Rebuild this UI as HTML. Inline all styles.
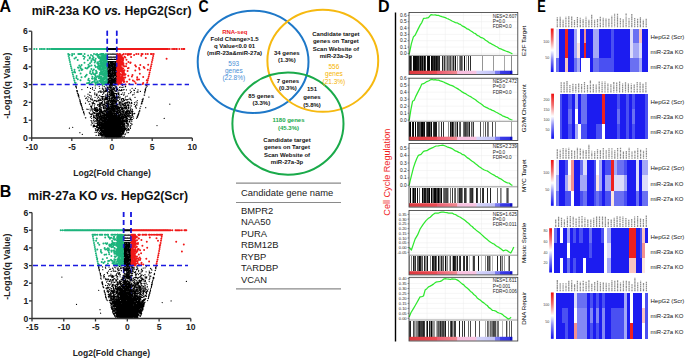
<!DOCTYPE html>
<html><head><meta charset="utf-8"><style>
html,body{margin:0;padding:0;background:#fff;width:685px;height:359px;overflow:hidden}
svg{display:block}
</style></head><body>
<svg width="685" height="359" viewBox="0 0 685 359">
<rect width="685" height="359" fill="#fff"/>
<g stroke="#1a1ae0" stroke-width="1.5" stroke-dasharray="5 3" fill="none"><path d="M107.3 30.7V138"/><path d="M116.7 30.7V138"/></g><path d="M132 117.4h0M108.1 122.7h0M109.8 130.8h0M120.8 130.9h0M119 134.9h0M118.4 126.3h0M108.2 127.6h0M114.9 124.1h0M108.8 133.7h0M102.4 125.9h0M120.2 125h0M112.4 119.8h0M117.5 136.6h0M112.4 132.5h0M104.7 106.6h0M104.4 121.4h0M108.4 128h0M105.8 136.2h0M119 108.7h0M103.1 132.8h0M122.8 98.5h0M107.3 127.2h0M110.2 119.1h0M113.8 129h0M112 134.2h0M115.5 133.6h0M112.6 134.1h0M111 114.3h0M113.9 123h0M107.6 129.1h0M101.7 118.9h0M125.1 128.7h0M114.4 135.4h0M113.2 133.4h0M106.6 126.2h0M98.5 110.3h0M120.8 112.3h0M118 127.8h0M100.5 105.9h0M114.9 128.5h0M111.7 135.5h0M101.1 112h0M113.8 108.3h0M106.8 135.2h0M108.8 123.3h0M107.7 104.5h0M111.3 135.1h0M126.9 110h0M111.2 108h0M116.4 130.7h0M113.1 134.1h0M118.2 106.4h0M109.3 112.1h0M112.5 131.5h0M104.2 107.8h0M111.5 116.8h0M119.3 127.4h0M106 122.2h0M124.7 115.7h0M111.6 128.7h0M106 130.2h0M116.5 132.5h0M116 136.1h0M108.1 131.2h0M122.3 132.2h0M100.9 103.3h0M113.1 131.4h0M117.3 136.1h0M108 133.2h0M99.3 110.7h0M85.7 98.5h0M92.9 111.6h0M113.9 112.4h0M110.7 133.2h0M120.4 90.5h0M130 98h0M110.7 129.3h0M102.3 128.8h0M85.5 103.2h0M113.3 124.5h0M111.8 135.6h0M110.5 109.6h0M127 114.8h0M123.2 130h0M122.4 123.7h0M117.1 134h0M114.7 94.8h0M116.3 99.7h0M110.2 105.3h0M120.8 105.2h0M112.7 107.8h0M95.5 118.4h0M107.5 132.8h0M111 132.6h0M114.9 132.3h0M117.5 129.8h0M112.2 132.4h0M112.5 107.4h0M125.4 127.8h0M122.5 117.5h0M105.2 127.8h0M128.4 128.5h0M106.3 132.4h0M120 133.7h0M103.8 129.8h0M107.6 133.8h0M101.6 131.9h0M123.2 116.6h0M105.9 115.5h0M119 131.1h0M105.4 135.4h0M126.7 107.7h0M96.6 109.5h0M124.3 103.2h0M109.3 130.2h0M119.2 123.8h0M104 135.9h0M113 126.3h0M108.9 98.5h0M107.2 131.1h0M110.9 99.9h0M110.2 131.6h0M118.7 118.1h0M113.1 124.6h0M107 126.2h0M119.9 130.2h0M132.4 119.6h0M110.5 136.7h0M104.4 128.7h0M119.5 134.5h0M119.7 125.8h0M107.3 127.3h0M108.9 119.2h0M117.6 134.7h0M110.2 132.3h0M133.9 94.6h0M116.6 122.9h0M108.2 132.4h0M109.9 110.3h0M100.9 90.8h0M111.8 131.7h0M110.5 136.1h0M131 112.3h0M107.7 134.4h0M118.2 93.5h0M113.5 96.6h0M103.2 124.9h0M119 123h0M104.5 129.7h0M118.7 123.2h0M115.2 135.3h0M121.6 106.9h0M112.2 127.4h0M106.2 133.3h0M118.9 133.6h0M102.6 128.5h0M127.7 99.5h0M105.2 97.4h0M94.8 107.8h0M119.8 128.8h0M121 107.8h0M116.4 129.2h0M118.4 100.7h0M117.8 123.8h0M104 132.6h0M119.5 112.3h0M108.2 122.2h0M111 123h0M108.3 129h0M115.7 110.5h0M104.3 130.3h0M104.2 117h0M118.1 108.2h0M110.9 137.2h0M117.4 112.1h0M94.4 100.3h0M102.2 128.7h0M109.1 131.7h0M105.7 129.4h0M100.3 134.9h0M123.7 122.8h0M124.8 129.1h0M119.5 124.9h0M105.5 127.1h0M110 131.9h0M106.5 121h0M100 134.1h0M114.3 126.2h0M112.9 117.5h0M109.3 133.3h0M135 97.4h0M104.4 119.1h0M107 102.7h0M117.4 135.1h0M112 115.3h0M95.9 129.7h0M104.9 122.8h0M110.3 126.3h0M107.9 120.8h0M124.7 103.8h0M117 106h0M110.2 122.2h0M111.8 114.4h0M123.9 117.9h0M127.4 121.6h0M110.2 122.3h0M110.3 135.6h0M119.5 121.3h0M100.9 124.5h0M105.5 135h0M108 126.2h0M129.9 113.6h0M107 129h0M112.6 116.3h0M123.3 119.9h0M115.5 123.5h0M107.5 126.3h0M109.2 136.4h0M116 115.8h0M128.9 114.6h0M97.4 98h0M111.9 98.3h0M118.6 112.6h0M118.2 126.5h0M124.4 107.1h0M115.6 137.1h0M115.1 136.8h0M94 126.7h0M108.7 115.6h0M111.9 109.3h0M109.5 131.9h0M127.3 105.3h0M113.8 133.8h0M114.7 95.9h0M106.8 101.3h0M116.5 93.6h0M111.2 134.6h0M104.5 133.5h0M116.4 133.8h0M115.5 107.5h0M121.9 87.4h0M109.3 121h0M95.8 113.3h0M116.2 133.8h0M104.6 110.4h0M115 134.3h0M106.2 136.9h0M108.6 129.6h0M89.2 112.7h0M115.2 123.3h0M109.3 125.3h0M120.3 130.1h0M105.2 129.5h0M122.8 125.9h0M106.7 127.9h0M105.9 99.4h0M113 118.8h0M106.7 133.4h0M117.2 128.5h0M116.7 134.3h0M112.6 129.8h0M117.8 131.6h0M104 125.5h0M113.3 110.2h0M140.4 91.4h0M117.5 128.2h0M102.9 135.4h0M121.5 108.6h0M131.2 119.4h0M107.6 120.9h0M116.7 109.5h0M112.2 123.8h0M99.2 121.4h0M109.4 120.5h0M115.5 126.7h0M90.6 98.6h0M101.9 98.3h0M102.4 125.2h0M124 127.6h0M109.6 136.4h0M97.4 117.7h0M109.6 129.2h0M112.7 114h0M114.9 107.4h0M112.9 123.6h0M124.4 108.2h0M116.3 116.4h0M119.6 131h0M112.3 129h0M120.5 127.2h0M106.8 120.7h0M117.5 127.7h0M102.1 132.3h0M110.4 119.1h0M111.7 127.3h0M112.7 107h0M110.2 136h0M105.5 107.3h0M112.7 128.7h0M100.7 103.1h0M91.3 114h0M126.1 102.4h0M116.7 119.7h0M115.4 131.5h0M111.7 134.2h0M110.6 134.1h0M115.7 128.7h0M111.1 122.7h0M117.6 131.5h0M108.3 100.7h0M117.4 128.9h0M102 123.3h0M112.6 123.2h0M116.9 129.1h0M116.7 137.8h0M106.7 110.6h0M104 129.2h0M113.9 124.4h0M123.6 128.3h0M115 126.4h0M111.6 117.9h0M111.1 104.1h0M101.6 117.2h0M101.9 118.4h0M115.2 134.1h0M113.1 137h0M108.6 121.1h0M117.2 135.6h0M92.4 99h0M119.7 103.9h0M114 122.6h0M110.1 123.9h0M117.3 131.9h0M108.6 132.7h0M113.3 129.4h0M118.6 127.7h0M109.9 110h0M115.9 131.9h0M110 128.2h0M106.1 132.5h0M102 123.8h0M124.8 124.1h0M129.1 114.9h0M111 104.8h0M105.3 133h0M107.9 125h0M97.9 130h0M115.4 125h0M120.6 130.4h0M110.1 119.9h0M110.9 113.6h0M112.9 106.7h0M119.7 122.1h0M108.8 136h0M117.9 128.7h0M114 112.8h0M117.2 113.6h0M109.9 96.2h0M120.8 132.8h0M117.4 130.5h0M110.5 123.6h0M109.2 120.5h0M100.1 126h0M114.3 118.6h0M126.6 111.6h0M121.9 130.2h0M135.7 105.6h0M109.1 123.8h0M110.4 132.4h0M118.4 107.4h0M106 119.3h0M109.9 137.1h0M122.9 118.8h0M97.1 114.8h0M109.8 135.3h0M115.6 133.2h0M102.7 127h0M115.6 132.3h0M101 96.5h0M106.3 113.4h0M104.1 126.5h0M113.6 134.3h0M108.7 118.8h0M94.4 113.6h0M92.8 100.2h0M131.2 100.2h0M105 132.8h0M110 130.5h0M109.8 134.4h0M110.5 130.8h0M104.6 126.8h0M113.7 130.7h0M115.8 119h0M116.3 129.9h0M112.4 119.5h0M107.5 135.4h0M117.2 130.2h0M109.1 132.1h0M103.7 104.8h0M111.6 128h0M99.1 125h0M98.5 123.9h0M103.3 125h0M105.9 136.7h0M112.7 137.3h0M114 98.7h0M105.1 96.6h0M110.7 128h0M112.7 118.8h0M118 120.4h0M108.7 117.7h0M109 107.3h0M123 127.8h0M102.8 116.2h0M131.5 105.9h0M120.2 123.8h0M112.2 130h0M115.3 115.8h0M107.5 135.9h0M86.4 97.9h0M105.8 115.8h0M102.3 118h0M115.2 135.2h0M100.9 114.2h0M115.6 117.9h0M115.4 130.4h0M105.5 119.8h0M104.4 117.7h0M113.1 121.8h0M117.6 116.8h0M106.2 127.8h0M104.7 134.7h0M113.4 131h0M120.4 124.6h0M100.5 130.4h0M91.1 107.1h0M120.7 120h0M94.5 125h0M105.3 114.2h0M102.6 102h0M114.1 129.6h0M117.9 96.3h0M113 108.9h0M123.6 124.2h0M117 89.9h0M124.6 100.2h0M98.8 115.2h0M113.9 121.3h0M103.4 131.9h0M103.5 134.2h0M124.2 110.5h0M105.1 98.4h0M109.4 119.8h0M114 134.7h0M122.6 109.9h0M107.3 129.5h0M131.6 117.2h0M119.4 108.9h0M108.9 137.1h0M109.8 125.8h0M114.6 133.3h0M114.3 126.8h0M102.3 130.4h0M120.6 131.6h0M114.1 132.4h0M116.9 119.1h0M125.8 104.2h0M109.5 133h0M109 128.6h0M111.2 129.8h0M107.7 123.9h0M97.5 108.9h0M122.4 124.6h0M105.9 90.5h0M111.6 136.7h0M115.4 105.2h0M111.7 114.7h0M109.7 128.1h0M113.6 133h0M110.7 125.1h0M112.4 126.7h0M113 130.8h0M108.2 133.7h0M110.8 124.6h0M113.5 116.6h0M127.3 112.4h0M115.7 131.9h0M115 129.3h0M113.1 126h0M123.8 100.5h0M112.1 94.1h0M110.2 128.7h0M110.5 128.9h0M109 126.3h0M114.7 114.5h0M103.2 106.3h0M103.2 118.8h0M103.8 118.2h0M122.5 123.1h0M124.3 120.5h0M93.8 109.5h0M105.9 129.1h0M104.6 128.2h0M103.7 118.8h0M117.5 123.7h0M114.8 115.4h0M108 108.9h0M110.2 112.6h0M119.3 136.9h0M95.1 120.9h0M101 121.7h0M107.8 128.4h0M102.1 125.4h0M124.7 128.4h0M125.9 128.5h0M106.9 113.1h0M124.5 123.4h0M100.3 107.9h0M107.2 133.6h0M116.9 117.5h0M127.2 127.3h0M110.8 129.5h0M106.1 98h0M103.9 111.6h0M132 114.6h0M117 127.2h0M112.4 129.7h0M115.2 125.3h0M109.9 104.9h0M112.9 121.4h0M114.9 100.3h0M112.9 122.5h0M120.7 113.8h0M120.8 137h0M110.4 130.2h0M116.2 131.3h0M116.9 126h0M129.4 119.6h0M110.5 128.7h0M118.4 110.7h0M109.4 116h0M99.2 126.9h0M89 97.5h0M111.1 123.6h0M120.2 113.8h0M119 117h0M116.3 111.8h0M102.5 132.8h0M109.7 125.8h0M115.9 123h0M117.6 124.9h0M101.3 127.8h0M128.2 108.5h0M122.1 120.2h0M102.8 98.1h0M117.5 126.3h0M105.6 128.6h0M118.6 113h0M114.6 132.4h0M114.7 116h0M114.8 117.5h0M111.2 88.3h0M107 122.1h0M114.4 111.1h0M118.8 121h0M126.4 120.1h0M112 132.9h0M113.5 137.3h0M117 115.7h0M108.9 106.1h0M116.1 132.5h0M121.3 124.6h0M103.4 112.9h0M128.3 111.3h0M117 133.3h0M113.6 116.2h0M115 120.7h0M109 128.1h0M100.7 127.8h0M110.1 130.1h0M103.4 133.4h0M108.8 125.2h0M106.6 133.1h0M120.9 124.1h0M109.8 133h0M106.5 125.5h0M98.7 117.2h0M114 133.4h0M112.2 136.8h0M109 134.7h0M105.3 120.5h0M114.9 136h0M112.1 134.3h0M101.4 120.8h0M117.6 104.5h0M112.2 133.5h0M104.7 115.4h0M98.2 100.2h0M111.8 136.7h0M127.3 102.4h0M122.1 129.4h0M98.4 135.3h0M114.5 113.9h0M106.9 126.4h0M110.3 104.1h0M107 135.7h0M94.4 105.9h0M109.6 134.1h0M121 107.2h0M97.9 125.2h0M125.3 105.4h0M130.4 107h0M104.7 104.8h0M118.2 120.1h0M119.6 111.4h0M92.6 87.5h0M110 107.2h0M111.8 124.3h0M113.1 131.8h0M103.7 126.7h0M120.7 112.4h0M107.7 126h0M118.2 110.8h0M117.5 124h0M113.5 125.6h0M111.7 98.7h0M100.4 132.3h0M115.5 124h0M115 86.1h0M114.7 129.5h0M126.3 114.1h0M112 98.9h0M115.1 120.8h0M110.3 133.3h0M121.5 133.3h0M111.7 123.9h0M116.6 113.9h0M94.7 125.5h0M114.3 108.9h0M110.7 120.9h0M106.8 115.5h0M107.8 117.5h0M116.8 127.5h0M116.2 103.2h0M122 108.2h0M106.9 108.6h0M115.8 129.5h0M96.2 109.5h0M121.6 126.2h0M106.5 118.6h0M107.9 120.7h0M114.7 123.8h0M113.9 120.9h0M106.9 134.4h0M105.8 133.1h0M121.8 108.7h0M110.8 127.5h0M112 125.1h0M112.7 92.3h0M103 124h0M116.2 130.9h0M116.9 130.4h0M121 118.4h0M107.8 104.8h0M99.6 104.5h0M121.1 136.7h0M111.4 133.7h0M109 133.1h0M110.7 116.5h0M100 128h0M120.2 87h0M120.2 126.8h0M111.5 126.8h0M110.7 134.5h0M104.8 131.6h0M116.2 136.6h0M111.4 123.5h0M114 99.8h0M118.3 125.6h0M106.1 125.4h0M109.4 122.4h0M112.5 130.7h0M105.1 126.4h0M107.4 109.3h0M99.9 124.5h0M103.8 114.1h0M114.6 128.2h0M105.9 122.9h0M112.5 123.9h0M123.2 117.3h0M111.7 115.4h0M81.9 89.5h0M103.2 127.8h0M113.3 127.4h0M120.4 102h0M122.1 110.9h0M127.1 116.8h0M101.9 130.5h0M106.6 123.9h0M113.8 123.4h0M104.8 131.2h0M123.7 106h0M119.2 117.8h0M111.9 129.5h0M106 127.6h0M113.7 127.2h0M107.8 97.1h0M109.4 115.3h0M118.8 132.5h0M114 130h0M119.6 99.2h0M105.4 111.5h0M114.3 136.3h0M115.1 107.1h0M117.1 121.3h0M114.2 136h0M121.2 118h0M107.2 114.4h0M107.8 95.1h0M114.4 130.6h0M111.7 113.7h0M110.5 120.6h0M123.9 127.8h0M113 128.5h0M126.4 111.1h0M107.9 123.2h0M105.1 104h0M101.2 126.2h0M108.9 116h0M123 120.3h0M125.3 113.2h0M102.6 115.1h0M113.3 131.6h0M118.5 94.5h0M99.6 123.9h0M94.8 92.8h0M106.4 135.4h0M102.1 126.8h0M110.3 135.1h0M98.9 118.8h0M103.2 117.5h0M103.8 117.4h0M98.2 116.9h0M121.8 89.5h0M105.3 130.8h0M126.4 126.1h0M115.1 118.7h0M116.4 128.2h0M95.8 110.5h0M114.1 120.5h0M117.5 128.7h0M107.1 103.5h0M108.7 137h0M119 110h0M96.9 126.9h0M104.5 119.8h0M111.1 128.7h0M112.8 116.9h0M99 126.1h0M94 119.1h0M123.6 110h0M115.1 122.5h0M104.9 125.5h0M101.4 116.4h0M116.4 136.8h0M113 113.9h0M108.4 133.6h0M110 125h0M103.5 108.6h0M110.9 135.9h0M102.4 121.7h0M116.1 126.6h0M119.4 125.4h0M123.6 130.3h0M120 112.9h0M110 129.4h0M127.1 117.7h0M110.5 117.9h0M125.3 113.3h0M122.4 127.7h0M106.6 126.9h0M128.5 129.2h0M120.2 118.4h0M109.2 122.4h0M118.2 127h0M118.9 114.4h0M114.4 129.9h0M107.9 87h0M102.5 122.1h0M109 119.7h0M114.2 128.2h0M120.4 133.9h0M104.6 116.2h0M108.6 122.6h0M119.5 108.4h0M109 135.1h0M112.4 104.4h0M114.2 126.4h0M105.4 121.7h0M108.7 126.2h0M101 104.3h0M110.8 128.2h0M91.8 121.2h0M116.8 101.1h0M114.2 124.8h0M112 128.6h0M118.9 119.7h0M116 110.9h0M112.6 135.3h0M103.6 124.4h0M109.6 125h0M127.3 112.8h0M114.5 124.8h0M105.4 91.6h0M98.5 121h0M118.7 136h0M135.9 107.2h0M96.6 94.1h0M105.1 90.1h0M108 125.6h0M107.8 119.9h0M118 130.5h0M113.4 117.8h0M115.1 117.8h0M102.9 136.8h0M132.1 110.7h0M96.8 126.5h0M122.8 104.9h0M103.2 118.5h0M111.5 103.3h0M117.2 125.5h0M104.8 130h0M96 107.6h0M106.3 123.2h0M105.9 134.1h0M104.8 123.5h0M110.4 131.5h0M109.4 118h0M114.3 118.2h0M113.1 134.5h0M121.3 117.6h0M107.7 134.9h0M117.8 122.9h0M120.9 127.6h0M121.6 118.5h0M102.2 128.1h0M117.4 117.4h0M118.3 114.1h0M130.5 99.4h0M116.4 127.3h0M105.7 126.7h0M102.4 85.8h0M102.5 101.5h0M105.6 123.7h0M103.4 123.1h0M96.7 108.8h0M109.9 124.6h0M114.7 101.5h0M106.6 137.8h0M127.7 101.8h0M118.2 117.5h0M130 105h0M109.6 98.6h0M112.8 136h0M116.8 109.6h0M107.6 117.3h0M117.5 104.9h0M109.2 125.3h0M122.1 107.1h0M110.7 85.2h0M108.6 132.9h0M126.8 110.3h0M107 122.8h0M94.9 104.1h0M130.1 115.8h0M104.9 114.5h0M115.4 125.4h0M103.4 117.9h0M107.1 121.5h0M103.6 92.2h0M114.2 131.2h0M108.5 137.3h0M96.5 95.5h0M118.7 127h0M118.3 117.6h0M103.4 132.4h0M90.6 106.2h0M115.6 120.5h0M117.7 122.4h0M95.7 109.5h0M108 121.7h0M114.1 116.5h0M123.4 104.8h0M130.2 126.2h0M113.2 135.3h0M106.2 129.5h0M96.6 115.8h0M111 126.6h0M119.8 117.3h0M123.6 124.9h0M111.3 132.9h0M127.1 116.2h0M116.1 137.1h0M110.6 114.8h0M114.9 133.5h0M119.9 122.6h0M100.2 106.3h0M120.2 115.5h0M117.1 126.7h0M128 115.6h0M115.9 121.4h0M104.8 127.1h0M115.1 130.1h0M112.5 105.8h0M115.4 119.4h0M115.2 109.1h0M125.2 112.1h0M111.1 125h0M114.6 119.4h0M122.8 124h0M109.5 132.7h0M95.8 126.4h0M115.3 129.9h0M104.4 110.8h0M113.2 127.9h0M115.7 127.6h0M133.1 116.3h0M107.3 132.5h0M104.2 115.6h0M109.3 135.2h0M111.7 137.2h0M119.1 125.3h0M104.8 133.5h0M118.7 134.4h0M112.7 121.6h0M122.4 101.2h0M106.6 127.6h0M123.1 127.1h0M95.1 100.9h0M113.5 103.6h0M110.5 117.6h0M125.1 109h0M118.3 120.5h0M100.8 125.6h0M109.5 135.9h0M120.9 121.7h0M96.6 132.3h0M113.1 102.8h0M111.3 125.8h0M118.4 118.5h0M102.9 91.7h0M105.2 125h0M111.9 101.5h0M107.1 127.5h0M104.7 120.8h0M113 119.4h0M130.5 118.9h0M113.1 129.1h0M111.8 99.5h0M119.7 130h0M108.3 118.7h0M105.4 105.6h0M106.9 95h0M107.4 119h0M107.1 129.7h0M120.7 119.5h0M120.9 124.3h0M112.3 134.9h0M109.2 126.8h0M107.1 119.1h0M112.9 132.7h0M107.1 132.2h0M121.5 109.3h0M116.2 134.3h0M122 109h0M102.8 115.4h0M121 133.6h0M99.5 120.5h0M120.3 127.9h0M103.2 118h0M112.7 136.1h0M122.8 113.3h0M134.8 113.6h0M106 126.8h0M113.7 126.2h0M113.5 134.2h0M104.1 134.6h0M112.2 112.5h0M100.5 110.3h0M114.6 131.2h0M113.7 122.9h0M101.5 133.9h0M101.1 120.2h0M105.3 102.2h0M112.3 90.4h0M108.3 116.4h0M118.7 129.2h0M127.4 111.3h0M114.6 123.2h0M108.1 127.2h0M118.9 94.4h0M114.9 126h0M106.4 130h0M99.1 113.7h0M106.5 108h0M129 99.2h0M117.3 121.3h0M129.8 122.1h0M116.8 121.2h0M112.3 124.9h0M109.1 118.3h0M110.6 132.1h0M121.8 121.4h0M112.5 117.9h0M116.9 132h0M122.7 125.7h0M111.8 135h0M109.8 113.3h0M117.3 125.7h0M124.3 125.3h0M115.7 136.3h0M114.9 128.2h0M112.7 112.1h0M115.5 135.9h0M119.3 130.7h0M108.9 124.6h0M110.9 119.1h0M119.8 137.4h0M117 113h0M125.1 117.6h0M104 122.4h0M108.1 131.3h0M111.9 109.8h0M121.6 134.9h0M113.6 110.3h0M111.6 119.4h0M122.1 119.6h0M113.6 135.7h0M123.6 118.4h0M110.9 129.2h0M119 102h0M111.7 126.6h0M97.3 122h0M112.4 130.9h0M130.3 117.2h0M133.8 90.1h0M115.9 118.4h0M93.8 125.9h0M111.7 125.4h0M119.1 126h0M115.4 131.2h0M100.1 112.5h0M105.5 130.4h0M124.5 117.6h0M118.2 118.1h0M125.2 116.6h0M104.6 132.7h0M102 96.4h0M109.7 124.7h0M124.8 126.7h0M127.1 118.2h0M120.6 113.2h0M119 129.6h0M100.3 115.3h0M118.9 121.5h0M106.6 119.3h0M118.1 112.3h0M112.5 102.4h0M98.9 114.3h0M103.3 123.6h0M130.3 110.5h0M104.4 134.8h0M104.8 134.2h0M110.3 127.2h0M118.7 115.5h0M110.9 135.6h0M111.6 118.5h0M116.6 128.3h0M125.4 113.9h0M119.1 128.8h0M109.5 97.8h0M113.4 126.3h0M118.4 113.6h0M115.9 115.4h0M105.4 116h0M101.4 116h0M120.9 134.5h0M105.7 118.3h0M120.1 121.5h0M111.1 135.2h0M108.8 123.2h0M107.8 109.4h0M112.4 99.1h0M99.9 119.4h0M122.9 133h0M108.4 115.8h0M117.9 121.8h0M114.6 100.4h0M107 132.8h0M104.7 136.3h0M113.1 130.7h0M111.9 100.3h0M115.9 133.4h0M110.3 109.9h0M97.6 109.6h0M124.2 126.5h0M107.3 131.8h0M111.1 119.5h0M105.9 131.4h0M105.6 134.6h0M119.8 112.7h0M117.2 131.1h0M111.8 130.7h0M107.7 116.3h0M103.2 104.6h0M106.9 109.6h0M114 134.8h0M114.1 132.9h0M137.2 102.9h0M94.6 107.5h0M125.9 96.3h0M107.7 130.8h0M114.8 125.2h0M101.6 109.9h0M118 137.5h0M116.2 130.5h0M106.7 131.9h0M113.2 124.1h0M101.2 134.5h0M115.2 130.5h0M93.1 112.8h0M118.4 130.8h0M104.8 118.2h0M118 137.1h0M113.6 129h0M128.5 104.8h0M100.6 132h0M113.7 135h0M99.8 113.6h0M109 111.1h0M112 137.3h0M102.8 111.8h0M114.6 89.5h0M120.8 132.7h0M109.1 130.2h0M109 131h0M100.8 119.7h0M106.3 133.9h0M116.7 134.8h0M112.7 121.9h0M112.1 125.6h0M114.2 137.6h0M105.4 130.1h0M124.9 129.5h0M97.5 121h0M115.5 129.2h0M115.7 116.3h0M115.2 122h0M123.2 112.1h0M114.5 110.3h0M96.4 120h0M114.5 128.8h0M116.4 129.5h0M106.8 125.3h0M108.3 126.8h0M109 120.2h0M124.3 129.3h0M98.8 115.4h0M122.1 134.8h0M127.7 120.1h0M113.3 87.9h0M111.6 137.3h0M136.1 101.8h0M123.2 118.1h0M123.2 111.4h0M117.4 119.3h0M118.9 116.3h0M120.9 109.4h0M108.2 135.2h0M112.3 134.5h0M120.3 133h0M116.7 131.9h0M116.7 124.2h0M119.1 131.4h0M124.4 100.6h0M104.2 123.2h0M109.4 121.8h0M120 136.4h0M106 103.4h0M111.5 130.5h0M111.8 128.1h0M106.5 121.8h0M131.8 121.5h0M111.9 116h0M109.3 93.1h0M114.6 106.2h0M123.8 128.9h0M109.6 124.1h0M111.5 118.8h0M105.5 120.8h0M108.8 132.4h0M108.2 136.4h0M113.1 110.4h0M110.8 116.2h0M104.4 114.2h0M111.7 115h0M124 112.6h0M110.6 130.5h0M101.1 126.3h0M112.3 116.2h0M110.3 124.7h0M97.7 114.5h0M100.7 125.3h0M109.2 94.4h0M117 137.1h0M99.2 110.6h0M116.8 124.3h0M115.7 122.5h0M117.6 121.1h0M110.1 133.9h0M116.7 106h0M105.2 87.9h0M123.6 104h0M101.3 125.3h0M128.6 105.7h0M96.9 130.5h0M110.8 131.8h0M110.3 121.3h0M104.7 130h0M109.5 130.5h0M104.6 131.7h0M125.4 133.9h0M116.5 133.7h0M109.3 134.3h0M110.2 136.4h0M103.2 125.9h0M116.8 120.2h0M116.6 105.1h0M118.1 118.3h0M97.5 105.2h0M125.1 103.6h0M108.3 123.1h0M110.3 114.1h0M108.4 88.9h0M121.7 133.8h0M132.4 109.3h0M115.8 85.9h0M109.9 111.5h0M98.3 129.4h0M119.5 128.6h0M116.1 135.1h0M101.6 92.2h0M110.2 118.1h0M96.6 119.7h0M127.8 109.6h0M115.1 104.7h0M110.7 112.6h0M109.1 130.7h0M115.4 126.2h0M115.8 121.1h0M121.8 120.9h0M89.5 113.2h0M112.7 123.7h0M106.6 102h0M117.9 115.4h0M104.8 118.7h0M108.2 123.8h0M120.3 115.4h0M108.8 100.1h0M104.5 124.2h0M108 106.9h0M110 115.5h0M113.6 120.9h0M111.8 122.2h0M108.6 111.3h0M128 130.4h0M102.8 117h0M102.2 130.8h0M106.4 116.9h0M101.9 122.4h0M120.9 102.8h0M122.8 92.8h0M96.9 111.5h0M90.3 114.2h0M116.9 107.4h0M100 111.5h0M108.9 106.7h0M103.8 123.8h0M106.7 137.5h0M102.2 124.9h0M112.6 127.8h0M95.1 132.3h0M121.2 127h0M117 133.1h0M122.1 118.7h0M112.2 108.1h0M99.3 116.9h0M116.5 125.5h0M115.2 123.1h0M120.2 130.7h0M113.7 117.6h0M103 132h0M113.6 119.6h0M113.4 133.6h0M128.7 106.1h0M108.5 101.5h0M112.4 117h0M129 108.1h0M122.8 131.1h0M105.8 134.8h0M97.5 111.4h0M130.4 128.4h0M119.6 102.6h0M100.5 116.9h0M107.2 117.1h0M106.4 117.6h0M101.3 112.8h0M108.4 130.3h0M106 121.1h0M109.7 117.3h0M99.2 122.7h0M92.1 102.5h0M136.9 105.1h0M105.1 129.1h0M116.2 100.8h0M104.4 124.4h0M110.9 118.3h0M126.1 108.7h0M122 116.6h0M93 114.2h0M120 101.7h0M130.4 113.4h0M112.6 132.1h0M117.5 98.9h0M122.7 114.5h0M113.4 132.5h0M111.7 117.5h0M103.6 122h0M124.4 121.5h0M103.6 129.1h0M114.2 118.8h0M121.7 128.1h0M108.5 125.1h0M134.3 92.8h0M104.1 123.6h0M118.1 96.8h0M112.7 111.6h0M113.9 125.5h0M99.4 131.3h0M101.3 129.8h0M116.5 114.7h0M107 90.7h0M117.8 129.6h0M108.1 111.6h0M99.8 127.1h0M112.9 127.2h0M106.8 132.6h0M113.1 132.9h0M117.1 116.3h0M112 118.8h0M118 126.1h0M105.5 132.3h0M103.3 127.5h0M112.9 129.9h0M121 131.9h0M114.1 128.7h0M124.1 125.5h0M127.5 120.4h0M109.5 122.8h0M102.6 99.2h0M110.2 133.4h0M108.2 126.7h0M117.2 123h0M128.1 102.9h0M96.7 110.5h0M116.5 132.9h0M125.9 113.8h0M114.3 120.2h0M122.2 104.6h0M108.8 126.1h0M98.6 128.3h0M100.9 123.8h0M106.2 130.4h0M117.5 100.5h0M118.4 116.6h0M109.1 128.8h0M111.2 133.7h0M121.2 112h0M99.7 125.2h0M103.2 130.6h0M106.7 128.9h0M109.5 131.4h0M109.5 137.4h0M108.1 129.9h0M105.5 124.5h0M109.8 114.9h0M119.2 107.6h0M106.2 123.8h0M120.1 111.4h0M112.8 125.4h0M98.2 118.8h0M119.8 119.7h0M108.2 134h0M118.1 113.2h0M114 120.2h0M127 122.7h0M100.9 116.1h0M121.5 134.4h0M110.5 127.4h0M116.1 122.5h0M123.6 120.7h0M130.1 110.5h0M84.8 96.1h0M98.9 125.4h0M107.6 133.3h0M110 119.5h0M115.2 111.2h0M100.3 124.3h0M108.1 105.8h0M116 96.9h0M104.8 91.3h0M125.1 119.1h0M110.8 106.5h0M111 131h0M115.8 128.4h0M102.1 135.2h0M98.1 127.7h0M102.1 111.4h0M111.8 123.2h0M111.5 97.6h0M106.9 119.6h0M102 115h0M107.9 101.8h0M100.6 124.9h0M119.4 132.2h0M102.4 119.6h0M103.8 113.5h0M113.6 113.3h0M117.8 129.1h0M114.1 135.6h0M109.7 123.6h0M112.9 137.5h0M109.8 90.7h0M122.6 129.6h0M107.2 131.5h0M108.2 129h0M109.9 95h0M112.1 126.4h0M109.7 119.1h0M124.3 114.8h0M114.7 137.1h0M124.6 127.5h0M116.1 119.5h0M103.8 120.7h0M121.1 130.7h0M109 135.7h0M100.5 109.8h0M129.7 115.9h0M103.2 134.9h0M116 135.3h0M104.5 114.7h0M114.8 136.7h0M125.2 120.9h0M99.2 121.8h0M105.2 117.7h0M102.5 131.6h0M113 108.1h0M109.6 114.2h0M124.3 126h0M102.9 133.4h0M102.8 96.6h0M119.9 119.1h0M120.6 132h0M127.6 124.8h0M114.6 121.4h0M126.6 108.5h0M112.2 117.6h0M102.3 123h0M108.5 112h0M87.6 87.4h0M103.5 131.5h0M113.5 99h0M104.4 101.6h0M108.8 116.4h0M111.9 119.5h0M105 122.6h0M91.6 122.8h0M104.8 135.7h0M106 125.1h0M113.6 135.9h0M112.5 103.9h0M104.2 86.4h0M116.4 105.4h0M101.3 131h0M111.7 112.7h0M121.6 128.4h0M115.4 101.9h0M111 130.5h0M118.3 130.7h0M119.4 135.1h0M117.9 132.1h0M127.4 126h0M108.1 124.4h0M123 118.6h0M126.8 118.4h0M108 117h0M118.5 135.1h0M110.2 108.8h0M110.7 123.8h0M119 103.6h0M113.8 130.5h0M113.8 131.8h0M102.3 128.1h0M134.7 102.7h0M128.7 116.1h0M124.8 127.3h0M117 106.8h0M110.9 125.8h0M93.4 120.3h0M105.2 124.1h0M108.3 102.4h0M103 113.7h0M108 105.4h0M106.7 113.8h0M112.3 120.4h0M116.4 94.4h0M121.4 127.7h0M114.9 111.5h0M120.7 120.8h0M113.9 101.4h0M99.4 113.4h0M91.2 96.9h0M124.5 131h0M118 119.1h0M107.9 107.9h0M121 118.9h0M114.2 137.1h0M97.6 130.1h0M115.4 134.9h0M111.1 121.4h0M112.6 133h0M120.5 125.8h0M121.1 117.5h0M108 119.3h0M119.6 123.2h0M115.7 122.9h0M116.2 129.1h0M115.1 129.1h0M105 116.9h0M94.8 93.7h0M111.3 124.3h0M124.4 120h0M113.9 137.8h0M103 126.9h0M98.8 104.9h0M118.3 128.4h0M112.4 114.5h0M106.9 126.8h0M123.6 111.1h0M123.9 116.8h0M121 115.1h0M118.9 127.2h0M97.4 124h0M108.5 135.4h0M106.1 124.5h0M96.6 127.7h0M111.1 101.4h0M106.3 112.1h0M101.4 135.3h0M119.7 124.5h0M120.8 126h0M102.3 117.2h0M113 111.5h0M104.6 123.4h0M106.4 97.1h0M128.6 125.9h0M90.5 88.4h0M108.7 108.1h0M106.2 106.7h0M115.1 101.8h0M92.2 110.6h0M118.8 126.6h0M132.2 115h0M129.1 117.2h0M107.8 115.8h0M113.6 120.7h0M106.9 117.6h0M107.9 119h0M120.5 106.8h0M112 94.4h0M92.5 89.2h0M111.3 106.7h0M118.8 90.7h0M124.1 124.5h0M123.9 115.1h0M114.8 118.9h0M117.8 132.9h0M114.3 124.3h0M118.4 111h0M121.6 114h0M113.1 136.6h0M119.2 130h0M112.7 91.3h0M114.1 119.7h0M91.2 124.9h0M122.6 137.2h0M105.8 128.7h0M111.1 132.9h0M110.9 117.3h0M107.2 136.4h0M126.1 121.9h0M107.1 119.8h0M87.3 100.3h0M105.9 117.4h0M109.2 127.6h0M117.6 121.9h0M103.2 116.7h0M99.3 117.6h0M108.9 109.7h0M118.8 130.5h0M108.5 112.8h0M105.4 99.5h0M117.6 133.2h0M126 115.6h0M107.9 135.5h0M118 134.5h0M106.7 85.7h0M106 125.8h0M95.2 115.8h0M100.9 91.6h0M106 109h0M95.3 128.6h0M105 99.9h0M115.4 100.8h0M107.5 107.7h0M125.1 121.5h0M112.2 91.1h0M112.9 120h0M115.2 120h0M119.5 108.1h0M121.4 129.7h0M122.6 120.8h0M121.3 125.7h0M124.9 116.2h0M101.4 130.6h0M112.1 122.4h0M113.8 113.8h0M114 117.3h0M116.3 111.7h0M109.2 115.7h0M121.9 101.2h0M112.5 127h0M120.1 124.3h0M126.9 99.6h0M94.6 103.5h0M111.1 119.9h0M122.8 122.5h0M98.4 125.3h0M119.9 127.6h0M119.7 126.3h0M100.6 100.4h0M92.7 123.3h0M115.1 121.5h0M100.3 112.9h0M110.1 102h0M110.7 119.3h0M125.6 86.4h0M100.3 104.7h0M112.8 135.2h0M99.8 127.4h0M137 92.2h0M105.3 124.2h0M115.2 131.9h0M124.8 126h0M100.4 133.4h0M112.2 120.2h0M117 136.2h0M112.4 125.9h0M126.6 121.8h0M112.3 127.7h0M109.9 116.1h0M120.3 128.4h0M98.8 127.9h0M115.3 114.9h0M120.6 124h0M119.4 117.7h0M95.8 117.6h0M128.5 110.7h0M111.8 129.2h0M108.5 105.4h0M107.1 97.3h0M90.9 98.9h0M122.9 112.6h0M100.9 121.8h0M100.8 134h0M133.6 118.1h0M115 101.6h0M118.8 98h0M113.4 119.9h0M108.3 136.6h0M111.8 108.8h0M102.1 123h0M100.2 122.3h0M96.6 125.8h0M127.8 114.8h0M110.1 123.4h0M114.7 127.6h0M113.3 112.2h0M103.2 126.3h0M106.5 124.7h0M112.1 121.2h0M118.6 123.3h0M104.5 131.8h0M107 125.1h0M114.6 123.3h0M87.9 99h0M127.2 121.3h0M131.9 124.5h0M94.2 90.4h0M126.4 117.1h0M104.8 127.6h0M105.5 133.5h0M116.6 124.5h0M108.7 134.2h0M105.5 125.9h0M106.8 106.1h0M109.9 117.6h0M115.3 109.1h0M113.9 110.3h0M117.6 137.3h0M104.4 108.8h0M128.2 107.6h0M103.9 127.8h0M120.2 114.3h0M117.1 129.4h0M100.5 92.2h0M123.9 115.3h0M108.3 104.2h0M101.6 100.1h0M122.9 123.2h0M117.6 120.4h0M118.5 123.9h0M125.2 102.9h0M103.7 111.3h0M124.9 134.7h0M105.1 119.9h0M89.5 95.2h0M106.5 91.3h0M106.8 118.5h0M105.9 120.4h0M113.4 105.2h0M109.5 131.2h0M113 113.7h0M104.3 126.2h0M111.6 100.4h0M93.5 101.8h0M130.8 125.7h0M118.6 115.8h0M117.5 118h0M114.9 133h0M105.9 88.9h0M103.4 89h0M121.2 94.4h0M103.8 120.2h0M116 133.2h0M109.9 135.2h0M105.3 131.4h0M102.5 134.7h0M113.2 122.9h0M96.1 135.4h0M106.9 129.9h0M109 111.8h0M114.4 122h0M101.5 124h0M115.9 108.9h0M108.2 129.5h0M113.9 95.6h0M124.1 132.1h0M104.5 124.8h0M101 118.2h0M123.5 112.5h0M105.1 132.3h0M111.6 131h0M112.7 136.3h0M117.8 133.9h0M103.4 130.6h0M110.9 115.3h0M111.5 109.1h0M97.3 110.9h0M138 89.9h0M115.3 129.4h0M119.3 128.8h0M106.4 121.3h0M99.9 126.6h0M111.2 134.1h0M107.4 123.1h0M134.6 113.4h0M106.1 134.6h0M91.2 99.7h0M104 124.5h0M119.9 114.9h0M101.1 127.5h0M121.3 120.6h0M124.2 124.9h0M98.6 100.9h0M111.5 129.1h0M121.6 90.6h0M119.4 119.1h0M117.3 113.1h0M103.3 98.9h0M112.3 122.5h0M112.5 133.5h0M111.5 132.3h0M122.4 126.6h0M124.4 121.8h0M110.4 108.1h0M104.6 119.3h0M123 134.2h0M112.9 114.8h0M122.1 122.5h0M114.7 134.3h0M117.5 89.4h0M106.3 115.2h0M121.9 123.2h0M120.8 110.5h0M99.9 121.8h0M98.3 92.1h0M112.1 127.1h0M120.1 128h0M119.4 132.9h0M115.8 116.5h0M99.7 88.3h0M120.6 117.5h0M122.5 108h0M93.8 117.7h0M116.6 127.2h0M112.8 120.6h0M129.1 121.4h0M118.4 133.6h0M107.4 99.7h0M114.8 114.7h0M113.6 131.8h0M98.6 114.2h0M123.1 114.3h0M121.7 84.7h0M129.7 110.9h0M102 125.9h0M91 95.6h0M99.2 116.1h0M117.8 88.9h0M102.8 120.5h0M118 136.3h0M118.8 132.9h0M115.3 128.1h0M99.1 130h0M108.7 134.7h0M109.5 118.5h0M120.5 116.8h0M97.7 120.6h0M100.1 125.7h0M121.4 117.1h0M106.6 98h0M114 118.5h0M94.1 115.9h0M116.4 125.1h0M122.5 131.2h0M117.8 113.6h0M108.6 130.1h0M108.8 133.9h0M117.3 116.1h0M116.4 117h0M108 134.3h0M103.7 125.3h0M121.4 90.2h0M90 101.4h0M120.1 134.4h0M109.4 126.4h0M117.5 135.3h0M102.4 88h0M114 111.4h0M101 135.2h0M118.5 132.8h0M123.7 95.2h0M132.5 115.7h0M114.4 137.5h0M105.3 122.4h0M132.1 88.3h0M121 122.7h0M99.7 95.4h0M116.1 118h0M118.4 127.9h0M109.9 126.9h0M106.2 112.7h0M116.6 135.4h0M97 113.6h0M126.3 128.4h0M105.2 136.2h0M110.9 112.4h0M107.8 130.3h0M108.5 128.7h0M124 105.7h0M110.2 127.6h0M117.7 111h0M106.6 98.4h0M122.1 115.5h0M118 124.3h0M123 124.9h0M107 136.8h0M135.2 106.3h0M113.3 91.7h0M128.3 123.2h0M125 120.5h0M95.7 111.7h0M109 121.2h0M121.4 131.9h0M125.5 112.6h0M115.2 102.6h0M106.6 119h0M119.4 116h0M132 103.1h0M96.2 123.4h0M99 127.6h0M107.1 136.1h0M123.7 133.5h0M101.9 119.2h0M101.8 119.4h0M107.1 122.5h0M123.4 89.8h0M99.9 114h0M118.3 121.6h0M118.9 128.2h0M125.6 107.9h0M127.3 96.1h0M107.2 128h0M114.4 132.8h0M108.5 135h0M126.1 116.4h0M99.9 98.6h0M120.6 134.6h0M119.9 126.6h0M106.2 122.3h0M129.7 103.2h0M126 120.8h0M114.7 136.1h0M104.7 135.8h0M101.1 112.6h0M125.1 115.7h0M102.2 132.2h0M116.5 118.8h0M97.9 115.1h0M114 136.5h0M115.7 119h0M122.8 125.4h0M103.6 115.9h0M106.9 134h0M125.6 129.4h0M90.6 98.9h0M100.6 114.5h0M109.7 129.7h0M104.8 119.3h0M130.9 108.5h0M107.3 130.1h0M120.3 112h0M91.6 118.3h0M95.2 85.8h0M96.9 127.6h0M110.4 116.8h0M106.5 115.7h0M114.9 97.1h0M130.5 92.7h0M105.7 115.7h0M119.9 107.6h0M125.2 86.8h0M125.4 119h0M118.1 125.2h0M108.4 131h0M119.4 116.9h0M110.9 116.5h0M98 120.4h0M114.2 121.8h0M115.1 116.9h0M112.7 117.4h0M108.3 123.7h0M102.8 127.3h0M103.4 133h0M100.4 118.7h0M118.5 119.8h0M101 132.8h0M108.8 113.9h0M123.5 124.3h0M102.2 115.5h0M130 120.8h0M96.9 118.7h0M108.2 114.7h0M97 110.9h0M106.6 128.4h0M114 103.4h0M119.5 121h0M117.4 125.9h0M103.5 107.4h0M117.6 122.9h0M101.9 103.3h0M138.1 92h0M114.8 126.9h0M119.5 127.8h0M114 111h0M132.8 114.1h0M97.5 122.7h0M99.7 106.8h0M102.8 124.4h0M125.7 99.5h0M107.1 111.3h0M118.3 117h0M126.8 119.1h0M128.3 116.3h0M116 91.4h0M126 118.6h0M103.1 123.6h0M111.5 131.7h0M122.4 121.7h0M102.7 130.1h0M102.7 94.4h0M122.5 109.2h0M97.2 116.9h0M123.6 98.6h0M116.7 106.7h0M103.4 120.4h0M106.7 126.6h0M113.2 129.6h0M122 90.3h0M111.3 106.2h0M109.6 127.1h0M89.8 104.1h0M108.7 121.9h0M127.5 115.8h0M114.5 125.7h0M123.6 132h0M114.5 128.5h0M114.3 122.6h0M98.7 100.2h0M118.3 135.5h0M107.5 98.9h0M116.2 127.3h0M109.6 114.3h0M126.8 100h0M120.8 123.6h0M104.4 117.2h0M118.3 96.5h0M114.7 117.7h0M110.5 90.6h0M112 113.6h0M137.3 100.5h0M110 126.5h0M121.4 130.7h0M117 131.4h0M122.4 130.5h0M115.9 115.1h0M97.4 121.3h0M108.7 131.7h0M126.2 120.1h0M91.3 116.4h0M117.9 117h0M107.6 114.6h0M122.2 115h0M122 124.1h0M98.7 134.1h0M119.1 135.6h0M121.2 128.3h0M120.1 102.2h0M116.9 135.2h0M112.9 115.7h0M101.4 129.7h0M114.6 118.8h0M92.3 103.4h0M101.2 121h0M119.2 115.7h0M105 121.9h0M119.8 97.3h0M100.3 99.4h0M110.9 115.2h0M100.9 129.9h0M113.2 121h0M102.5 103.9h0M93.4 115.5h0M108.2 103.5h0M105.6 125.5h0M118.4 124.7h0M120 130.8h0M99.5 128.3h0M122.4 126.8h0M109 113h0M113.7 136.5h0M121.2 98.6h0M132.4 112.7h0M100.6 114.8h0M115.3 127.1h0M106.8 90.1h0M114.8 114.2h0M105.3 127.7h0M111.1 131.7h0M109.9 120.4h0M106 121.5h0M122.3 128.6h0M107.1 112.4h0M112.6 118.5h0M111.3 104.2h0M113.6 122.4h0M110.3 125.9h0M97.5 130.5h0M122.6 85.4h0M124.9 114h0M93.4 125h0M104.6 112.9h0M102.3 105.4h0M107.2 116.6h0M109.9 128.8h0M107.1 123.4h0M121.1 134h0M111.8 105.2h0M130.9 109.3h0M118.7 122.5h0M106.6 125.2h0M113.1 96.8h0M110 121.1h0M106.5 99.5h0M112.8 127.3h0M108.6 121.3h0M99.8 103.7h0M115.4 121.2h0M106.2 131.2h0M91.5 106.9h0M100.9 130.6h0M125.4 115.7h0M94.7 109h0M121.8 111.8h0M107.7 114h0M116.6 131.3h0M130.9 123.4h0M95.4 88.1h0M92.4 104.9h0M116.4 102.2h0M114.8 119.5h0M89.4 104.2h0M93 122.8h0M120.5 105.3h0M113.6 137.1h0M106.7 137h0M116.2 125.8h0M100.3 116.1h0M130.7 109.8h0M107.6 131.5h0M124 113.5h0M96.1 118.5h0M113.5 115.4h0M97.4 124.4h0M102.9 121.5h0M101.5 137h0M130.2 119.3h0M105.3 137h0M113 124.9h0M114.4 93.2h0M112.4 113.3h0M108.7 110.6h0M103.9 119.2h0M119.8 135.3h0M88.1 109.3h0M110.3 118.4h0M97.5 123.5h0M102.5 131.8h0M104.6 130.8h0M93.8 103.5h0M101.9 110.9h0M121.7 124.1h0M116.3 96.1h0M110.6 111.1h0M98 120.8h0M119.2 136.6h0M118.4 136.6h0M122.7 134.7h0M126.7 123.7h0M123.8 100.2h0M98 115.8h0M120.7 125.3h0M116.3 121.4h0M126.8 113.7h0M123.7 108.2h0M121.2 128.1h0M101.2 111.1h0M100.9 102.6h0M116.1 124.1h0M97.4 126.9h0M100 112.8h0M111.5 119.9h0M120.1 132.7h0M130.2 90h0M104.2 108.3h0M111.5 134.3h0M86.9 109.2h0M128 113.5h0M131 115.7h0M104.2 125h0M108.3 117.1h0M106.7 131.6h0M110 91.5h0M108.4 127.3h0M97.2 125.9h0M105.4 117.3h0M116.7 122.5h0M123.1 87.2h0M112.7 124.3h0M113 103.7h0M114.3 135.1h0M103.9 118.4h0M106.6 136.2h0M118.6 109.9h0M115.8 128.2h0M114.2 127.6h0M118.7 108.6h0M124.9 119.8h0M92.3 113.8h0M122.6 114h0M101.6 123.7h0M116.6 108.9h0M128.5 132.5h0M123.9 121.4h0M119.1 109.1h0M113 118.4h0M121.6 126.7h0M116.6 125.9h0M111.3 108.4h0M100.7 120.6h0M106 123.6h0M121.4 115.2h0M93.4 117.2h0M124.1 89.5h0M124 110.1h0M104.6 117.9h0M100.8 115.1h0M126.9 105.9h0M116.1 98.2h0M108.4 104.9h0M110.8 125.3h0M117.2 136.5h0M104.3 126.4h0M91.5 106h0M106.8 89h0M123 131.7h0M102.3 129.3h0M94.6 112.7h0M113.9 106.8h0M95 97.3h0M121.6 116.3h0M107.5 112.1h0M104.2 103.6h0M130.2 116.9h0M113.6 128.5h0M121.9 105.1h0M108.5 110.8h0M100.8 120.7h0M122.4 124h0M113.3 124.8h0M96.4 116.9h0M110.9 112.2h0M115.9 130.1h0M91.6 107.8h0M101.7 102.4h0M104.7 137.7h0M98.9 106.6h0M100.3 109h0M119.4 136.5h0M119.7 119.9h0M118.5 119.2h0M130 119.1h0M115.3 124.3h0M106.2 109.5h0M111.9 107h0M100.7 111.2h0M123.4 127.7h0M115.3 109.5h0M110.5 125.3h0M96.1 115.7h0M116.6 111.1h0M116.1 106.6h0M98.2 112.7h0M123.4 132.8h0M126.6 130.9h0M116.4 120.8h0M109 114.9h0M122.3 115.8h0M108.6 112.6h0M113 100.4h0M108.9 109.1h0M110.7 115.8h0M107.5 101h0M104.3 104.7h0M122.4 130.1h0M114.6 126.7h0M111.2 137.5h0M93.1 103.2h0M124 130.7h0M121.1 113.5h0M131.3 120.1h0M115 131.3h0M97.9 104.3h0M110.9 102.4h0M122.5 127.9h0M128.3 113.2h0M124.6 92.8h0M95.1 120.5h0M98.7 97.4h0M109.5 135.5h0M114.6 98.1h0M109.9 125.6h0M103.4 106.4h0M111.3 116.5h0M106.3 123.5h0M116.3 97.7h0M111.8 130.9h0M103.2 128.5h0M129.1 112.3h0M118.4 130.1h0M108.8 117.8h0M117 124.1h0M104 127.4h0M106 110.7h0M107 121h0M119.4 112h0M117.5 97.3h0M116.7 131.2h0M96.6 101.5h0M119.6 87.3h0M107.5 115.5h0M103.5 124.2h0M116 108.1h0M103.7 129.9h0M108.2 131.8h0M131.2 103.6h0M101.9 105.6h0M115.7 135.5h0M107.6 128.2h0M111.2 120.4h0M111.4 89.8h0M116.5 137.4h0M114 115.8h0M131.5 102.4h0M104.3 114.8h0M126.9 103.3h0M117.6 130.8h0M113.2 116.3h0M129.1 113.9h0M113.3 130h0M105.6 98.3h0M103.2 107.6h0M132 124h0M111.2 109.8h0M97.6 118.5h0M120.3 118.4h0M101.2 128.4h0M110.1 111h0M134.4 90.4h0M102.1 97.5h0M93.3 125.8h0M108.7 131.8h0M123 116.2h0M117.6 111.5h0M129.5 112.5h0M121.7 89.6h0M116.2 100.1h0M126 111.8h0M123.6 116.4h0M108.8 129.6h0M103.1 107.8h0M105.8 135.6h0M101.5 123.1h0M119 120.3h0M121.5 99.4h0M129.3 129.9h0M90.1 109h0M107.4 121.6h0M106.9 103h0M126.1 107.7h0M114.5 120.9h0M111.7 122.5h0M117.5 134.2h0M92 109.7h0M111.5 107.2h0M125.9 114.3h0M132.5 115.2h0M105.2 96.2h0M112.6 137.2h0M104 127h0M112.8 107.5h0M112.2 117.2h0M118 131.1h0M113.3 103.9h0M99.4 100.7h0M99.9 128.6h0M95 110.4h0M101.8 129.4h0M118.1 135h0M114.2 127h0M122.5 103h0M117.6 109.6h0M106.3 129.5h0M115.5 122h0M105.7 108.4h0M99.4 120.1h0M105.3 135.9h0M121.7 135.3h0M122.7 126h0M114.4 134h0M113.6 123.7h0M132.8 111.4h0M114.4 120.4h0M93.7 112.5h0M100.7 127.7h0M112.5 108.5h0M124.1 94.3h0M119.4 132.6h0M121.5 136h0M91.8 108.9h0M109.6 128.7h0M96 110.2h0M111.7 122.2h0M128.9 101.8h0M107.2 124.5h0M132.5 94.9h0M131.3 111.6h0M103.9 107.4h0M101.2 107.6h0M104.7 102.4h0M109.6 121.3h0M104.1 122.1h0M107.7 108.9h0M96.9 115.8h0M115 106.6h0M121 128.9h0M118.6 97.5h0M96.9 120.2h0M106.9 110.2h0M101.1 109.3h0M122.4 116.3h0M123.4 126h0M104.7 121.9h0M97.5 113.4h0M127.9 104.6h0M102.1 120.5h0M128.6 129.3h0M111.6 122.9h0M129.7 121.9h0M109.5 84.9h0M117 122.6h0M114.2 131.6h0M126.3 130h0M128 110.7h0M120.2 97h0M111.3 112.9h0M104.5 129h0M127.9 105h0M118 111.9h0M118.1 119.7h0M99.2 86.3h0M106.5 117.8h0M132.4 111.5h0M112.3 110.4h0M106.7 122.4h0M124.5 124h0M103.1 115h0M94.3 110.3h0M101.5 107.9h0M112.2 121.4h0M104.1 115.1h0M111.7 89h0M108.5 118.2h0M103.9 105.1h0M121.5 102.9h0M94.5 117.4h0M119.8 121h0M111.6 96h0M113.7 101.3h0M87.9 96.6h0M108.4 107.3h0M130.2 127.6h0M103.4 121.3h0M115.5 134.7h0M107.6 120.2h0M118 133.4h0M88 94.2h0M121.2 100.1h0M95.4 108.7h0M126.3 114.7h0M100.4 128.5h0M91 120.5h0M116.5 136.6h0M105.4 131.9h0M116.2 88.2h0M103.6 117.4h0M130.8 113.1h0M108.8 122.1h0M109.8 104.1h0M119 121.9h0M114.5 109.8h0M123.3 117.4h0M101.5 103.6h0M97.5 119.4h0M125.7 120.5h0M110.5 106.5h0M117.5 109.8h0M107.3 115.2h0M101.7 128.7h0M127.4 129.2h0M116.9 118.4h0M122 126.4h0M124.1 110.9h0M108.6 126.6h0M117.6 133.6h0M125.2 104.8h0M96.6 114.7h0M110.6 112h0M113 105.4h0M115.8 101.5h0M119.1 107h0M122.4 111.7h0M107.6 94.5h0M105.1 134.5h0M122.2 117.5h0M110.9 120.8h0M107.8 137.1h0M119.1 105.1h0M99.7 118.9h0M121.5 130.9h0M113.1 101.3h0M135.4 88.3h0M112.1 123.3h0M116.7 115.8h0M99.2 109.6h0M99.6 112.6h0M119.8 110.1h0M120.7 122.8h0M105.6 127.8h0M97.3 120.1h0M106.4 105h0M119.7 107.3h0M100.3 129.5h0M90.4 117h0M124.1 117.7h0M118.1 136h0M92.5 108.8h0M110.6 122.6h0M99.5 105.7h0M119.5 89.8h0M94.1 108.3h0M126.4 89.9h0M101.7 117.3h0M122.9 136.6h0M110.9 100.7h0M109.8 117.1h0M90.3 110.8h0M124.9 127.8h0M122.9 121.9h0M106.6 134.4h0M99.6 123.6h0M119.8 120.2h0M116 124.3h0M102.4 120.2h0M118 129.8h0M119.7 126.9h0M123.4 130.9h0M109.8 108.3h0M121.4 113.6h0M114 109.4h0M103.8 133.2h0M123.7 116.9h0M119 110.7h0M118.9 104.6h0M104 131.7h0M105.7 119.1h0M104.3 113.3h0M120.6 126.3h0M107.1 128.5h0M113.6 124.2h0M116 116.9h0M107.5 136.4h0M108.1 103.9h0M126.5 121.2h0M119 124.4h0M106.4 114.5h0M111.5 101.9h0M123.5 99.6h0M99 117.7h0M94.1 121.5h0M111.2 123.8h0M99.8 91h0M103.7 93.3h0M113 109.4h0M114.6 131.4h0M122.3 133.3h0M104.3 99.2h0M125.6 121.4h0M101.2 135.5h0M107.2 124.2h0M122.7 111.8h0M119.7 115.4h0M113.3 115.2h0M101.8 129.8h0M127 120.3h0M114.9 97.6h0M107.3 119.4h0M120.7 134.8h0M113.3 111h0M102.3 113.6h0M104 131.9h0M99.9 117.4h0M97.4 131.2h0M98.3 132.7h0M129.7 111.5h0M113.3 121.7h0M120.2 131.8h0M97.3 129.2h0M131.3 91.7h0M117.8 125.6h0M111.6 130.1h0M128.7 106.9h0M88.3 101.7h0M133.9 113.5h0M112.4 106.5h0M115.4 106.8h0M108.6 120.3h0M119.8 123h0M126 125.5h0M110.1 109.7h0M117.5 107.2h0M128.8 93.5h0M91.7 106.7h0M117.6 110.5h0M99.4 111.5h0M114.4 105.3h0M120.8 103.9h0M94.9 123h0M104 129.7h0M93.7 116.4h0M119.1 135.9h0M121.7 120.9h0M130.2 109.8h0M107.8 108.6h0M102.2 132.9h0M97.1 107.6h0M116.5 123.6h0M97.9 122.7h0M110.2 106h0M116.6 117.9h0M103.4 127.9h0M124.5 107.5h0M104 100.4h0M102.6 112.9h0M98.9 123.8h0M113.4 118.7h0M118.8 120h0M121.5 122.3h0M124.8 130h0M91.4 114.8h0M122.5 98.5h0M117.1 93.9h0M103.9 110.3h0M109.8 122.9h0M115.7 93.3h0M97.5 110h0M120.8 129.6h0M107.4 110.6h0M105.3 97.5h0M118.4 137.4h0M112.1 113.9h0M105.5 122.2h0M110.9 111.2h0M111.6 110h0M125.5 107h0M118.5 131.9h0M124.3 136.7h0M111.3 136.1h0M118.9 131.9h0M123.2 126.4h0M126.3 106.7h0M104 130.8h0M109.3 112.4h0M108.6 125.3h0M123.1 123.7h0M107.9 113.3h0M124.7 124.6h0M99.1 108.9h0M116.4 126.5h0M103.9 119.3h0M89.8 92.2h0M105.6 110.2h0M98 96h0M123.4 111.8h0M95.6 130.6h0M107.3 123.4h0M124.4 128.2h0M105.2 111.7h0M107.5 120.7h0M125 111.3h0M104.6 91.9h0M101.1 125.1h0M111.6 121.1h0M118.9 92.9h0M122.7 107.6h0M123.2 128.7h0M129.6 102.7h0M116.1 127h0M104.8 134.9h0M99.8 109.4h0M109.1 107h0M116.8 132.3h0M128.8 111h0M136.3 108.2h0M101.7 117.9h0M117 108.3h0M112.5 125.7h0M109.6 100.1h0M99.1 99.9h0M99.3 133h0M118.3 129.3h0M116.1 111.6h0M98.1 113.6h0M120.3 122h0M102 115.8h0M115.6 118.5h0M123.4 121.2h0M99.5 122h0M105.8 114.4h0M102 135.7h0M119.8 116.7h0M101.4 127.7h0M99 135.6h0M123.1 101.6h0M123.4 119.6h0M94.9 94.7h0M112.4 101.1h0M114.8 98.9h0M97.1 94h0M113.4 105.7h0M105.4 111.8h0M100.1 118.4h0M128.5 124.5h0M115.8 117.5h0M118.1 123.7h0M100.9 103.1h0M96.4 107.6h0M118.9 119.2h0M93.1 126.8h0M114.8 130.8h0M102 112.6h0M112.5 110h0M96.2 114.3h0M128.2 119.3h0M96.1 100.3h0M107.9 97.3h0M134.3 104.4h0M105.2 136.3h0M111.9 103.5h0M90.2 92.4h0M99.7 108.4h0M119.3 133.7h0M102.4 89.1h0M99 120.7h0M123.2 108.6h0M115.9 121.8h0M103 136.3h0M108.3 119.9h0M102.9 121.2h0M115.1 98.7h0M98.3 129h0M112.4 109.3h0M110.1 137.5h0M103.2 131.4h0M127.1 132.7h0M102.7 125.6h0M97.5 125.3h0M109 137.8h0M102.6 115.4h0M108.1 137.7h0M115.6 117.6h0M117 134.5h0M124.6 105.5h0M113.5 106.9h0M104.9 116.4h0M112.2 105.6h0M93.4 102.8h0M102.5 132.7h0M122.4 119.8h0M117.7 129.3h0M97.2 122.1h0M116 108.3h0M117.9 127.5h0M137.6 91.8h0M98.8 91.9h0M104.7 135.5h0M131.1 118h0M94.7 126.4h0M120.5 129h0M121.8 111.7h0M126.4 112.7h0M126 106h0M111.3 131.8h0M112.2 118.6h0M97.2 101.2h0M127.6 123.6h0M136.7 104.6h0M103.3 134.5h0M110.6 115.3h0M115.5 105.3h0M120.4 122.7h0M115.1 137.8h0M99.7 133.8h0M111.2 127h0M132.1 113.4h0M123.5 122.7h0M117.2 125h0M114.9 127.3h0M98.6 121.9h0M103.5 120h0M130.8 112h0M112.5 98.1h0M109.9 118.5h0M123.4 108.3h0M126 123.1h0M120 131.4h0M120 111.9h0M117.2 120.3h0M99.3 102.8h0M106.7 106h0M122.1 126h0M116.3 112.4h0M118.6 132.4h0M102 129.2h0M115.5 102.7h0M125.5 117.4h0M96.4 113h0M115.2 124.3h0M98.3 124.7h0M97.5 118.2h0M123.8 112.9h0M104 114.6h0M104 130.5h0M126.3 117.6h0M127.1 111.1h0M117.5 109.1h0M116.6 120.5h0M101.9 134.7h0M121.9 128.3h0M101.3 122.4h0M126.1 117.5h0M114.2 117.1h0M123.3 129.9h0M100.3 122.9h0M110.5 122.9h0M103.6 96.6h0M120.6 136.6h0M119.2 95.8h0M120.6 136h0M121.7 94.4h0M108.7 124.6h0M105.5 134.2h0M109.3 108.7h0M109.8 113.9h0M105.6 94.8h0M96.1 121.3h0M96.8 94.9h0M115.4 113.5h0M103.2 133.9h0M126.2 108h0M111.6 125.2h0M127.6 118.3h0M107.3 124.9h0M117.7 132.4h0M103.6 90.3h0M107.3 128.3h0M117.9 92.1h0M106.1 114.1h0M105.2 130.3h0M125.3 97.8h0M99.1 130.7h0M102.3 99.9h0M125 119.6h0M109.4 119.3h0M105.3 114.7h0M122.4 104.4h0M110.3 108.4h0M114.3 79.2h0M112.4 61.5h0M113.9 61.5h0M110.6 59.3h0M116 73.4h0M116.5 70.3h0M113.3 64.1h0M112.6 80.3h0M116 74.3h0M110.2 61.5h0M112.7 62.9h0M111.5 69.8h0M114.2 69.7h0M113.1 62.7h0M107.5 68.1h0M115 78.9h0M114.9 80h0M112.8 69.3h0M107.7 71.6h0M108.3 54h0M112.6 66.2h0M110.9 54h0M116.1 64h0M108.6 75.4h0M112.3 72.5h0M111.2 63.9h0M111.2 70.3h0M108.9 73.6h0M112.4 57h0M111.1 74.9h0M109.6 68.7h0M112 83.1h0M109.9 64.5h0M112.8 63.9h0M110.9 57h0M113.3 81.3h0M115 68.8h0M114.9 69.4h0M110 78.1h0M115 54h0M116.5 54h0M113.2 59.3h0M115.9 79.5h0M109.2 84.6h0M114.7 68.1h0M110.4 71.7h0M109.9 69.6h0M107.6 64.1h0M112.7 84.3h0M113.3 64.8h0M116.4 76.1h0M109.5 72.5h0M114.3 61.5h0M110 73.2h0M107.5 63h0M115.7 79h0M110 76.9h0M109.1 54h0M114 80.1h0M108 57h0M115.3 67.5h0M110.2 66.2h0M110.2 82.3h0M114.7 74.2h0M114.5 72.4h0M114.2 81.5h0M114.4 67.3h0M112.7 81.2h0M112.8 77.1h0M114.4 68.7h0M110.8 77.2h0M116.2 54h0M110.7 64.2h0M111.3 59.3h0M114.1 57h0M114.2 59.3h0M110.7 84.5h0M116 78.9h0M116.3 78.4h0M113.2 57h0M107.8 71.1h0M112.3 82.4h0M114.1 75.7h0M107.9 66.8h0M109.6 59.3h0M108.3 74.1h0M109.4 61.5h0M114.4 66.6h0M108.6 66.9h0M110.7 71.2h0M114.2 70.3h0M110 70.8h0M112.1 65.9h0M107.7 83.3h0M109.2 80.3h0M114.5 65.1h0M114 81.1h0M113.4 70.2h0M107.5 63.6h0M111.6 78h0M108.2 72h0M113.4 84h0M112 61.5h0M115.3 64.2h0M111.5 74.2h0M113.5 76.3h0M116.6 59.3h0M113.1 75.5h0M108.9 63.3h0M107.5 61.5h0M111.5 79.3h0M115.4 73.8h0M108.6 59.3h0M108.4 65.6h0M109 83.9h0M107.9 54h0M110.3 57h0M111.3 82.2h0M110.7 72.5h0M111.4 83.6h0M115.9 61.5h0M114.7 57h0M115.8 67h0M110.2 70.2h0M115.5 80.7h0M110.9 73.7h0M110.4 73.7h0M109.4 68.8h0M108 83h0M114.9 70.5h0M116.5 65.5h0M116.6 81.4h0M111.6 76.6h0M113.6 61.5h0M115.3 71.1h0M111.5 61.5h0M112.4 69.1h0M110.6 61.5h0M115.9 80h0M112.4 73.3h0M115.8 73.9h0M115.2 73.9h0M115.4 63h0M109 75.5h0M113.5 67.1h0M107.4 59.3h0M115.2 64.9h0M116.5 67.9h0M115 57h0M112.1 78.1h0M113.4 54h0M116.1 70.2h0M107.6 54h0M114 76.4h0M113.1 76.7h0M111.4 75.5h0M108 65.9h0M110.9 72.9h0M115.2 75.2h0M116.1 78.1h0M114.3 59.3h0M112 82.7h0M109.2 64.1h0M116.1 59.3h0M112.3 76.1h0M116.4 57h0M116.3 66.5h0M110.3 77.6h0M107.9 63.3h0M113 80h0M110 73.7h0M110.3 78.2h0M110 67.4h0M114.8 64.5h0M111.6 68.5h0M110 81.2h0M109.3 81.2h0M113.9 71.9h0M108.5 82h0M115.6 57h0M110.1 57h0M108.4 62.4h0M113 54h0M116 81h0M114 63.3h0M109.7 70.4h0M112.5 79.9h0M113.9 78.2h0M113.3 63.2h0M112 62.6h0M108.2 81.1h0M112.1 67.6h0M109 81.1h0M113 67.2h0M109.8 78.6h0M107.7 70h0M109 59.3h0M113.8 72.8h0M110.1 59.3h0M113.4 57h0M110.1 84.3h0M110.7 71.8h0M111.2 82.4h0M115.9 69.1h0M113.5 82.6h0M107.6 69.7h0M115.8 64.6h0M112 67h0M109 67.4h0M109.9 68.8h0M114.9 65.6h0M115.5 66.8h0M108.5 74.9h0M113.4 80.8h0M108.5 83.1h0M116.1 83.3h0M108.7 78.3h0M110.6 67h0M107.7 76h0M115.6 78.3h0M111.8 57h0M112.2 83.5h0M110.4 69.3h0M113.1 71h0M110.8 76.2h0M110.2 62.9h0M108.5 57h0M113 84h0M114.9 63h0M107.6 72.1h0M109 79.4h0M113.6 75.1h0M111 79.8h0M116.6 64.7h0M110.7 79h0M112.4 79.1h0M113.8 72.4h0M109.7 65.3h0M111.6 81.5h0M114.1 74.8h0M108.3 71.3h0M110.4 54h0M108 67.9h0M115.4 68.8h0M112.6 65.3h0M111.8 69h0M113.9 54h0M111.2 70.2h0M113.4 67.6h0M115.7 69.6h0M111.2 76.3h0M114.2 66.9h0M107.4 65.6h0M116.4 80.2h0M107.8 68.3h0M111.1 78.6h0M109.6 77.9h0M111.9 69.7h0M114.5 63.6h0M113.6 69.2h0M108.7 72h0M111.6 65.4h0M108.1 61.5h0M109.4 76.7h0M108.3 64.7h0M112.4 74.8h0M111.4 78.5h0M113.7 78.3h0M110.2 77.5h0M115.9 77.5h0M111.8 75.5h0M108.7 79.7h0M115.1 81.9h0M113 77.7h0M112.8 68.9h0M111.8 59.3h0M109.5 71.4h0M115.8 62.9h0M113.2 81.4h0M109.7 73.2h0M113.4 77.2h0M109.4 66.7h0M114.3 70.2h0M111.4 66.3h0M109.2 82.1h0M109.1 68.3h0M112.2 78.7h0M109.3 54h0M115.9 82.5h0M114.1 65.8h0M115.2 83.5h0M113 82.6h0M111.6 54h0M112.3 68.5h0M109.7 78.4h0M110.2 80.4h0M115.1 72.1h0M115.5 84.4h0M114.3 71.3h0M110.4 75.9h0M114.6 78h0M107.5 57h0M114.6 72h0M110.7 84.2h0M111.2 59.3h0M112.3 59.3h0M109.5 57h0M110.2 83.2h0M110.6 68.7h0M109.1 65.4h0M108.9 66.1h0M115.5 59.3h0M112 73.9h0M114.9 62.6h0M111.8 70.7h0M109.9 82.1h0M115.1 81.1h0M116 65.7h0M114.3 73.4h0M108.4 67.8h0M115.9 57h0M111.8 81.4h0M115.6 77.9h0M115.3 65.4h0M111.2 72.7h0M114.2 67.8h0M107.6 79h0M113.8 70.2h0M109.7 65.8h0M109 57h0M112.6 70.9h0M115.2 78.6h0M109.5 80.5h0M113.3 80.6h0M115.9 80.3h0M115 63.3h0M110.3 64.7h0M113.5 64.5h0M116 73.1h0M111.6 75h0M113.3 84.4h0M112.2 65.5h0M108.5 67.5h0M112.7 81.9h0M114.2 78.3h0M116.3 74.1h0M109.1 74.5h0M115.3 61.5h0M116.3 76.3h0M116.4 81.2h0M110.9 81.1h0M108.6 70.4h0M115.6 68.7h0M111.7 84.3h0M114.6 69h0M113.3 72.7h0M114.8 67.5h0M108.9 72.6h0M111.8 75.2h0M114.5 80.8h0M110.9 63.3h0M113.6 67.8h0M110.5 82.5h0M109.9 65.1h0M111.7 69.7h0M109.2 61.5h0M108.3 81h0M115.5 72.7h0M115.5 54h0M115 72.6h0M110.6 63.1h0M109.4 82.7h0M116.3 74.3h0M113.2 73.3h0M115.8 70.6h0M111 61.5h0M116 75.3h0M108 71.5h0M114 84.1h0M115.6 75.8h0M116.1 74.8h0M111.6 57h0M110.7 79.9h0M112.5 64.4h0M112.5 67.6h0M111.3 64h0M112.1 80.8h0M109.4 75h0M115.2 61.5h0M113.1 68.6h0M113.9 73.8h0M115.3 67.8h0M113.5 75.8h0M115 66.7h0M111.1 83.5h0M113 61.5h0M113.1 67.9h0M115.4 75.2h0M108.3 70h0M114.9 59.3h0M116.2 64.8h0M114.3 54h0M111.2 77.6h0M107.8 73.4h0M114.8 75.7h0M108.5 61.5h0M112.7 70.7h0M110.8 71h0M115.4 72.1h0M112.9 65h0M115.7 77.4h0M110.6 63.5h0M110.9 82.8h0M112 76.2h0M112.2 66.7h0M114 73.3h0M115 67.1h0M108 84h0M109.3 79.2h0M114.3 76h0M115.8 83h0M112.4 72.1h0M114.1 68.4h0M110.9 71.3h0M109.6 84.6h0M112.7 74.6h0M115.6 64.6h0M112.3 71.7h0M111.8 80.6h0M114.4 84.5h0M109.8 75.7h0M114.6 74.4h0M109.5 76.2h0M110.7 80.3h0M108.3 76h0M113.2 63.6h0M112.5 73.1h0M108.9 73.8h0M112.9 82.2h0M116.4 75.5h0M116.2 68.5h0M111.8 79.7h0M110.1 75.8h0M109 63h0M114.3 69.3h0M112.5 78.1h0M111 63h0M109.3 71.9h0M108.5 63.3h0M114.3 82.4h0M110 76.3h0M107.8 59.3h0M112.4 66.8h0M108.2 70.3h0M107.9 79.3h0M113.8 76.9h0M111.5 70.4h0M111.3 81.1h0M116.5 72.7h0M108.2 76.7h0M107.9 80.6h0M111.4 79.8h0M109.2 76.7h0M111.4 64.6h0M114.4 64.4h0M114.7 83h0M115.7 62.5h0M115.4 65.1h0M114.3 70.8h0M107.5 82.6h0M114.1 79.2h0M112.3 62.7h0M109.1 67.8h0M116.4 82.1h0M111.2 62.7h0M114.8 80.4h0M116.5 61.5h0M107.6 70.6h0M109.9 70.6h0M109.2 69.6h0M115.4 69.9h0M113.5 79.7h0M111.3 84.1h0M115.6 75.4h0M116.6 76.9h0M109 69.9h0M111.7 67.9h0M110.1 62.7h0M108.1 72.4h0M114.2 82.7h0M109.4 64.1h0M108.5 73.2h0M116.4 73.3h0M116.3 83.4h0M114.1 66.6h0M107.6 81.4h0M116.1 75.9h0M110 81.7h0M115.3 80.1h0M112.2 54h0M109.3 71.1h0M112.4 83.6h0M114.3 65.9h0M110.5 74.5h0M110.6 65.4h0M112.5 54h0M113.1 70.5h0M109 73h0M107.6 82.9h0M111.8 79.2h0M110.9 68.2h0M115.8 66.6h0M113.4 73h0M107.8 66.6h0M116 83.9h0M110.6 78.4h0M111.7 63.7h0M108.7 66.1h0M114.9 84h0M109.4 81.7h0M111.7 68.8h0M107.8 65.4h0M113.3 65.8h0M112.7 66.5h0M110.8 65h0M108.1 73.2h0M108.5 73.4h0M115.2 64.2h0M116.2 86.7h0M112.7 89.4h0M109.6 115.2h0M112.2 95.2h0M109.4 85.7h0M111.5 91.8h0M114.7 93.5h0M107.8 98.9h0M113.7 89h0M111.9 120.5h0M109.9 100.9h0M115.4 103.3h0M113.1 93.2h0M113.2 97.5h0M107.3 93.8h0M112.5 88.9h0M108.2 100.9h0M109.8 94.5h0M110.3 114.4h0M113.8 89.9h0M110.9 90.9h0M113.3 95.5h0M114.7 90.3h0M112 85.2h0M115.8 112.8h0M108.9 137.4h0M111.8 87.2h0M113.1 92h0M113.5 121.8h0M111.3 104.5h0M109.6 116.4h0M110.3 87.3h0M112.1 91.6h0M109.8 98.6h0M110.2 100.7h0M114.1 103h0M114.6 107.3h0M115.6 97.6h0M114.9 108h0M108.4 102.1h0M112.1 112.1h0M110.1 92.7h0M115 100.8h0M112.7 95.4h0M112.5 94.2h0M107.9 96.3h0M113.4 94.7h0M107.6 87.5h0M113.9 100.7h0M109.7 99.6h0M113.9 97.6h0M113.4 107.5h0M111.5 111.3h0M110.6 93.8h0M114.8 105.4h0M116.3 119.8h0M109.4 92.3h0M113 118.1h0M111.4 84.9h0M115.7 99.3h0M109.5 113.7h0M113.6 99.5h0M110 102.6h0M112.2 132h0M112.5 100.5h0M107.8 136.1h0M109.3 87.5h0M112.7 94.3h0M114.1 87.9h0M111.8 90.3h0M113.4 94.8h0M112.9 91h0M111.1 104.7h0M115.6 117.2h0M114.4 85.3h0M108.7 91.6h0M109.5 97.7h0M107.9 116.4h0M114.8 113.1h0M111.2 92.7h0M115.4 105.9h0M110.6 88.2h0M110.8 85.6h0M109.3 87.9h0M113.5 93.9h0M110.7 85.4h0M112.9 116.1h0M112 111.6h0M110.8 95.8h0M113.2 110h0M114.1 96.2h0M111.4 94.8h0M114.9 91.1h0M113 95.8h0M110.7 86.8h0M116.2 113.8h0M111.8 117.9h0M112.6 114.9h0M114.4 103.3h0M111 102.2h0M112.2 108.5h0M116.1 90.2h0M111.9 93.7h0M110.1 89.3h0M109.5 86.3h0M111.3 94.1h0M110.1 98.2h0M108.5 106.1h0M111.2 94.7h0M109.1 101.1h0M112.9 94.4h0M112.7 91.9h0M112.8 85.8h0M111.1 90.4h0M111.9 95.8h0M113.8 104.7h0M114.2 88.6h0M108.7 103.3h0M116.2 120.4h0M111 93.2h0M111.3 87.8h0M112.3 96h0M116.2 123.5h0M113.5 85h0M109.8 86h0M114.6 88.3h0M109.7 117.2h0M107.9 92.3h0M111 108.3h0M113 103.8h0M111.4 93.3h0M109.5 104h0M112.3 102h0M111.6 93.2h0M115.3 110.8h0M114.5 97h0M112.5 102.9h0M109 89.6h0M112.2 105.9h0M114.6 108.6h0M111.5 100.8h0M110.1 89.9h0M108.4 115.1h0M110.2 116.4h0M110.5 119.8h0M112.2 97.5h0M114.5 114.9h0M113.8 93.7h0M111.1 98.1h0M113.4 111.7h0M112 86.1h0M113.3 97.1h0M108.3 87.1h0M113 88.1h0M111.3 113.9h0M114.2 111.9h0M107.7 93h0M109.3 96.6h0M114.2 93h0M114.6 95.3h0M110.6 95.6h0M114 102.2h0M112.5 97.6h0M108.4 96h0M113.9 87.5h0M111.9 92.5h0M108.1 117.9h0M114.7 105.2h0M115.7 87.5h0M113.8 92.6h0M77.1 91.7h0M82.3 107.9h0M80.4 103.2h0M77.4 93.1h0M83.5 112.4h0M79.7 99.6h0M82.1 107.4h0M75.9 86.4h0M78.1 95.1h0M76.5 88.1h0M78.2 95.8h0M77.9 93.7h0M84 112.9h0M85.4 117.8h0M80.1 100.2h0M79.1 97.6h0M80.3 102.3h0M80.2 101.4h0M76.7 90.7h0M83.7 111.5h0M81.5 105.8h0M78.8 96.6h0M81.4 103.8h0M83 109.6h0M76.3 86.1h0M75.7 86.2h0M80.8 104.3h0M81.6 105.4h0M79.8 101.1h0M81.9 106.6h0M82.3 109h0M78.3 94.2h0M82.9 110.1h0M78.4 94.6h0M77.5 91.6h0M82.2 108.8h0M76.3 87.3h0M77.3 90.6h0M85.8 117.8h0M82.3 107.5h0M79.1 97.9h0M80.9 103.7h0M84.3 114.8h0M80 100.5h0M83.5 111.8h0M75.9 86.2h0M78.7 95.4h0M80.4 101.9h0M76.1 87.2h0M81 104.9h0M84.1 113.5h0M144.7 92.9h0M141.9 101.3h0M139 111.7h0M140.1 108.6h0M144.6 95h0M145 91h0M146.2 87.6h0M142 103h0M145.2 89.4h0M138.5 113.7h0M137.1 117.4h0M145.8 88.1h0M140 108.2h0M144.1 95.1h0M145.6 89.6h0M137.4 116h0M142.7 100.9h0M136.6 118.3h0M142.4 101.7h0M138.6 113.9h0M137.6 116.7h0M137.8 115.8h0M142.2 99.6h0M145.6 90h0M137.2 116.8h0M138.3 114.4h0M141.5 103.6h0M139.6 110.3h0M137.6 116.9h0M138.1 115.4h0M141.3 103.9h0M144.7 91.8h0M146.6 85.4h0M138.9 112.9h0M139.8 110.9h0M145.4 90.5h0M146 85.7h0M141.6 102.9h0M143.1 98.4h0M141.9 103.7h0M140.8 106.3h0M137.9 114.9h0M144.8 92.2h0M145.3 89.1h0M147.1 86.2h0M145 91.7h0M143.1 99.5h0M146.8 85.1h0M69.4 128.2h0M72.7 127.3h0M82.3 134.4h0M79.9 132.7h0M164.2 118.4h0M157 125.5h0M169.8 104.2h0M145.7 107.7h0M148.9 97.1h0" stroke="#000" stroke-width="1.25" stroke-linecap="round" fill="none"/><path d="M98.9 57.9h0M103.1 55.5h0M99.5 61.5h0M106.2 82.8h0M100.6 58.6h0M102.9 84.4h0M105.2 64h0M104.3 56.2h0M103.1 71.2h0M87 68.6h0M84.7 57.1h0M98.8 55.1h0M104.8 74.3h0M106.3 56.9h0M101.9 83.8h0M103.7 69.7h0M94.7 74.5h0M102.7 56.1h0M104.8 75.2h0M101 78.4h0M106.8 62.3h0M78.7 67.7h0M75.6 82.8h0M106.1 68.1h0M102.5 69.1h0M98.8 76.4h0M100.2 80.5h0M99 68.5h0M104.2 61.2h0M106.1 77.8h0M105.4 83.1h0M94.6 80.2h0M101.3 81.2h0M105.1 76.5h0M101.6 77.6h0M105.6 84h0M95.4 75.9h0M106.2 82.2h0M103.2 64.2h0M105.8 67.6h0M72.1 55.4h0M92.4 76.8h0M104.4 64.5h0M105.5 75.6h0M103.1 58.9h0M105.7 76.4h0M100.9 57.2h0M97.8 67.3h0M106.1 58.8h0M101.3 77h0M104.4 72.4h0M87 83.3h0M105.4 72.9h0M100.5 80.8h0M103.3 83h0M102 54.1h0M99 64.1h0M104.6 55.2h0M98.8 78.2h0M103.8 58.9h0M103.2 80.5h0M105.2 56.4h0M106.3 62.9h0M102.9 56.9h0M105.2 60.2h0M106 60.9h0M101.5 63.9h0M80.5 80.3h0M95.4 79.8h0M104.1 63h0M89.3 82.7h0M101.9 59.9h0M99.9 73.1h0M100.7 74.2h0M100.1 68.8h0M104.7 58.4h0M101.6 81.5h0M93.6 74h0M87.8 60.2h0M105.4 78h0M94.7 62.5h0M101.6 72.4h0M101.9 82.3h0M102.6 58.8h0M106.9 74.6h0M100 78.3h0M97.1 84.4h0M106.1 64.3h0M101 80.7h0M105.3 55.4h0M102.3 83.9h0M100.8 66.9h0M103.9 58.5h0M101 81.9h0M103.4 58.6h0M96.6 54.7h0M97.9 62.3h0M105.1 59.7h0M104 59.8h0M77.7 60.1h0M92.6 78.7h0M96.4 72.8h0M95.4 84h0M104.7 57.2h0M104.6 57.7h0M106.4 69.2h0M102.1 58.2h0M97.6 55.2h0M102.9 80.1h0M99.2 80.9h0M95.8 66.9h0M95.7 77.9h0M103.3 60.5h0M97.8 82.8h0M106.6 70.1h0M92.7 70.7h0M100.5 65.9h0M103.9 54.5h0M102.9 83.1h0M81.5 77.2h0M103.4 55h0M105.1 75.5h0M106.7 78.6h0M105.2 55.6h0M106.2 71.4h0M106.1 54.7h0M100.6 73.1h0M106.6 77.6h0M89.9 72.9h0M98.1 54.9h0M91.4 69h0M102.8 64.4h0M104.2 77.8h0M93.5 59.7h0M95.9 54.6h0M88.2 80h0M103.9 74.9h0M101 82.4h0M99.4 69.4h0M99.3 65.9h0M69.5 54.8h0M100.1 76.5h0M104.3 74.6h0M76.4 78.1h0M106.4 60.3h0M104 75.4h0M103.2 69.9h0M102.1 56.4h0M103.9 54.2h0M95.4 61.3h0M91.4 61.7h0M97.8 76.3h0M104 84.2h0M106.2 69.7h0M104 68.8h0M103.6 70.4h0M96.2 79.6h0M101.9 71.6h0M104.1 81.9h0M106.8 66.7h0M93.5 57.4h0M106.9 60.9h0M74.2 72h0M106.5 67.8h0M106.7 77.9h0M103.9 64.7h0M94.9 65.6h0M100.1 54.3h0M106.7 61.5h0M90.3 83.7h0M106 72.6h0M103 65.4h0M78 67.6h0M105.8 59.4h0M97.9 63.6h0M99.4 77.4h0M85.9 75.7h0M102.8 78.3h0M100.9 68.8h0M105.2 68h0M103.4 66.1h0M85.5 68.1h0M106.5 78.8h0M104.5 81.8h0M84 58.8h0M76 57.6h0M97.2 62.9h0M80.6 73.4h0M91.4 74.3h0M85.1 76.8h0M80.9 68.5h0M106.2 78.9h0M104.1 83.3h0M102 65.5h0M98.8 56.7h0M102.4 79.9h0M92.7 55.9h0M100.7 63.6h0M106.8 70.7h0M74.5 69.8h0M88.3 83.1h0M101.2 59.2h0M106.7 82.1h0M99.9 66.9h0M80.5 66.7h0M92.4 58.7h0M106.5 80.6h0M106.3 73.3h0M105.6 84.4h0M103.7 77.4h0M94.6 78.3h0M101.2 65.5h0M102.7 73.3h0M106.2 77.1h0M95.3 82.3h0M94.2 81.7h0M103.6 78h0M74.5 71.8h0M101.2 70.9h0M90.3 71.3h0M89.9 58.5h0M95.5 75.5h0M104.3 82.9h0M97.7 66.7h0M102.5 79.6h0M106.5 59.5h0M100.3 69.8h0M102.4 63.1h0M105 83.4h0M104.2 73.4h0M106.9 81.3h0M101.2 61.9h0M102.8 81.7h0M103.7 68.3h0M97.7 56.8h0M106.5 64.3h0M102.3 79.2h0M103.7 56.2h0M100.6 60.1h0M106.8 62.2h0M103.6 56.5h0M96.6 77.3h0M103 79.5h0M90 57.2h0M99.6 68.4h0M101 79.3h0M98.1 64.5h0M88.4 64.7h0M106 60.6h0M94.6 78h0M91.8 82.7h0M105.7 65.3h0M104.7 78.9h0M102.8 60h0M100.9 63.8h0M96 70.7h0M105.4 63.8h0M92 78.5h0M89.6 80.9h0M106.6 66.6h0M100.9 64.4h0M103.9 62.6h0M88.1 55.5h0M105.4 59h0M102.5 67.2h0M106.8 76.7h0M91.5 60.4h0M105.2 64.3h0M103.5 80.3h0M106.1 81.3h0M100.4 59.7h0M89.6 58.2h0M105 61h0M89.6 66.2h0M90 63.2h0M106.8 62.9h0M105.1 78.8h0M84.5 62.7h0M105.8 56h0M96.8 72.9h0M94.9 80.1h0M105.7 80.9h0M79.3 70.6h0M92.4 82.1h0M100.9 71.9h0M100.4 58.8h0M106.8 73.1h0M93.9 69.4h0M91 55h0M106.3 84h0M106.3 66.8h0M103.2 60.7h0M95.6 73.6h0M77.8 79.3h0M88.5 67.1h0M97.3 63.3h0M106.1 74h0M88.7 78.8h0M104.1 66.7h0M90.2 84.1h0M106.2 71.9h0M106.2 74.6h0M92.8 72.7h0M105 62h0M74.5 58.4h0M105.3 70.2h0M106.6 67.4h0M99.6 74.8h0M88.1 67.5h0M91.5 65.6h0M97.3 81.3h0M83.2 55.9h0M99.3 57.5h0M104.6 65.7h0M103.9 78.4h0M81.7 70.1h0M101 74h0M100.8 54.8h0M101.4 69.6h0M104.1 63.9h0M105.4 59.8h0M94.9 60.5h0M106.7 80h0M103.7 80.9h0M102.8 82.2h0M102.2 55.6h0M81.6 65h0M75.1 72.6h0M95.7 58.8h0M105.7 63.1h0M106 54h0M104.8 70.2h0M98.4 65.6h0M106.7 72.4h0M86.7 74.7h0M103.1 54h0M102.5 74.8h0M105.9 68.5h0M99.3 83.5h0M101.2 61.2h0M100.1 61.7h0M102.9 61h0M102.2 83.4h0M104.2 76.6h0M99.5 56.7h0M101.6 76.4h0M104.5 59.4h0M76.6 75.9h0M103 62.4h0M105.5 71.6h0M82.4 69.5h0M79.3 65.6h0M98.1 68.4h0M96.6 71.7h0M96.6 82.4h0M75.5 84.6h0M74.9 82.6h0M74.4 80.5h0M73.9 78.5h0M73.4 76.4h0M72.9 74.4h0M72.4 72.4h0M71.9 70.3h0M71.4 68.3h0M70.9 66.2h0M70.4 64.2h0M70 62.1h0M69.5 60.1h0M69.1 58.1h0M68.6 56h0M68.2 54h0M103.4 54h0M102.3 54h0M101.3 54h0M97.1 54h0M94 54h0M84.6 54h0M81.4 54h0M80.4 54h0M79.4 54h0M78.3 54h0M74.1 54h0M72.1 54h0M107.3 49h0M106.5 49h0M105.7 49h0M104.9 49h0M104.1 49h0M103.3 49h0M102.5 49h0M101.7 49h0M100.9 49h0M100.1 49h0M99.3 49h0M98.5 49h0M97.7 49h0M96.9 49h0M96.1 49h0M95.3 49h0M94.5 49h0M93.7 49h0M92.8 49h0M92 49h0M91.2 49h0M90.4 49h0M89.6 49h0M88.8 49h0M88 49h0M87.2 49h0M86.4 49h0M85.6 49h0M84.8 49h0M84 49h0M83.2 49h0M82.4 49h0M81.6 49h0M80.8 49h0M80 49h0M79.2 49h0M78.4 49h0M77.6 49h0M76.8 49h0M76 49h0M75.2 49h0M74.4 49h0M73.6 49h0M72.8 49h0M72 49h0M71.2 49h0M70.4 49h0M69.6 49h0M68.8 49h0M68 49h0M67.2 49h0M66.3 49h0M65.5 49h0M64.7 49h0M63.9 49h0M63.1 49h0M62.3 49h0M61.5 49h0M60.7 49h0M59.9 49h0M59.1 49h0M58.3 49h0M57.5 49h0M56.7 49h0M55.9 49h0M55.1 49h0M54.3 49h0M53.5 49h0M52.7 49h0M51.9 49h0M51.1 49h0M49.5 49h0M47.9 49h0M47.1 49h0M44.7 49h0M43.1 49h0M41.5 49h0M39.9 49h0M36.6 49h0M34.2 49h0" stroke="#1cb47c" stroke-width="2.0" stroke-linecap="round" fill="none"/><path d="M117.4 67.3h0M118.8 63.2h0M118.4 54.5h0M117.1 60.7h0M123.4 74.4h0M117.5 63.4h0M120.6 62.6h0M122.8 75.3h0M119.1 74.9h0M118.5 83.4h0M120.1 74.9h0M122.2 60.7h0M120.9 65.4h0M119.6 57.3h0M119.4 60.8h0M118.7 73.1h0M127.9 55.1h0M120.8 62h0M118.6 58.6h0M123.9 78h0M147.8 69.7h0M117.8 57h0M126.5 59.7h0M120.5 58h0M120.6 63.1h0M118.1 57.5h0M122.6 70.4h0M117.7 62.8h0M118.3 80.9h0M119.7 75h0M117.8 56h0M120.7 62h0M122.6 80.5h0M141.3 55.7h0M119.2 71h0M119.1 64.7h0M121.4 61.8h0M121 78.5h0M121.4 83.7h0M120.1 59h0M121.1 63.5h0M119.6 58.9h0M117.6 79.6h0M132.5 74.9h0M123 80.4h0M121.7 67.4h0M122.8 77h0M122.7 64.4h0M119.8 62.3h0M123.2 71.3h0M120.1 65.6h0M139.1 68.1h0M119 58.1h0M119.4 66.5h0M117.9 69.7h0M124.4 70.3h0M139.6 69.5h0M120.2 64.5h0M119.5 83.1h0M129.3 83.9h0M117.1 81h0M118.4 59.4h0M123.8 74.8h0M148.2 64.8h0M122.5 61.2h0M123.5 80.6h0M117.3 81.6h0M117.7 74.8h0M117.3 69.9h0M119.7 57h0M120.2 74.7h0M126.1 66.3h0M118.1 67h0M119.4 66h0M118.7 67.1h0M118 82.6h0M119.6 59.6h0M118.7 55.2h0M117.7 71.1h0M137.2 77.2h0M134.5 81.6h0M118.1 65h0M118.9 72h0M117.3 56.7h0M117.3 64.7h0M120.6 61.5h0M131 54h0M117.7 61.7h0M121.7 69.1h0M119.4 78.2h0M118.9 83.9h0M119 69.3h0M117.6 62.3h0M118 83h0M122.5 58.9h0M121.8 74.4h0M118.4 71.7h0M117.8 81.8h0M117.2 74.3h0M132.9 80.5h0M127 81.7h0M123.8 82.1h0M121.6 58.2h0M117.7 72.2h0M143.7 66.9h0M127.6 71h0M119.3 62.8h0M118.9 63.3h0M117.4 68.6h0M122.6 70.9h0M120.7 58.5h0M117.2 55.4h0M118.2 67.7h0M123 58h0M119.8 61.4h0M119.8 81.4h0M117.9 69.8h0M135.7 83.2h0M119.9 83.1h0M131.9 76.5h0M117.9 63.5h0M120.4 61h0M122.9 59.9h0M117.7 66.6h0M122.3 72.6h0M117.7 59.8h0M118 78.4h0M121.7 76.3h0M117.3 74.7h0M120.7 79.8h0M120.6 83.3h0M120.6 66.5h0M123 73.2h0M117.7 82.7h0M118.6 82.4h0M117.2 62.3h0M130.3 62.9h0M124.8 77.6h0M118.8 68.1h0M121.2 82.7h0M145.8 57.9h0M130.6 62.6h0M118.9 60.3h0M124.9 75.1h0M121.3 83h0M144.4 68h0M137.1 79.3h0M129 54.1h0M121.2 58.6h0M120.1 70.8h0M121.9 69.4h0M121.4 81.2h0M143.2 83.1h0M117.8 74.5h0M123.3 58.9h0M123.7 71.5h0M117.5 54.7h0M119.2 66.1h0M118.6 57.7h0M117.2 83.9h0M118.3 76.2h0M117.2 60.9h0M120.3 68.6h0M117.9 75.1h0M123 60.8h0M122.8 72.3h0M123.7 70.8h0M119.6 79.5h0M117.2 82.5h0M119 54.5h0M117.2 77.7h0M137.2 79.8h0M124 73.1h0M134.1 54.9h0M122.7 61.6h0M125.3 77.6h0M117.1 73.9h0M120.2 77.4h0M119.6 54.9h0M119.1 75.3h0M136 66.6h0M135.3 70.4h0M117.4 84.2h0M120.2 79.4h0M140.3 65.1h0M121.8 79.9h0M117.6 79.1h0M117.9 84.2h0M117.3 72.9h0M119.4 69.5h0M118.1 61.5h0M123.5 73.3h0M124.6 56.7h0M118.9 58.7h0M118 76.7h0M120.9 71h0M122.6 63.2h0M117.5 80h0M124.4 81.8h0M125.3 57.6h0M117.6 54.9h0M121.7 71.5h0M119.8 68.7h0M119.8 74.1h0M127.9 68.3h0M117.6 78h0M121.3 59.1h0M129.5 79.5h0M117.4 80.9h0M117.5 55.4h0M122.2 57.3h0M117.3 65h0M120.8 80.6h0M117.1 65.6h0M128.6 68.1h0M119.4 75.9h0M117.2 68.2h0M123.2 65.8h0M117.3 75.4h0M118.4 84.5h0M122.1 60.8h0M124.1 70.9h0M119.9 67.6h0M119.8 65.1h0M121.2 61.3h0M122.9 64.4h0M118 66.4h0M119.8 71.6h0M120 77.1h0M118.4 73.6h0M118.2 60.1h0M119.6 56.3h0M118.4 79.8h0M122.2 62h0M121.5 78.3h0M131.1 57.1h0M122.7 54.8h0M118.5 59.2h0M117.7 65.3h0M122.4 84.6h0M121.2 56.1h0M121.4 79h0M119.3 54.6h0M118.3 70.3h0M118.2 65.7h0M118.7 76.4h0M123.9 71.6h0M120.9 64.5h0M120.2 62.9h0M123.5 63.9h0M118.9 57.1h0M119.9 57.6h0M121.3 56.8h0M118.4 78.9h0M139 79.6h0M120.3 73.9h0M119.9 69.5h0M143.2 77h0M118.8 83.1h0M117.7 60.3h0M117.2 69.1h0M117.2 64.6h0M121.7 61h0M119 58.9h0M118 62.7h0M139.8 73.7h0M117.2 61.3h0M119.4 75.7h0M120.5 68.8h0M118.5 69h0M119.2 78.4h0M117.2 60.2h0M120.8 55.7h0M142.8 83.9h0M125.6 84.4h0M117.1 69.3h0M135.2 65.2h0M118.1 54.2h0M124.5 66.2h0M118.6 78.6h0M121.8 76.4h0M117.6 73.5h0M120.4 55.9h0M120 60.2h0M117.8 71.5h0M118.2 64.6h0M117.9 80.3h0M117.7 70.4h0M118.8 73.8h0M128.4 62.1h0M118 76.8h0M117.2 77.8h0M117.7 59.4h0M118.3 62.4h0M119.3 60.6h0M118.8 81.1h0M120.5 54.4h0M120.3 66.2h0M118.1 70.7h0M121.3 69.6h0M146.8 80.2h0M118.1 71.2h0M119.9 78.1h0M120.4 69.6h0M119.5 60h0M130 54.4h0M124 79.9h0M119.6 65.3h0M119.6 73.2h0M123.2 68.6h0M126.4 63.8h0M121.8 77.2h0M123.3 62.9h0M120.9 80.8h0M128.3 75.8h0M125.5 74.3h0M120.9 84.1h0M117.9 58.2h0M122.5 78.5h0M146.7 84.6h0M147.2 82.6h0M147.7 80.5h0M148.2 78.5h0M148.7 76.4h0M149.2 74.4h0M149.6 72.4h0M150.1 70.3h0M150.6 68.3h0M151 66.2h0M151.5 64.2h0M151.9 62.1h0M152.4 60.1h0M152.8 58.1h0M153.2 56h0M153.7 54h0M117.5 54h0M119.6 54h0M123.8 54h0M125.9 54h0M127.9 54h0M136.3 54h0M138.4 54h0M141.5 54h0M142.6 54h0M145.7 54h0M147.8 54h0M150.9 54h0M151.9 54h0M116.7 49h0M117.5 49h0M118.3 49h0M119.1 49h0M119.9 49h0M120.7 49h0M121.5 49h0M122.3 49h0M123.1 49h0M123.9 49h0M124.7 49h0M125.5 49h0M126.3 49h0M127.1 49h0M127.9 49h0M128.7 49h0M129.5 49h0M130.3 49h0M131.2 49h0M132 49h0M132.8 49h0M133.6 49h0M134.4 49h0M135.2 49h0M136 49h0M136.8 49h0M137.6 49h0M138.4 49h0M139.2 49h0M140 49h0M140.8 49h0M141.6 49h0M142.4 49h0M143.2 49h0M144 49h0M144.8 49h0M145.6 49h0M146.4 49h0M147.2 49h0M148 49h0M148.8 49h0M149.6 49h0M150.4 49h0M151.2 49h0M152 49h0M152.8 49h0M153.6 49h0M154.4 49h0M155.2 49h0M156 49h0M156.8 49h0M157.7 49h0M158.5 49h0M159.3 49h0M160.1 49h0M160.9 49h0M161.7 49h0M162.5 49h0M163.3 49h0M164.1 49h0M164.9 49h0M165.7 49h0M166.5 49h0M167.3 49h0M168.1 49h0M169.7 49h0M172.1 49h0M173.7 49h0M174.5 49h0M176.9 49h0M179.3 49h0M181.7 49h0M183.3 49h0M184.1 49h0M176.2 49h0M184.3 49h0M166.6 58.8h0" stroke="#f01818" stroke-width="2.0" stroke-linecap="round" fill="none"/><path d="M107.3 49h0M108.2 49h0M109 49h0M109.9 49h0M110.7 49h0M111.6 49h0M112.4 49h0M113.3 49h0M114.1 49h0M115 49h0M115.8 49h0M116.7 49h0" stroke="#000" stroke-width="2.0" stroke-linecap="round" fill="none"/><g stroke="#1a1ae0" stroke-width="1.5" stroke-dasharray="5 3" fill="none"><path d="M32.7 84.6H189"/><path d="M107.3 30.7V66.8" stroke-opacity="0.9"/><path d="M116.7 30.7V66.8" stroke-opacity="0.9"/></g><g stroke="#333" stroke-width="1.3" fill="none"><path d="M31.7 31.2V138H192.3"/><path d="M31.7 138h-3"/><path d="M31.7 120.2h-3"/><path d="M31.7 102.4h-3"/><path d="M31.7 84.6h-3"/><path d="M31.7 66.8h-3"/><path d="M31.7 49h-3"/><path d="M31.7 31.2h-3"/><path d="M31.7 138v3"/><path d="M71.8 138v3"/><path d="M112 138v3"/><path d="M152.2 138v3"/><path d="M192.3 138v3"/></g><g style="font-family:'Liberation Sans',sans-serif;font-weight:bold;font-size:8px" fill="#222"><text x="27.9" y="141.1" text-anchor="end" font-size="8.6">0</text><text x="27.9" y="123.3" text-anchor="end" font-size="8.6">1</text><text x="27.9" y="105.5" text-anchor="end" font-size="8.6">2</text><text x="27.9" y="87.7" text-anchor="end" font-size="8.6">3</text><text x="27.9" y="69.9" text-anchor="end" font-size="8.6">4</text><text x="27.9" y="52.1" text-anchor="end" font-size="8.6">5</text><text x="27.9" y="34.3" text-anchor="end" font-size="8.6">6</text><text x="31.9" y="149.8" text-anchor="middle" font-size="8.6">-10</text><text x="72" y="149.8" text-anchor="middle" font-size="8.6">-5</text><text x="112" y="149.8" text-anchor="middle" font-size="8.6">0</text><text x="152.2" y="149.8" text-anchor="middle" font-size="8.6">5</text><text x="192.3" y="149.8" text-anchor="middle" font-size="8.6">10</text></g><text x="112" y="176.2" text-anchor="middle" style="font-family:'Liberation Sans',sans-serif;font-weight:bold;font-size:8.5px" fill="#222">Log2(Fold Change)</text><text transform="translate(10.3 85.6) rotate(-90)" text-anchor="middle" style="font-family:'Liberation Sans',sans-serif;font-weight:bold;font-size:8.9px" fill="#222">-Log10(q Value)</text><text x="31.7" y="14.6" style="font-family:'Liberation Sans',sans-serif;font-weight:bold;font-size:12.2px" fill="#111">miR-23a KO <tspan font-style="italic">vs.</tspan> HepG2(Scr)</text><text x="-0.6" y="11.8" style="font-family:'Liberation Sans',sans-serif;font-weight:bold;font-size:16px" fill="#000">A</text>
<g stroke="#1a1ae0" stroke-width="1.5" stroke-dasharray="5 3" fill="none"><path d="M123.6 212.1V318.5"/><path d="M131 212.1V318.5"/></g><path d="M120.6 283.3h0M131.1 291.9h0M137.5 304.8h0M129.3 311.7h0M125 308.2h0M126.7 303.4h0M125.3 310.4h0M126.9 303.2h0M129.6 310.1h0M128.4 313.7h0M120.6 293.9h0M133 309.2h0M127.2 307.4h0M118.1 311.9h0M125.9 307.5h0M113 299.4h0M133.7 314.4h0M145.9 291.9h0M131.1 308.9h0M125.9 312.2h0M123.5 317.4h0M118.3 296.8h0M127.9 314.5h0M128.1 315.7h0M130.6 291.6h0M133.8 316.5h0M129.2 284.2h0M119.8 292.7h0M114.1 296.9h0M130.2 310.8h0M135.2 317.2h0M122.6 301.7h0M111.6 290.5h0M141 299h0M131.3 306.7h0M139.1 300.3h0M121.1 304h0M125.3 308.9h0M118.5 270.2h0M110.9 305.2h0M117 316h0M122.8 307.7h0M131.1 286.2h0M132.6 311.9h0M125.5 290.7h0M131.1 317.1h0M130.4 283h0M129.2 316.1h0M132 306.9h0M132.8 299.5h0M127.4 290.5h0M114.9 305.4h0M115.6 267.8h0M136 307.6h0M121.2 288.5h0M123.9 308h0M123.7 304.1h0M138 306.4h0M124.6 300.2h0M121.2 285.1h0M130.4 302.6h0M125.8 278.3h0M120 290.3h0M126.7 307h0M117.9 307.7h0M125.6 294.5h0M136 314h0M111.2 295.9h0M131.9 309h0M132.8 306.9h0M128.5 301.3h0M114.6 300.9h0M129.9 281h0M131.8 305.2h0M124.9 310.9h0M122.4 314.3h0M134.7 310.2h0M120.6 289.3h0M130.4 297.7h0M127.7 299.3h0M134 301.6h0M130.3 312.6h0M117.3 310.4h0M117.7 310.1h0M119.4 288.9h0M126.8 297h0M132.6 296.6h0M124.4 313.2h0M137.8 296h0M117.9 309.8h0M143.6 303.7h0M122.6 312.4h0M125.2 270.5h0M128.3 290.3h0M121.4 298.8h0M124.8 315.7h0M120.4 284.7h0M135.2 298.9h0M132.1 291.4h0M107 289.1h0M135.3 300.7h0M139.7 311.3h0M133.2 292.7h0M119.7 290.9h0M126.7 270.2h0M117.8 312.9h0M137.2 301.3h0M126.1 289.9h0M140 297.1h0M130.1 289h0M132.4 307h0M132.3 305.1h0M127.1 306h0M131.3 307h0M130.1 312.1h0M145.7 277.1h0M113.9 288.7h0M122.6 309.7h0M138.6 301.4h0M124.8 305.1h0M135.2 315.5h0M127 278.2h0M119 316.1h0M124.9 312.9h0M125.4 307.7h0M105.7 278.3h0M130.4 311.3h0M141.8 277.5h0M124.2 311.7h0M127 310.5h0M120.8 267.1h0M147.4 286.9h0M123.4 312.2h0M131 314.1h0M117.6 282.8h0M119.5 313.2h0M134.5 307.1h0M129.7 308.7h0M122.6 315.9h0M104.4 274.5h0M122.9 316.7h0M130.5 303.1h0M122.6 293.5h0M128.2 297.5h0M132 313.8h0M125.7 312.3h0M130.9 307.6h0M139.4 296.7h0M124 309.7h0M113.9 300.9h0M130.5 316h0M131.6 295.4h0M140.8 313.5h0M139.9 286.9h0M130.7 312.1h0M122.9 315.7h0M135.3 299.7h0M128.9 312.4h0M125.3 307.9h0M130.5 309.6h0M124.1 304.7h0M118.9 296.7h0M125.5 307.1h0M111.6 288.7h0M124.2 310.9h0M137.3 306.4h0M131.6 305.5h0M140 304.6h0M135.7 302.2h0M133.5 317h0M143 305.2h0M134.2 312.5h0M123.6 314.8h0M122.6 304.9h0M128.2 317.8h0M134.7 307.3h0M110.2 275.5h0M142 271.6h0M125.4 302.3h0M121.7 313.1h0M136 291.6h0M139.3 277h0M111.8 299.4h0M126.8 312.4h0M134.4 311.7h0M132.9 302.4h0M127.6 270.7h0M133.3 305.1h0M130.9 306.8h0M126.7 318h0M131.2 303.4h0M142 304.8h0M113 287.8h0M137.4 292.9h0M139.4 307h0M132.9 309.7h0M137.9 305.6h0M118.9 309h0M124.1 313.4h0M129.5 297.9h0M137.6 304.2h0M135.4 294.6h0M129.2 307h0M120.5 301.7h0M129 303.7h0M135.7 305.4h0M128.1 305.2h0M118.9 306.6h0M132.9 313.8h0M118.6 315.9h0M128.2 302h0M131.4 301h0M132.5 312.7h0M130.6 305.9h0M134.9 302.2h0M118.5 310h0M134.1 312.9h0M123.2 308.2h0M136.8 311.8h0M130.1 301h0M115.7 306.1h0M140.4 307.8h0M129.4 300.2h0M121.3 315.1h0M110.2 299h0M126.6 317.5h0M144.7 283.4h0M140.1 303.7h0M116.8 292.5h0M119.6 301.1h0M135.7 304.2h0M127.7 318.2h0M132.8 306.1h0M130.5 316.9h0M124.6 309.1h0M116.2 306.5h0M125.9 305.4h0M124.3 314.8h0M128.1 283h0M134.8 311.5h0M122.6 297.4h0M134.5 304.3h0M120.4 290.4h0M117.3 299.9h0M126.6 308h0M123.4 310.1h0M124.8 316.2h0M131.7 303.7h0M121.7 302.8h0M117.1 290.7h0M127.8 307.6h0M137.5 301h0M145.5 281.2h0M137.3 312.7h0M121.3 312.1h0M134.6 314h0M121.6 314h0M121.1 311.5h0M118.4 315.1h0M124.9 304.6h0M128 311h0M128.2 314.9h0M132.9 308.4h0M136.6 289.9h0M129 309.6h0M130.6 300.9h0M117.9 308.7h0M123.1 287.2h0M126 317.2h0M122.6 277.6h0M126.2 299h0M130.1 299.5h0M122.8 284.3h0M128.8 296.3h0M125.2 302.8h0M121.9 290.2h0M135.8 276.9h0M136.8 309.9h0M124.7 310.5h0M130.4 285.9h0M124 268.9h0M128.2 309.1h0M117 301.6h0M133.7 303h0M127 286.7h0M121 309.7h0M130.9 310.4h0M136.4 300.9h0M125.9 310.1h0M127.6 294.5h0M128.4 285.6h0M126.1 305.9h0M144.1 299h0M127 311h0M114.5 299.8h0M131.8 312.8h0M122.5 310.9h0M120.7 294.7h0M145.3 280.4h0M125 309h0M132.8 307.4h0M117.5 305.6h0M121.4 270.8h0M143.3 305.6h0M120.4 309.6h0M120.1 298.6h0M119.2 314.6h0M132.8 314.8h0M115.2 312.4h0M135.3 308.2h0M134.1 299.4h0M127.6 288h0M112.5 311.1h0M128.1 316.8h0M129.9 310.1h0M128 303.3h0M125.9 315.6h0M137.2 283.4h0M116.9 307.3h0M107.7 273.6h0M147.4 290.6h0M122.8 282.7h0M130.2 312.7h0M134.4 308.4h0M126.6 306.6h0M128.7 300.2h0M124.2 294.5h0M124.2 302.7h0M118 297h0M119.9 299h0M125.2 295h0M137.2 290.4h0M124.4 314.3h0M136.3 300.2h0M132.6 311.3h0M125.3 314.9h0M120.6 298.6h0M128.3 305.3h0M133.8 315.2h0M122.2 311h0M124.4 310.9h0M137.9 293.3h0M126.7 311.5h0M124.2 291h0M128.1 308.7h0M110.6 302.8h0M137.9 304.8h0M124.7 290.4h0M136.3 291.7h0M111.3 294.2h0M120.3 274.7h0M125.6 314.4h0M131.2 266.4h0M115.2 271.2h0M133.6 296.8h0M126.6 312.7h0M114.8 309.1h0M131.6 312.6h0M118.6 311.5h0M135.4 297h0M142.9 302.5h0M130 307.7h0M132.4 313.9h0M121.4 293.3h0M121.1 314.1h0M127.5 305.6h0M125.9 304.8h0M141.3 314.3h0M128.4 275.4h0M126.4 281.3h0M133 303.3h0M139.7 300.1h0M137.3 297.7h0M131.7 309.6h0M114.5 297.4h0M134.3 318.3h0M134.7 295.5h0M115 285.7h0M129.4 309.4h0M121.2 298.2h0M133.3 303.8h0M130.2 286.6h0M143.8 288.8h0M136.9 305.2h0M125.3 309.5h0M128.2 301.1h0M117.7 284.7h0M123.7 303.5h0M142 308.2h0M132.4 293.5h0M131.9 290.8h0M111.5 286h0M126.7 313.4h0M121.7 315.3h0M123.4 306.3h0M119 288.4h0M122.9 312.4h0M136.7 316.1h0M131.8 301.8h0M119.4 311.6h0M120.9 315.4h0M111.1 299.5h0M123.2 306h0M135 307.6h0M132.3 307.8h0M136.5 295.3h0M135.5 309.6h0M103.9 277.7h0M128.8 308.1h0M125.1 305.5h0M141.8 309.7h0M114 298.4h0M127.7 297.6h0M119.6 302.1h0M137.7 290.9h0M121.9 313.2h0M113.6 288.9h0M122.8 279.4h0M131.6 279.2h0M141 305.9h0M127.9 310.1h0M120.4 312.6h0M142 274.8h0M123.6 303.1h0M121.1 299.2h0M127.3 316.9h0M127.7 305h0M143.1 309.1h0M127.3 311.3h0M129.8 300.3h0M147.3 286.6h0M126.4 311.8h0M135.2 314.9h0M125.9 284.4h0M118.8 290.3h0M125.4 306.4h0M120.9 312.4h0M132.9 315.5h0M112.6 309.7h0M112.8 290.9h0M133.2 289h0M121.9 299h0M138.2 297.2h0M120.5 314.8h0M119.8 303.8h0M122.3 317.4h0M109.1 287.6h0M128.4 311.6h0M134.6 310.9h0M112.1 275.4h0M123.2 296.6h0M127.8 305.8h0M149.2 271h0M137.7 307.9h0M119.2 313.6h0M112.3 280.5h0M123.7 306.2h0M116.8 296.6h0M121.2 310.8h0M129.4 291.4h0M127.9 306.3h0M133.4 304.4h0M115.4 285.3h0M126.6 297.7h0M131.4 289.6h0M141.5 280.2h0M134.2 311.8h0M123.4 301.4h0M119.4 282.1h0M122.7 302.8h0M123.2 311.1h0M128.5 283.1h0M141.9 311.2h0M140.1 309.4h0M134.1 303.2h0M137.5 307.3h0M121.1 305.5h0M120.9 310.4h0M140.4 281.8h0M133.6 288.2h0M137.4 317.4h0M131.4 309.8h0M118.5 308.1h0M136.4 299.6h0M109.3 296.9h0M124.8 282.9h0M125.1 300.5h0M134 298.9h0M128.6 314.1h0M136.9 313.7h0M128.8 276.8h0M125.7 309.9h0M131.4 311.9h0M130.3 305.5h0M143.6 306.6h0M124.4 292.3h0M114.2 294.7h0M117.1 303h0M123.6 310.9h0M132 308.5h0M130.9 285.4h0M122.4 305.9h0M134.8 291h0M128 313.2h0M125.7 317.3h0M117.7 292.4h0M117.3 268.1h0M132.5 303.8h0M132.1 316.9h0M118.9 307h0M131.1 290.4h0M127.8 299h0M122.9 313.2h0M119.7 308.5h0M131.7 313.1h0M121.9 305.2h0M138.5 304h0M120.5 308.8h0M126.2 308.7h0M121.1 305.8h0M139.5 310.3h0M120.9 286.1h0M126.7 300.7h0M133.9 309.5h0M135 302.3h0M126.1 308.9h0M118.1 315.7h0M132.3 300.9h0M120.5 306.4h0M118.1 313.4h0M141.5 285.5h0M123.7 309h0M124.1 295.3h0M127.3 315h0M127.1 293.4h0M117.8 317.4h0M130.8 315.1h0M123.8 307.4h0M128 312.6h0M120.6 297.9h0M138.9 303.1h0M121.9 291.8h0M122.7 307.4h0M132.5 304.3h0M129.9 293.2h0M133.3 314.9h0M121.7 309.4h0M118.7 307.3h0M141.4 269.9h0M144.9 281.5h0M126.4 297.2h0M150 273.2h0M132.9 289.9h0M117.5 303.9h0M124.9 315.1h0M120.8 316.2h0M114.5 307h0M134.1 279.6h0M131.1 305h0M137.8 265.9h0M118.4 296.7h0M119.4 270.1h0M126.5 309.7h0M140.6 290.1h0M129.4 316.4h0M128.9 317.4h0M141.1 304.5h0M130.3 293.3h0M136.6 274.5h0M124.4 308.6h0M137.3 283.4h0M118.8 294.1h0M122.7 312.8h0M117.5 289.4h0M133.5 312.2h0M119.2 295.1h0M133.4 282.5h0M118.8 307.5h0M131.4 307.7h0M125.8 304.2h0M113.4 311.3h0M126 315h0M120.3 303.9h0M132.8 308.1h0M137.3 293.3h0M132.6 313.4h0M113.4 279.6h0M129.6 285.4h0M139.5 286.8h0M121 296.7h0M119.7 287.6h0M143.6 296.9h0M145 274.7h0M121.9 302.9h0M151.2 269h0M130.4 316.3h0M116.6 303.9h0M121.8 315.8h0M125 317.5h0M124.2 318h0M135 316.6h0M127.9 274.2h0M128.7 310.7h0M127.9 294.3h0M132.6 309.1h0M122.8 301.2h0M124.5 316.1h0M124 315.2h0M120.3 311.8h0M118.4 314.2h0M125.3 304.7h0M122.4 297h0M117.8 292.9h0M131.5 315.8h0M133 288.5h0M130 317h0M125.6 312h0M125.3 303.1h0M123 312.2h0M132.9 286.3h0M134.9 304.8h0M143.7 294.3h0M108.9 276.2h0M129.8 289.6h0M128.7 310.8h0M130.8 298.6h0M132.6 303.6h0M117.2 291.8h0M114.7 303.7h0M118.8 316.7h0M139.5 298h0M127.2 303.8h0M129.2 304.3h0M132.4 316.2h0M112.5 291.6h0M122.2 299.7h0M121.3 313.7h0M125.8 313h0M122.6 306.8h0M111.6 308.4h0M135.1 312.2h0M131.6 315.4h0M116.7 313.2h0M130.6 308.7h0M140.9 303.6h0M141.9 310.1h0M129.2 317.1h0M140.6 273.8h0M127.4 270.1h0M122.6 287.4h0M115.8 312.8h0M133.8 300.4h0M123.1 275.6h0M120.7 297.2h0M117.1 310.4h0M120.5 292.7h0M122.6 306.3h0M128.8 307.5h0M110 302.2h0M140.5 299.3h0M131.5 294.9h0M131 293.6h0M114.5 306.6h0M121.4 283.3h0M130.6 300.5h0M137.3 296.7h0M134.1 267.7h0M118.5 289.6h0M121.2 288.1h0M107.2 281h0M133.6 312.6h0M145.7 292.5h0M135.5 275.2h0M126.4 314.6h0M123.4 316.6h0M121.9 302h0M127.7 309.2h0M123 278.2h0M126.5 315.5h0M127.4 302h0M135.9 311.9h0M138.9 280.6h0M127.9 292.6h0M134.1 295.1h0M115.2 301.3h0M120.4 306.1h0M129.7 313.8h0M127 315.7h0M118.1 302.7h0M126.4 316.6h0M141.7 310.1h0M129.2 305h0M123.5 312.3h0M129.6 296.3h0M142.4 307.8h0M124.4 308h0M138.3 311.8h0M125.6 316.8h0M131.2 296h0M122.9 304h0M116.9 300.4h0M134.3 272.3h0M123.2 304.8h0M130.6 270.3h0M126 293.7h0M110.9 274.2h0M128 318.4h0M115.5 299.4h0M139.4 311.8h0M140.7 286h0M130.4 307.8h0M118 288.5h0M127.3 295.1h0M132 281h0M114.3 303.8h0M134.7 300.3h0M125 314.1h0M125.7 305.2h0M138 297.3h0M125.2 316.7h0M129.1 287.9h0M121.4 309.8h0M134.8 296.2h0M141.7 306.5h0M122.6 291.3h0M119.4 314.1h0M120 292.8h0M127.9 307.2h0M137.5 289.6h0M125.1 297.2h0M132.3 317.9h0M116.1 293.5h0M126.1 316.1h0M122.7 302.7h0M134.9 310.2h0M127.5 290h0M146.8 276.8h0M122.2 293.1h0M117.3 310.9h0M120.7 318h0M128.1 313.6h0M121.9 308.7h0M138.8 282.3h0M119 281.8h0M127.5 306.3h0M135 299.7h0M130.9 289.5h0M113.4 310.5h0M138.8 311.7h0M134.9 291.4h0M119.7 316.6h0M117.4 304.7h0M118.8 310.1h0M111.8 306.9h0M127.1 309.2h0M139.4 299h0M134.2 309h0M117.3 314.1h0M126.7 284h0M138.6 311.7h0M127.7 299.9h0M129.4 313.7h0M133.8 301.2h0M120.1 302.3h0M126.5 304.6h0M134 315.9h0M133.4 311.2h0M124.4 303.8h0M136.5 296.8h0M120.4 313.9h0M130.3 311.1h0M137.9 286h0M119.8 301.2h0M134.5 294h0M124.3 289.4h0M117.2 313.5h0M123.2 299.8h0M120.1 306h0M136.4 300.3h0M123 305.5h0M136.2 306.5h0M127.4 317.3h0M119.3 316.2h0M129.2 311.3h0M127.5 316.7h0M121.2 305.2h0M137.7 314.2h0M140.2 287.5h0M120.4 315.3h0M118.1 294.3h0M127 315h0M132.5 308.7h0M137.2 306.5h0M126.2 311.7h0M135.5 316h0M125 307.6h0M132.1 314.5h0M124.3 316.4h0M114.9 289.8h0M123.8 306.6h0M136.2 306.1h0M130.8 302.8h0M137.9 311.8h0M143.1 306h0M127 313.2h0M134.3 310.3h0M136.3 315.4h0M132.6 310.1h0M130.1 304.3h0M116.1 284.5h0M126.5 305.6h0M121.9 306.4h0M130.6 304.6h0M115.7 286.2h0M133.3 313.5h0M128.8 273.9h0M130.9 314.5h0M123.7 308.1h0M118.5 301.5h0M136.1 295.9h0M138.6 300.8h0M128.7 296.7h0M129.8 316.7h0M137.3 282.4h0M120 305.6h0M124.4 309.6h0M133.6 309h0M137.9 311.7h0M128.3 312.7h0M127.8 316.2h0M115.6 305.2h0M129.7 300.7h0M137 302.6h0M133.7 310h0M143 308.1h0M122.1 315.1h0M143.4 292.6h0M133.7 307.4h0M114 284.9h0M127.9 304.7h0M138 285.6h0M120.7 313.5h0M132.9 313.3h0M127.3 302.6h0M115.4 288.7h0M120.7 314.5h0M116.7 315.4h0M113.7 294h0M131.2 309.9h0M131.6 313.9h0M124.9 311.9h0M136.1 287.7h0M130.1 282.1h0M120.9 316.3h0M124.4 301.7h0M131.3 305h0M133.1 290.9h0M119 299.2h0M119.9 303.7h0M113.4 269.1h0M121.9 307.1h0M118 300.9h0M116.5 293.1h0M130 315.4h0M126.1 302.4h0M124.1 314.2h0M138.8 318.4h0M123.4 305.7h0M143.2 286.6h0M133.1 314.3h0M128.1 296.2h0M135.6 284.9h0M135.8 307.2h0M133.1 317h0M114.8 290.7h0M125.6 308.5h0M131.5 299.8h0M123.9 312.4h0M139.3 303.5h0M135.4 286.2h0M122.3 311.9h0M138.1 303.4h0M132.1 299h0M140 299.8h0M121.3 300.1h0M115.2 309.6h0M125.9 291.5h0M138.6 310.3h0M128.9 301.8h0M142.6 301.7h0M122.3 299.3h0M123.2 290.5h0M132.8 294.1h0M127.8 289.4h0M122.3 307.9h0M117.3 317.2h0M123.3 294.9h0M129.6 305.7h0M130.3 306.8h0M126.9 298.2h0M144.3 291.2h0M115 309.8h0M135.2 305.9h0M140.7 290.5h0M142.6 305.8h0M132.5 300h0M126 281.7h0M127.4 294h0M134 304.9h0M111.5 304.2h0M126.6 315.8h0M128.8 311.1h0M112 286.1h0M132.4 306.6h0M118.1 311.6h0M127.8 293.6h0M133.7 313.2h0M140.6 307.2h0M124.9 294.4h0M134.7 313h0M126.9 306.8h0M121.6 316.4h0M132.4 302.3h0M142.4 306.8h0M121.7 316.1h0M128.1 310.5h0M117.7 290.3h0M118.8 302.4h0M124.9 310.1h0M123.3 314.1h0M133.6 318.2h0M123.9 315.7h0M126.1 307h0M124.7 315.3h0M121.7 311.7h0M130.2 311.3h0M138 284.7h0M130.2 292.7h0M141.9 303.9h0M136 290.2h0M122 295.5h0M129 294.7h0M132.4 305.3h0M131.8 310.4h0M138.9 298.7h0M127.2 317.2h0M150.8 276.2h0M141.8 307.6h0M129.2 303.1h0M134.9 293.2h0M133.4 285.4h0M141.8 281.1h0M122.3 304.2h0M136.1 305.3h0M126.6 308.7h0M111.2 290.5h0M119.6 287.8h0M137 296.7h0M133.2 293.6h0M138.7 270.4h0M117.5 312.1h0M125.2 296.7h0M117.7 287.7h0M130.3 314.8h0M130.7 298.5h0M121.4 308.9h0M129 300h0M129.4 312.9h0M129.8 314.3h0M116.9 273.6h0M118.9 293.1h0M140 308.4h0M126.3 301.3h0M119.6 306h0M137.9 314h0M122.6 301.9h0M127.3 312.8h0M125.9 296.5h0M131.9 301.2h0M130.7 295.5h0M117.7 295.3h0M129.7 295.3h0M138 289.3h0M129.1 313.2h0M136.9 307.5h0M121.9 281h0M126.5 310.9h0M125.5 315.5h0M136.6 308.9h0M129.6 304.5h0M131 304.2h0M132.1 271.6h0M130 310.4h0M118.7 310.5h0M128.4 307.5h0M116.6 300.8h0M109.7 295.9h0M115.8 303.2h0M112.8 293h0M134.6 312h0M134.7 295h0M137.4 306.9h0M115.5 287.1h0M122.9 317.4h0M131.1 306h0M119.8 314.1h0M123.4 307.4h0M131 312.4h0M124.8 299.7h0M135.7 271.8h0M122.8 314.3h0M131 306.5h0M123.9 312.9h0M127.4 306.8h0M128.7 305.8h0M121.5 302.2h0M139.6 300.6h0M122.1 295.1h0M124.2 307.2h0M141.2 278.8h0M122.7 286.4h0M116.5 288.7h0M110.2 296.7h0M138.4 307.1h0M118.6 307.1h0M131.4 302.7h0M112.9 311.3h0M115.4 309.8h0M130 315.1h0M125.8 314.2h0M134.5 293h0M126.3 305.8h0M121.2 307.9h0M117.6 290.1h0M115.2 308.6h0M134 282.8h0M119 303.9h0M136.7 266h0M124.6 290.2h0M111.2 276.2h0M118.8 310.8h0M133.7 309.7h0M129.7 317h0M125 304.1h0M135.2 304.5h0M117.8 297.7h0M129.1 297h0M123.2 280.8h0M119.6 299.4h0M123.2 292h0M128.2 307.9h0M122.2 315.5h0M119 313.2h0M121.3 300.7h0M138.8 300.9h0M112.5 291.2h0M122.6 308.4h0M122 312.4h0M114.3 315.1h0M143.8 280.9h0M121.7 318.3h0M120 312.7h0M119.8 306.6h0M132.8 311.7h0M131.4 311.2h0M113.4 310.2h0M141 292.2h0M116.6 302.4h0M124.6 283.2h0M130.8 295.2h0M122.8 297.4h0M128.4 303.1h0M122.1 286.5h0M130.1 308.9h0M136.7 295.2h0M127.5 308.5h0M130.9 287.3h0M126.3 292.1h0M121.4 311.2h0M131.7 300.4h0M123.8 314.5h0M129 316.6h0M133.9 308.2h0M138.3 309.4h0M136.8 313.8h0M130.6 317.5h0M127 318.3h0M127.3 290.8h0M111.9 293.4h0M116.6 314.4h0M122.1 316.7h0M126.1 310.7h0M127.5 315.4h0M119.4 294.7h0M135.3 290.8h0M129 301.1h0M119.9 302.9h0M114.1 297.5h0M137.3 278.8h0M122.9 293.1h0M140 311.4h0M137.3 287.4h0M141.7 304.7h0M131.7 273.7h0M130.5 310.1h0M131.6 310.4h0M133.9 311.2h0M128.2 300.3h0M126.3 304.9h0M133.6 316.5h0M139.1 306.6h0M139.5 306.1h0M130.1 280.4h0M134 293.1h0M137 308.7h0M124 289.9h0M128.8 306.3h0M116 300.6h0M119.7 310.5h0M137 267.6h0M123.3 299.2h0M129.2 308.4h0M142.9 300.4h0M138.6 302h0M139 277.4h0M125 314.3h0M132.1 296.6h0M131.1 298.1h0M113.4 294.8h0M123.9 268.7h0M128 312.2h0M118.3 287.7h0M135.8 297h0M133 304.6h0M136.5 313.9h0M137.4 298.8h0M115 305.9h0M138 281.9h0M127.2 305.7h0M124.1 308.5h0M120.3 310.2h0M117.5 311.6h0M114.3 295.5h0M129.5 314.4h0M120.9 307.6h0M138.3 309h0M123.8 309.8h0M141.1 292.8h0M131.4 305.8h0M126.7 281h0M125.6 299.9h0M114.2 290.3h0M119.8 297.3h0M142.6 304.7h0M117.7 316h0M130.1 295.6h0M120.1 308.5h0M120.6 302.6h0M129.3 307h0M119.7 280.7h0M130 312.9h0M116.6 274h0M121 265.8h0M133.6 298.7h0M138.8 292.3h0M124.7 293.6h0M138.8 298.2h0M117.4 307.9h0M130.2 314.2h0M116.7 309.1h0M117.1 309.9h0M128.8 310.2h0M113.6 302.2h0M127.5 306.1h0M128.8 290.4h0M123.5 291.9h0M137.4 309.5h0M127.7 280.4h0M132.2 304.2h0M143.5 290.6h0M115.5 301.7h0M142.8 304.4h0M143.5 299.5h0M131.5 299.1h0M127 308.1h0M119.2 307.8h0M118.1 313.8h0M130.9 301.3h0M128.9 313.5h0M121.5 298.2h0M116.1 307.3h0M114.5 298.1h0M126.5 284.7h0M134.4 305.9h0M115.7 304.3h0M114.7 278.7h0M129.4 294.3h0M125.4 316.7h0M120.3 305.4h0M122.7 285.8h0M110.7 297.7h0M126.7 309h0M118.8 309.4h0M112.9 300h0M136.2 269.3h0M129.9 272.6h0M134.5 294.7h0M127.7 311.2h0M126.1 301.3h0M117 315.7h0M120.4 310.5h0M118.2 304.5h0M138.6 271.5h0M120.2 314.6h0M129.1 289.6h0M129 294.2h0M114.4 267h0M128.3 316.9h0M143.1 301.5h0M119.4 313.6h0M130.2 301.8h0M134.6 282.9h0M124.9 310.6h0M133.7 315.8h0M126.3 307.3h0M119.7 283.2h0M132.2 311.6h0M144.4 287.9h0M128.1 286.9h0M137.8 268.8h0M118.5 306.7h0M108.9 283.8h0M133.5 293.1h0M114 304.2h0M115.2 304.9h0M108.9 276.3h0M135.6 305h0M127.8 316.3h0M124.1 299.7h0M122.8 309.3h0M136.6 293.6h0M133 312.5h0M131.1 275.2h0M129.8 293.9h0M125.9 298.7h0M128.7 309.1h0M141 272.1h0M128.7 309.3h0M115.8 312.7h0M131 316.6h0M134.5 315.4h0M121.8 305.9h0M123.3 308.4h0M133.9 307h0M122.2 304.6h0M124.4 289.1h0M128.7 308.1h0M136.1 316.4h0M133 303.8h0M136.1 304.6h0M122.3 311.4h0M133.3 278.6h0M125.8 302h0M127.3 310.5h0M120.3 292.8h0M143.1 283.3h0M132.3 314.6h0M140.7 315.5h0M122.6 317.9h0M118.8 303.2h0M145.2 285.5h0M129.6 279.6h0M139.1 306.2h0M111.1 283.2h0M124.1 312.1h0M132.6 310.4h0M133.3 301.9h0M123 276h0M136.1 317.3h0M125.9 301.1h0M129.8 302.9h0M137.6 302.2h0M143 301.2h0M126 299.4h0M141 280.7h0M123.4 298.7h0M117.7 302.2h0M121.7 307.2h0M128.5 317.5h0M141.5 301.3h0M127.5 303.3h0M114.4 295.9h0M135.8 286.1h0M126.6 310.2h0M131.6 283.2h0M139.7 308.6h0M121 317.1h0M121.3 295.3h0M116.3 308.3h0M113.2 298h0M131.5 301.4h0M124.1 275.4h0M140 313h0M123.6 313h0M131.9 297h0M123.5 299.8h0M120.4 308.3h0M122 307.8h0M129.7 317.6h0M107.1 272.6h0M126.5 298h0M116.4 310h0M135.9 292.8h0M123.6 291.1h0M120.7 299.8h0M132.9 298.8h0M135.5 315.1h0M107.8 287.9h0M125 306.3h0M136.4 289.3h0M129.7 292.4h0M139.4 296h0M136.7 310.8h0M113.7 293.4h0M129.8 309.7h0M133.2 313.2h0M126.7 299.8h0M126 313.6h0M116.4 302.9h0M142.6 270.7h0M134.2 290.4h0M116.1 287.6h0M129.7 298.8h0M134.2 296h0M117.7 296.2h0M117.2 313.1h0M121.3 288.1h0M134.7 277.5h0M130.3 284.9h0M132.7 290.9h0M132.2 309.7h0M123.6 311.5h0M135 297h0M116.7 298.1h0M120.8 317.9h0M115.9 296h0M114.5 313.6h0M137.5 309.1h0M136.2 302.7h0M126.6 295.7h0M127.4 313.9h0M122.1 317.2h0M129.6 303.6h0M122.7 304.3h0M124.1 282.2h0M128.6 308.6h0M119.6 304.1h0M136.9 312.8h0M118.7 295.5h0M135.1 308h0M126.6 315.2h0M123.1 310h0M132.3 306.1h0M120.2 295h0M130.2 295.1h0M127.6 312.2h0M135.5 271.5h0M134 287.7h0M128.6 312.9h0M135.9 309.2h0M126.1 309.7h0M126 311h0M119.4 305.5h0M125 266.8h0M127.7 301.3h0M117.1 276h0M124.2 300.4h0M129.6 306.1h0M132.9 296.8h0M116.3 275.4h0M127.4 308h0M127.2 281.1h0M125.8 286.7h0M133.9 307.6h0M120.9 268h0M116.2 305h0M130.7 305.2h0M132.3 275.4h0M107.3 279.1h0M143.9 304.9h0M111.6 300h0M126.1 294.6h0M136.5 312h0M131.2 299.5h0M113.1 284.2h0M126.8 281.6h0M113.7 290.5h0M123.9 317.1h0M119.5 310.1h0M113.1 296.4h0M131.8 312.2h0M122.2 277.9h0M123 302.5h0M125.4 313.6h0M119.8 309.1h0M112.7 308.5h0M123.7 297.6h0M123.8 316.6h0M123.9 305.7h0M113.4 299.7h0M130.3 294.5h0M129.2 314.5h0M127.3 296.1h0M131.6 303.9h0M119.1 292.5h0M139.6 307.5h0M125.9 316.7h0M119.4 312h0M108.4 296.4h0M132.8 280.8h0M112.1 284.5h0M131.3 299.4h0M125.9 296.2h0M151.2 272.5h0M127.6 298.3h0M122.9 311.6h0M117.1 302.6h0M132.7 299.7h0M137.4 309.8h0M144.8 284.8h0M120.6 307.8h0M119.9 316.7h0M123.9 305.9h0M113.5 310.8h0M122.9 314h0M122.2 297.3h0M130.4 306.6h0M136.3 302.7h0M121.3 293.1h0M138 282.9h0M139.4 312.3h0M125 276.9h0M131.1 308h0M118.9 292h0M134.4 298h0M133.7 300.7h0M117.5 309.5h0M132.8 310.7h0M123.3 315.7h0M130.4 315.5h0M129.9 271.1h0M125.7 313.8h0M127.7 297.9h0M139 313.2h0M131.1 317.5h0M122 297h0M133.9 308.7h0M124.4 316.9h0M132.1 305.5h0M137.2 316.8h0M115.8 288.2h0M114.4 314h0M114.8 311.7h0M129.8 296.1h0M139.5 298.5h0M140.1 297.3h0M125.8 279.1h0M118.4 301.1h0M122.7 303.5h0M128.2 311.4h0M123.1 302.9h0M132.2 306.5h0M122.4 295.1h0M117.3 314.9h0M116.5 297.6h0M123.5 302.3h0M126.2 312.4h0M135.7 311.2h0M123.6 287.3h0M102.6 266.9h0M127.9 287.6h0M111 307.1h0M146.3 283.1h0M133.5 302.6h0M117.8 306.8h0M137.4 291.6h0M138.7 300.3h0M122.8 278.4h0M138.5 277.9h0M132.8 304.9h0M115.3 294.3h0M128.4 294.2h0M125.6 291h0M132.4 285.7h0M116.3 312.3h0M127.6 314.4h0M143.1 279.4h0M140.2 309.2h0M111.7 307.4h0M141.1 308.1h0M139.9 306.4h0M118.8 310.6h0M121.2 299.3h0M134.3 312.6h0M119.5 299.2h0M141.4 310.8h0M135.1 298h0M120.9 290.2h0M128.3 300.4h0M145.8 298.6h0M136 304h0M124.6 286.2h0M131.5 294.2h0M134.9 303.3h0M135.6 300.2h0M128.5 293.6h0M136.9 284.8h0M128.9 290h0M144.3 291.5h0M117.5 291.8h0M122.5 314.1h0M141.1 296.6h0M131.1 300h0M128 300.2h0M121.5 294.3h0M109.3 300.4h0M121.3 302.5h0M119 299.5h0M133 316.3h0M114.9 302h0M118.3 294.4h0M129.4 310.9h0M132.4 314.8h0M127.3 313.5h0M138.1 314.8h0M129.3 304.1h0M132.8 299.9h0M121.4 296.3h0M107.3 287.9h0M130.8 310.8h0M119.8 309.3h0M117.5 287.1h0M129.1 282.6h0M132 284.3h0M135 302.8h0M146.7 291.9h0M129.4 302.5h0M118.1 311.1h0M122.5 313.4h0M129.4 297.3h0M136.6 305.2h0M130.3 272.9h0M115.5 317.1h0M125.2 297.6h0M130.6 303.7h0M116.2 299.2h0M124.1 299.8h0M149.6 272.4h0M127 271.1h0M131 311.5h0M141 306.3h0M131.1 312.8h0M123.6 293.3h0M118.7 312.8h0M146.5 293.5h0M135.2 277.8h0M124.8 298.8h0M129.9 313.4h0M138.2 308.2h0M125.6 279.6h0M113.4 280.1h0M117.9 305.3h0M113.8 289.8h0M119.1 301.4h0M117.8 308.9h0M136 311.6h0M126.1 314.6h0M134 310.3h0M118.8 304.3h0M140 310.9h0M116.1 266.1h0M132.8 310.9h0M116.8 299.4h0M134.6 297.4h0M127.3 310.1h0M112.4 284.9h0M115.7 302.1h0M135.6 306.8h0M115.9 308.3h0M125.9 306.3h0M138.2 312.7h0M140.8 309.7h0M130.1 296.6h0M131.1 287.2h0M115.4 296.8h0M110.9 295.3h0M113.6 288.2h0M117.1 312h0M118.2 300.6h0M145.4 295.9h0M106.9 288.5h0M137.3 316.3h0M113.4 303.2h0M117.1 302.1h0M125.1 312.3h0M132.2 299.3h0M130.3 310.5h0M127.1 289.8h0M144.1 304.6h0M123 294.1h0M107.4 272.3h0M124.1 291.8h0M130 305.5h0M132.1 287.1h0M137.3 296h0M109.4 289.4h0M128.6 271.9h0M126.2 289.2h0M131.2 305.4h0M117.6 278.8h0M141.3 312.2h0M132.3 294.7h0M112.2 301.4h0M135.8 282.8h0M130.7 279.6h0M113.4 304.1h0M134.5 307.8h0M134 306.3h0M124.5 312.1h0M130.8 294.5h0M122.2 310.5h0M134.1 282.5h0M118.6 308.9h0M131.9 283.8h0M116.9 298.4h0M133.7 297.9h0M130.7 312.9h0M124.1 301.2h0M130.8 298.9h0M114.2 314.8h0M134.7 315h0M129.3 307.5h0M129.2 299.6h0M139.6 292.6h0M113.6 291.2h0M128.4 300.8h0M125.3 310.8h0M113.5 296.1h0M116.3 296.1h0M128.9 302.5h0M139.7 281.4h0M121.8 317.9h0M130.4 307.7h0M126 302.9h0M122.1 308.8h0M123.4 313.4h0M138.8 314.4h0M129.2 315.1h0M127 316h0M132.6 270.6h0M117 291.2h0M142.5 297.3h0M126.9 290.8h0M132.5 307.6h0M122.2 313.3h0M112.1 302.2h0M116.7 316h0M129.7 312.3h0M127.5 309.5h0M126.3 288.2h0M131.3 296.7h0M125.7 298.9h0M134.8 287.3h0M134.8 301.6h0M120.3 296h0M124 297h0M143.2 291.5h0M144 296.2h0M124.4 301.2h0M127.2 295.2h0M138.9 287.2h0M125.3 316.2h0M117.7 312.4h0M119.2 288.2h0M128.3 298.8h0M110.8 279.7h0M134.4 303.3h0M120 281.4h0M136 313h0M132.4 267.6h0M122.1 302.6h0M115.9 309h0M140.7 282.3h0M116.8 277h0M129.9 301.7h0M116.3 305h0M131.3 298.6h0M123.2 298.9h0M117.1 312.6h0M118 303.3h0M124.7 307.2h0M131.5 311.4h0M117.3 288.6h0M141.8 278.5h0M107.3 290.7h0M120.7 282.1h0M112.2 307.4h0M127.1 291.5h0M127.8 298.7h0M129.6 293.2h0M127.4 300.9h0M147.1 284.5h0M124.5 313.9h0M120.9 312.9h0M113.8 311.2h0M112.6 309.8h0M134.4 297h0M124.1 286.1h0M118.9 303.5h0M133.6 291.3h0M127.7 293.7h0M133.5 299.7h0M124.3 306.5h0M120.7 316.1h0M138.7 282.5h0M140.6 310.7h0M116.7 311.8h0M141 311.5h0M125.3 297h0M136.1 309.6h0M114.2 305h0M132.8 305.7h0M133 271.1h0M116.6 302.1h0M133.8 317.3h0M140.9 314h0M123.9 293.3h0M135.6 299h0M127.1 303.6h0M118.8 306.1h0M130.8 309.3h0M138.3 310.9h0M130 267.2h0M113.1 301.2h0M105.7 279.7h0M122.3 315h0M111.9 298.8h0M127.2 285.9h0M128.6 288.3h0M119.9 307.1h0M140.7 294.4h0M137.3 290.2h0M118.9 302h0M133.3 278.2h0M129.4 306.6h0M126.9 313.7h0M138.6 295.9h0M126.2 307.8h0M138.6 287.9h0M123.2 300.4h0M131.9 316.6h0M135.6 318.1h0M125.1 317h0M114.1 299.7h0M128 295.5h0M136.1 300.3h0M128 302.7h0M135 307.1h0M127.8 288.9h0M132.8 295h0M118.7 305.9h0M108.1 279.8h0M131.3 313.5h0M111.7 282.6h0M133.5 290.3h0M139.9 293.9h0M131.1 313.6h0M114.8 300h0M137.4 312.8h0M126.3 302.7h0M117.8 312.5h0M112.4 303.3h0M134.2 297.2h0M123.9 308.8h0M140.8 276.4h0M142 303.4h0M120.7 307.4h0M119.7 314.5h0M121.3 314.3h0M136.4 304.6h0M149.2 281.6h0M136.6 309.9h0M129.9 315.8h0M132.9 294.5h0M121.3 289h0M122.4 296.1h0M131.7 316.7h0M111.4 291.7h0M126.3 303.2h0M129.2 290.9h0M119 312.2h0M137 299.6h0M139.9 296.5h0M131.7 297.9h0M113.4 305.7h0M129.7 308.8h0M117 296.8h0M122.2 307.3h0M108.5 279.2h0M112.8 275.8h0M120.5 310.9h0M127.7 295.4h0M115.9 300h0M113.9 291.3h0M128.4 268.3h0M110.7 298.6h0M136.8 307.2h0M131.6 308.3h0M145.7 288.5h0M118.2 309.4h0M128.8 301.7h0M116.7 307.2h0M123.5 300.8h0M128.5 304.1h0M116.7 284.1h0M132 279.6h0M120.2 284.1h0M143.4 302.7h0M113.3 302.4h0M113.1 303h0M145.7 287.2h0M114.5 308.7h0M133.9 315.6h0M128.4 312h0M122 296.5h0M115.4 302.8h0M137.1 296.2h0M149.1 279.7h0M113.8 313.1h0M120.2 302.1h0M114.1 302.3h0M142.5 303.3h0M129.4 315.8h0M132 300.7h0M129.5 312.2h0M128.2 302.9h0M117.7 316.3h0M114.4 305.8h0M127.9 278.8h0M121.8 317.5h0M114.1 298.8h0M127 314.6h0M120.3 282.7h0M132.8 298.1h0M132 317.4h0M123.1 288.6h0M122.6 309h0M127 298.5h0M108.2 294.5h0M143.2 290.3h0M137.5 304.4h0M115.4 288.1h0M112.5 268.2h0M121.4 268.2h0M112.6 302.2h0M118.3 316.5h0M126.3 294.5h0M126.5 314h0M126.4 299.2h0M135.8 292.4h0M123.2 317.9h0M117.3 301.6h0M118.8 308.7h0M130.2 317.3h0M127.5 268.2h0M105.7 268.2h0M119.6 308.2h0M112.3 292.9h0M131.7 314.9h0M139.4 280h0M136.2 295.2h0M135.1 297.4h0M138.7 303.5h0M129.9 304.1h0M117.8 291.4h0M135.5 293.4h0M127.5 300.7h0M124.4 298.7h0M125 303.4h0M130.1 306h0M125.5 305.8h0M124.7 312.3h0M131.5 314.4h0M115.5 285h0M137.4 311.5h0M118 293.4h0M111.9 277.5h0M134.6 305.4h0M132.9 296.4h0M121.2 270.3h0M124.8 309.7h0M135.2 272.5h0M121 301.2h0M151.9 270h0M116.5 313.9h0M132.5 266h0M140.1 298.1h0M117.7 269.4h0M126.2 267.1h0M117.8 316.7h0M116.3 291.5h0M137.3 277.9h0M138.4 307.9h0M129.9 308.6h0M122.5 299.8h0M129.7 315.7h0M135.5 308.6h0M131.8 315.5h0M130.9 272.9h0M125.4 300.4h0M114 313.5h0M137.8 311.1h0M116.9 303.3h0M127.2 304.3h0M118.4 301.8h0M120.9 315h0M126.9 305.1h0M137.9 307.4h0M113.5 306.1h0M136.3 307.1h0M123.9 269.6h0M117.9 279.1h0M140 305.9h0M113.8 278.9h0M117.9 289h0M119.6 309.6h0M121.7 305.6h0M131.9 301.5h0M116.3 313.3h0M129 312h0M118.6 311.1h0M128.6 292.3h0M144.4 303.6h0M116.3 286.3h0M114.8 311.9h0M115.1 301h0M111.7 309.1h0M136.9 308.2h0M132.5 292.6h0M141.6 313.4h0M119.8 294.6h0M118 303h0M129.6 310.4h0M132.2 310.8h0M134.8 293.4h0M140.6 312.4h0M136.9 312.4h0M122.1 314.5h0M122.1 311.5h0M116.1 313.5h0M128.7 315.5h0M135.1 314.1h0M129.9 291.4h0M140.4 296.7h0M139.3 288.4h0M135.6 311.7h0M137.2 301.9h0M115.2 298.3h0M121.6 310.7h0M124.5 297.9h0M135.1 309.3h0M113.3 313.5h0M134.1 280.1h0M120.5 304.7h0M135.5 302.6h0M109 295h0M122.4 300.6h0M137.2 298.5h0M138 304.1h0M132.9 285.9h0M121.2 311.9h0M102.8 269.7h0M138.8 310.6h0M124 299.1h0M128.6 317.9h0M131.1 300.9h0M128.9 304h0M112.7 306.8h0M133.3 307.2h0M137.1 303.1h0M108.4 294.6h0M127.3 304.6h0M132.9 302.8h0M123.5 267.6h0M130.6 314.5h0M118.7 315.4h0M113.1 302.7h0M145 274.8h0M138.3 312.7h0M125.5 295.6h0M114.7 301.4h0M128.7 302.2h0M138.9 304.6h0M122.3 316.7h0M118.8 273.5h0M120.6 307.2h0M125.9 276.3h0M109 275.7h0M145.9 295.7h0M127.8 277h0M113.1 281.9h0M129.2 275.4h0M106.1 288.2h0M136.1 275h0M134.9 291.9h0M124.1 304.8h0M127.4 312.3h0M126 293h0M125.5 302.1h0M130.7 304.1h0M138.6 305.9h0M118.1 295.6h0M125.5 313.2h0M110.2 279.6h0M107.9 283.6h0M114.9 297.1h0M113.6 303.7h0M117.3 308.7h0M121.7 317h0M122.4 290h0M135.7 317.1h0M119.4 307.3h0M108 291.9h0M119.4 266.4h0M130.2 306.4h0M140.3 300.9h0M138.1 304.5h0M130.8 302.5h0M141.4 289.6h0M134.8 317.3h0M113.1 306.4h0M146.6 293.2h0M123.3 309.7h0M117.9 314.9h0M111.4 296.1h0M120 316.1h0M122.8 306.7h0M121.6 306h0M141.7 307.2h0M149.2 272.9h0M120.1 304.6h0M137.5 301.6h0M149.8 278.7h0M137.4 289h0M119.5 306.4h0M117.5 306.5h0M134.5 298.7h0M128.7 295.5h0M126.5 310.5h0M137.4 314.4h0M128.3 297.1h0M115.2 303.4h0M124.5 291.9h0M123.9 302.8h0M148.8 274.9h0M137.5 284.4h0M132.6 269.6h0M120.4 297.3h0M131.8 317.9h0M120.9 296.2h0M137.7 316.2h0M139.1 296.8h0M139.9 291.1h0M138.3 300.2h0M125.9 304.4h0M123 309.1h0M117.4 299.4h0M114.3 310.3h0M139.3 302.9h0M127 287.1h0M131.2 308.5h0M140.4 310h0M116 275h0M135 279.3h0M140.1 294.5h0M138.8 307.6h0M121.3 306.5h0M136.2 296.5h0M124.9 296h0M136 314.3h0M126.8 308.5h0M108.5 292.7h0M133.1 297.3h0M134.3 301.5h0M129.9 283.1h0M134.4 288.9h0M132.1 318.4h0M115.4 313.6h0M118.4 298.8h0M126.3 282.6h0M131.3 304.6h0M118.4 298h0M129.2 286.2h0M124.3 295.4h0M121 306.7h0M124 297.6h0M146.7 289.6h0M115.9 312.2h0M131.3 317.4h0M116 301.1h0M119.3 301.6h0M136.7 315.1h0M134.7 309.1h0M115.9 279.7h0M131.9 267.8h0M140.2 316.4h0M128.5 309.9h0M132.6 301.4h0M132.1 268.3h0M129.7 308.1h0M143.9 305.5h0M135.8 310.7h0M138.7 286.3h0M119.5 312.4h0M119.1 297.9h0M134.9 310.7h0M107.1 291.6h0M134 311.3h0M135.1 313.7h0M112.6 301.5h0M128.1 317.6h0M119.3 300.1h0M130.3 301.9h0M131.2 304.6h0M116.7 293.7h0M118.8 284.5h0M123.8 303.6h0M123.1 295.7h0M114.3 307.3h0M142.8 279.1h0M124.8 295.5h0M112.7 299.1h0M117.7 306.2h0M135.4 312.2h0M120.5 288.8h0M145.2 299.5h0M111.7 304.8h0M132.1 275.8h0M124.2 295.2h0M135.4 316.4h0M129.5 315.2h0M120.3 293.7h0M127.8 281.2h0M125.2 273.8h0M120.4 296.7h0M123.9 301.5h0M121.5 290.2h0M123.4 305h0M122.4 305.5h0M131.9 297.9h0M138.1 301.1h0M129.1 305.8h0M124.8 286.3h0M137.2 304h0M108.8 284.3h0M124.5 299.4h0M129.7 266.7h0M129.8 294.6h0M136.5 305.9h0M134.4 269.1h0M107.4 285.7h0M116.2 289h0M120.7 288h0M121.7 300.8h0M139.9 289.5h0M133.6 288.9h0M143.9 300.7h0M122.4 297.9h0M108.2 290.8h0M145.7 278.1h0M113.1 277.4h0M117.9 310.6h0M121 283.9h0M105.6 285.4h0M119.8 314.8h0M121 291.4h0M132.2 298.6h0M131.9 315.9h0M132.1 309.8h0M116.4 316.4h0M118.1 305.8h0M142.1 305.8h0M130.7 314h0M139.1 315.2h0M137.8 310.5h0M116.7 299.5h0M124.5 284.1h0M117 314.4h0M143 289.6h0M127.2 311.8h0M103.9 277.9h0M119.4 297.2h0M133.6 271h0M135.1 312.6h0M123.5 290h0M123.4 286.2h0M129.8 305h0M130 306.9h0M122.3 292.3h0M124.6 291.1h0M143.2 268h0M124.4 303.1h0M129.3 304.8h0M139.3 304.7h0M117.1 279h0M138.9 309.6h0M134.2 285.9h0M144.5 299.4h0M131.9 315.2h0M132.9 300.8h0M124.8 317.9h0M137.1 273.4h0M128.7 316.2h0M117.4 302.5h0M126 285h0M141 287.8h0M133.8 303.3h0M119 300.2h0M128.3 281.8h0M112.2 304.6h0M105.4 267.1h0M147.7 291.2h0M121.7 301.5h0M135.7 313.6h0M126.3 295.2h0M123.2 315.1h0M144.4 300.3h0M140.7 288.5h0M114.6 305.2h0M132 308.2h0M126 290.5h0M123.7 283.5h0M131.8 292.3h0M138.8 308.4h0M118.3 300h0M132.5 309.7h0M134.4 291.8h0M115.9 275.5h0M125.4 287.7h0M119.3 291.3h0M141.5 304.2h0M131.9 283.5h0M111.9 290h0M129.6 293.9h0M127.2 301.7h0M123.6 316h0M144 291.1h0M146 283h0M129.7 286.4h0M132.3 317.7h0M111.4 306.6h0M124.8 301.7h0M111.8 296h0M137.5 315.6h0M126.4 271.9h0M143 307.1h0M129 295.1h0M129.9 297.4h0M135.7 312.5h0M139 311h0M116.6 310.5h0M139.2 315.5h0M142.8 288h0M117.3 294.8h0M121.2 294.3h0M135 312.8h0M109.3 294.7h0M133.6 308h0M120.2 299.4h0M135.9 299.8h0M125.5 282.5h0M112.9 311.8h0M110.6 269.1h0M124.3 303.5h0M119.4 292.7h0M137.5 303.5h0M136.3 316.6h0M124.6 302.2h0M129.2 297.6h0M140.2 303h0M131.2 300.6h0M146.1 271.8h0M126.4 286.4h0M121.1 302.7h0M137.1 315.2h0M128.5 303.3h0M119.6 302.5h0M125.7 292.8h0M110.8 300.5h0M133.5 299.1h0M110.1 280.8h0M120.8 301.8h0M110.6 300.7h0M122.3 310.4h0M137.4 295.7h0M127.1 309.6h0M132.4 300.7h0M128.1 278.5h0M122 297.8h0M116.8 299h0M141 289.7h0M126.6 296.7h0M121.6 292.2h0M106.3 279.3h0M139.6 301.1h0M112.7 305.8h0M117.5 281.9h0M143.7 293h0M133.4 303.6h0M128.5 316.7h0M123 297h0M122.7 298.7h0M136.5 269.8h0M143.7 296.4h0M128 269h0M145.1 267.9h0M116.6 280.5h0M145.2 295.7h0M113.5 301.3h0M136.1 304.8h0M143 287.5h0M124.2 298.3h0M118.6 305h0M142.5 279.6h0M126.7 292.7h0M140 310.2h0M123.3 300.4h0M120.6 292h0M138.4 302.8h0M123.8 284.5h0M132.7 289.5h0M112.1 304.2h0M114.2 292.2h0M137.2 294.6h0M135 286.2h0M126.5 276.8h0M123.8 294.1h0M126.6 282.8h0M136.6 309.5h0M120.1 288h0M121.8 312.2h0M132.6 296.9h0M113.9 306.2h0M132.4 280.9h0M140 280.7h0M140.7 305.8h0M130.2 299.2h0M136.5 301.3h0M134.6 315.8h0M134.3 287.1h0M150 276h0M128.7 315.2h0M144 286.3h0M135.8 303h0M136.6 302.8h0M120.6 312.8h0M128.1 285.8h0M114 308.9h0M113.1 285.8h0M139.4 273.3h0M113.4 293h0M142.1 310.7h0M128.4 291.1h0M121.6 286.6h0M110.7 295.3h0M139.4 285.8h0M138.5 304.7h0M119.5 286.4h0M135.9 298.3h0M131.6 297.2h0M129.4 302h0M122.5 315.4h0M145.1 280.3h0M110.8 292.8h0M118.5 268h0M113.6 306.4h0M127.1 297.4h0M124 270.6h0M128.5 304.4h0M116 316h0M126.7 301.8h0M129 293.7h0M115.4 306.5h0M116.2 292.1h0M140.4 312.1h0M134.8 296.3h0M129 298.7h0M124.9 291.5h0M116.1 303.6h0M128.3 293h0M120.8 294.1h0M121.1 303.5h0M112.5 279.6h0M123.1 310.7h0M123.2 307.2h0M116.7 306.2h0M124.1 287.3h0M125.9 295.5h0M137.8 307.1h0M139.8 306.9h0M127.2 302.2h0M134.4 314.4h0M136.3 317.1h0M150.5 268.3h0M120.5 287.3h0M134 317.1h0M124.1 271.7h0M141.1 284.4h0M116 281.9h0M130.7 313.5h0M137.8 298.5h0M125.3 283.3h0M140.2 295.9h0M131.6 279.5h0M141.8 304.4h0M130.1 269.2h0M140.7 304.9h0M122.1 313.8h0M114 276.1h0M142.2 307.2h0M104.4 276.6h0M121.6 299.4h0M126.6 313h0M121 292.4h0M127.1 302.3h0M121.2 304.5h0M127 306.5h0M126 286.9h0M119.3 293.7h0M120.6 286h0M127.2 316.4h0M129.4 299.7h0M135 300.4h0M119.1 287h0M119.7 317.2h0M125.1 302.7h0M141.5 308.3h0M122.4 294.3h0M128.9 315.3h0M129.8 288h0M113.1 301.9h0M146.5 277.7h0M142.3 302.8h0M136.8 277.3h0M120.2 310.5h0M110.1 284.5h0M126.3 304.2h0M112.4 303.2h0M133.1 278.2h0M120.1 288.3h0M125.3 288h0M143.4 275.5h0M113 308.7h0M136.2 302h0M138.4 291.2h0M141.5 295h0M116.9 306.2h0M137.3 294.3h0M135.6 296.7h0M139.2 280.1h0M126.4 298.4h0M132.3 310.9h0M129.9 290.7h0M140.2 312.3h0M142.6 290.8h0M124.4 309.8h0M140.9 296.8h0M115.1 315.5h0M115.7 301.2h0M114.1 304.4h0M125.1 291.8h0M125.5 303.8h0M133.2 315.9h0M132.2 289.7h0M136.1 308.7h0M124.5 311.6h0M111.9 298.4h0M135.3 303.1h0M116.7 290h0M124.8 284.5h0M132.2 300.2h0M132.8 285.4h0M134.4 306.5h0M118.8 314.8h0M136.3 317.3h0M111.4 298.4h0M121.9 294.4h0M142.3 309.5h0M133 291.4h0M113 292.2h0M138.1 309.6h0M123.8 296.2h0M119.1 289.4h0M124.2 278.2h0M131 284.6h0M140.8 315.4h0M139.7 289.2h0M122.3 291.2h0M116.9 293.3h0M142.7 285.9h0M134.3 285.6h0M134.2 288.9h0M139.2 288.3h0M108.5 288.1h0M115.9 302.4h0M123 301.7h0M118.7 274.4h0M116.5 310.8h0M110.6 293.8h0M131 297.6h0M133.7 284.3h0M114.6 316.1h0M129.2 313.9h0M129.2 310.6h0M145 302.2h0M109.9 300.5h0M128.8 289h0M139.1 285.3h0M137.3 303h0M123.9 288.2h0M128.5 288.9h0M124 281h0M119.9 317.6h0M117.6 293.1h0M132.2 307.7h0M128.8 273.5h0M108.6 271h0M129 309.1h0M136.8 280.8h0M135.1 304.1h0M121.1 307h0M110.9 296.5h0M120.9 291h0M131.2 275.5h0M145.5 289h0M141.5 302.7h0M135.7 293h0M115.3 302.3h0M110.4 293.7h0M142.6 308.3h0M144.2 302.5h0M140.5 277.8h0M119.6 273.5h0M139.7 304.1h0M121.2 302.9h0M121.3 304.1h0M130.3 287h0M122.9 304.7h0M115 297.4h0M113.9 271.2h0M128.1 278h0M143.5 304h0M131.5 308.2h0M139.5 282.2h0M138.7 293.7h0M129.3 283.9h0M115.1 290.9h0M137 282.4h0M125.6 317.9h0M136.3 299.2h0M136.6 318.2h0M107.1 287.6h0M144.1 296.8h0M120.1 276.8h0M117.2 286h0M119.4 303.1h0M135.1 283.7h0M135.8 289.7h0M119.9 311.7h0M118.6 293h0M140.2 302.3h0M133.1 311.9h0M118.1 298.9h0M120.7 302.8h0M133.7 306.5h0M134.4 289.3h0M123.2 302h0M112.1 290.7h0M122.9 280.5h0M122.1 288.5h0M137.2 304.6h0M119.8 289.9h0M112.4 285.7h0M138.1 299.2h0M133.9 310h0M135.9 297.5h0M142.7 288.2h0M145 289.4h0M115.9 280.6h0M136.9 311.1h0M112.9 295.8h0M142.1 303.2h0M136.2 288.3h0M121.6 290.5h0M140.7 297.2h0M117 307.8h0M137.4 308.3h0M138 303.2h0M124.6 296.9h0M135.9 315.8h0M133.8 299.8h0M113.1 276.4h0M139 301.9h0M124.8 276.5h0M123.2 308.3h0M115 292.2h0M120 313.5h0M134.4 293.5h0M131.2 316h0M113.2 296.9h0M118.2 299.4h0M133.4 300.2h0M137.9 299.4h0M140.9 286.5h0M138.6 283.8h0M131.1 291.1h0M129.3 301.5h0M135.2 314.7h0M142.7 304.9h0M130.1 297.8h0M132.5 273.6h0M129.9 265.6h0M123.7 298.2h0M138.7 307.5h0M134.1 314.3h0M112.8 312.5h0M128.9 291.4h0M118.2 283h0M146.6 277.9h0M138.8 300.1h0M114.5 301.8h0M134.3 299h0M132.4 316.8h0M120.7 298.9h0M142.5 293.1h0M118.8 290.1h0M127.5 287.7h0M130 286h0M139.8 295h0M135.3 300.8h0M140.6 280.6h0M113.3 298.5h0M130.6 309.1h0M137.5 298.1h0M103.8 275h0M119.9 275.1h0M110.6 292h0M122.5 293.1h0M110.5 303.3h0M137.2 305.5h0M140.8 291.5h0M118.8 283h0M135.7 305.8h0M129.5 286.8h0M141.9 294.7h0M134.5 284h0M126.6 293.5h0M121.7 293.8h0M136.3 307.3h0M119.2 313.9h0M125.2 293.6h0M135.6 309.2h0M117.2 288.1h0M128.7 298.1h0M137.4 305.5h0M124.7 304.8h0M131 289.8h0M121.7 279.4h0M121.2 300.2h0M128.7 294.5h0M134.5 301.9h0M134.3 296.4h0M123.3 282.8h0M120.3 268.7h0M131.3 294.6h0M116.2 307h0M140.6 293.2h0M128.1 293.1h0M117.9 272.2h0M141.7 269.2h0M125.7 301.1h0M117.7 297.1h0M139.9 290.2h0M121.4 312.7h0M140.3 291.8h0M113.5 314h0M117.1 304.8h0M113.7 307.1h0M137.9 315.4h0M117.5 299.1h0M118.8 297.1h0M141.4 283.4h0M111.9 297.1h0M130.3 288.4h0M133.9 280.6h0M126.6 316.8h0M113.3 298h0M123.8 290.5h0M142.7 295.5h0M141.3 275.4h0M120.3 303.3h0M137.9 288.4h0M128.1 305.5h0M125.3 285.2h0M119.7 282.5h0M145.1 290.2h0M121.9 285.4h0M138.5 274.5h0M124.6 302.5h0M130.6 275.5h0M123.5 282.2h0M123.7 294h0M133.2 298.4h0M118.7 317h0M139.1 309.8h0M115.2 286.3h0M118.4 312.4h0M118.1 308.1h0M127.7 278.6h0M122.9 285.8h0M120.1 307.5h0M125.2 301.9h0M136.1 295.7h0M140.1 301.9h0M141.9 288.2h0M149.8 277.1h0M136.4 305.7h0M111.2 271.4h0M119.1 293.7h0M134.9 311h0M139.6 290h0M116.8 315.2h0M124.4 306h0M128.5 282.5h0M122.5 284.4h0M139 290.1h0M123.1 298.6h0M141.2 297.3h0M140.4 313.6h0M112.2 296.4h0M109.5 281.1h0M126.5 289.9h0M133 267.6h0M118 304.1h0M116.1 301.9h0M121.6 317.4h0M125.1 313.4h0M126.1 297.5h0M122.9 303.3h0M136 277.3h0M132.7 273.1h0M115.2 310.9h0M132.9 295.8h0M140.2 304h0M118.2 270.5h0M135 308.3h0M115.2 299.3h0M122.4 301h0M122.9 293.5h0M128 288.1h0M133.7 301.1h0M109.3 285.6h0M111.5 281h0M128.1 304.2h0M136.5 283.8h0M117.5 290.8h0M117.2 309h0M136.6 290.5h0M142.7 309.9h0M111.4 303.4h0M124 304h0M124.9 311.4h0M114.2 282.3h0M116.1 301.5h0M129.9 296.8h0M124.7 296h0M119.8 289.7h0M129.3 291.1h0M123 313.7h0M117.2 303.9h0M109 267h0M109.7 281.4h0M114.4 302.6h0M141.1 304.9h0M126 269.9h0M132.2 294.9h0M143.6 292h0M128.5 314.3h0M119.8 293.4h0M138.9 290.3h0M134.4 299.7h0M139.6 265.6h0M122.2 288.9h0M148.2 289.1h0M131.8 295.4h0M135.4 273.9h0M139.4 311.1h0M118.9 286.7h0M128.3 284.5h0M133.6 317.3h0M124.9 290.8h0M141.7 297.4h0M114.8 296.1h0M113.1 270.8h0M138.9 304.9h0M115.9 313.8h0M133.3 314h0M138.7 305.7h0M141 313.1h0M117.8 276.8h0M129.2 297.8h0M117.6 285.3h0M125.9 287.9h0M122.6 289.5h0M135.8 313.7h0M130.1 308h0M141.9 291h0M130.6 298h0M125 301.1h0M129.4 274.3h0M135.5 284.3h0M110.6 290.1h0M130.8 296.9h0M122.5 267.8h0M137.4 311h0M120.1 310.8h0M120.9 281.5h0M121.1 295.3h0M132.1 285h0M114.8 292.6h0M121.5 304.5h0M125.4 292.1h0M130.6 284.7h0M117.1 300h0M129.9 303.7h0M130.1 289.9h0M136.5 285.1h0M139.6 294h0M124.4 281.7h0M140.5 283.1h0M113.5 292h0M126.5 274.6h0M127 295.4h0M141.1 302.5h0M134.3 281.4h0M114.2 295.6h0M129.6 290.4h0M117.8 302.2h0M110.1 293.9h0M119.2 298.4h0M136.8 286.9h0M115.6 296.6h0M131.8 303.4h0M134.2 296.3h0M109.3 294.1h0M143.8 306.5h0M131.2 278.1h0M142.5 306.5h0M114.6 282.3h0M135.1 287.1h0M119.4 305h0M138.9 302.3h0M142.2 300.5h0M133.6 306h0M137.6 268h0M127.8 296.6h0M110.7 294.8h0M123.7 291.4h0M125.1 307.2h0M141.4 297.2h0M135 295.7h0M144.9 299h0M136.3 314.3h0M128 291h0M137.8 317.2h0M140.2 299.2h0M142.2 306.6h0M119.6 293.1h0M132.6 315.3h0M125.5 303.4h0M109.7 269.4h0M123.2 278.8h0M137.6 283.1h0M116.2 305.5h0M119.7 304.3h0M134.5 288.5h0M119 318.3h0M128.9 292.8h0M116.9 296h0M116.1 281.3h0M144.9 290.8h0M128.2 297h0M118.6 302.5h0M127.5 298.9h0M109.5 295.5h0M123.4 306.9h0M130.9 311.8h0M115.2 304.2h0M122.7 310.1h0M110.8 303.7h0M118.4 304.6h0M103.6 276.1h0M108.1 287.2h0M136.2 301.2h0M128.5 281.5h0M130.7 294.2h0M131.8 304.7h0M108.8 297.7h0M113.5 287.4h0M119.6 315.6h0M122.3 290.5h0M122.9 285.7h0M114 308.6h0M119.7 303.6h0M125.5 311.4h0M146.3 266.5h0M140.4 298.3h0M133.6 291.1h0M124.4 313.7h0M130.6 295.8h0M127.1 317.7h0M142.5 300.8h0M111.4 300.5h0M113.1 297.5h0M117.4 308.9h0M124.5 305.5h0M112.1 276.7h0M135.3 314.7h0M108.8 291h0M133.5 315.4h0M134.4 313.5h0M125.3 299.3h0M116 306.2h0M117.6 283.8h0M119.5 306.8h0M125.6 294.8h0M145 276.9h0M133.4 308.3h0M122.2 310h0M115 306.8h0M122.2 295.9h0M109.4 291h0M109.2 281.4h0M116 317.1h0M121.4 290.9h0M125.2 289.8h0M121 297.3h0M131.8 280.3h0M133.4 268.8h0M143.4 301.2h0M136.5 308.2h0M134.2 302.3h0M123.5 282.5h0M124.9 289h0M144 279h0M129.9 273.2h0M112.7 299.9h0M113 286.6h0M115.9 271.3h0M146.7 291.4h0M130.3 289.6h0M127.6 286.2h0M123.9 286.5h0M131 301.9h0M141 307.4h0M124.7 280.1h0M136 312.5h0M128.6 306.8h0M136 280.7h0M135.3 272.3h0M106.5 282h0M132.6 296h0M134.1 317.8h0M119.6 272.6h0M128.5 306.5h0M146.4 296.4h0M119.1 312.6h0M125.7 288.6h0M134.3 290.7h0M123 316.8h0M125.9 289.4h0M142.5 309.1h0M142.9 293.3h0M146.1 294.9h0M132 291.8h0M125.7 285.9h0M110 281.3h0M110.6 287.9h0M128.2 301.5h0M134.5 286.3h0M138.1 284.1h0M131.6 302.1h0M129.3 276.2h0M140.4 276.2h0M120.1 307.8h0M137.6 299.3h0M142.5 278.7h0M131.8 267.2h0M120.6 291.6h0M127.8 290h0M117.1 289.6h0M123.7 304.4h0M121 279.9h0M140.4 302.6h0M136.9 269.5h0M117.6 301.1h0M120 312.9h0M124.6 291.4h0M136.4 298.3h0M126.4 289.7h0M141.6 301.2h0M130.3 276.1h0M118.2 273.1h0M125.8 254.1h0M129.3 240.5h0M123.8 253.4h0M128 245.1h0M126.3 265.2h0M129.3 257.9h0M123.9 263h0M126.1 249.7h0M127.3 251.1h0M123.9 258.4h0M128.6 243.9h0M128.1 251.5h0M127 264.3h0M127.5 254.2h0M129.5 244.5h0M130.9 261.1h0M128.2 252.1h0M128.3 254.1h0M125.9 248.7h0M124.6 248.6h0M124.9 254h0M130.8 250.7h0M127.4 261.8h0M124.9 244.9h0M125.6 238.2h0M130.3 252.5h0M128.1 254h0M130.9 258.6h0M123.7 255.1h0M130.7 262.3h0M127.2 240.5h0M130.7 235.2h0M128.8 242.6h0M127.6 240.5h0M127.7 245.6h0M127.1 246.3h0M127.6 257.4h0M126.5 258.3h0M124.3 252.8h0M126.3 238.2h0M128.3 260.2h0M126.1 262h0M127.8 256.3h0M129.7 251.1h0M126.3 250.9h0M127.6 249.2h0M125.5 240.5h0M123.7 242.6h0M126.1 250.4h0M130.6 240.5h0M124.6 264.1h0M129 263.3h0M130.9 238.2h0M126.6 258.9h0M129.2 240.5h0M126.9 255.2h0M128.7 240.5h0M126.5 247.5h0M124.9 242.6h0M130 235.2h0M128.6 259.1h0M125.3 242.6h0M123.7 264.4h0M124.2 238.2h0M128 260.9h0M127.3 244.7h0M129.3 255.2h0M128.6 257.4h0M127.8 262.9h0M124.8 258h0M127.1 261.4h0M126.9 242.6h0M125.9 256.9h0M127.2 262.1h0M126 242.6h0M127 246h0M128.1 235.2h0M127 257.9h0M128.3 251.3h0M126.3 242.6h0M124.1 263.4h0M130.7 256.6h0M127.7 242.6h0M129.4 260.3h0M126.2 261.2h0M125 246h0M128.9 235.2h0M126 247.2h0M130 252.2h0M130.8 248.7h0M128.6 261.5h0M125.4 261.3h0M127.2 249.5h0M125 235.2h0M128.2 242.6h0M130.5 251h0M125.2 261.4h0M127.6 258.9h0M130.1 264h0M129.2 238.2h0M127.1 254.1h0M127 263.8h0M123.7 252.7h0M124.7 256.3h0M125.2 258.4h0M124.5 259.2h0M127.2 238.2h0M127.1 255.7h0M123.9 258h0M130.6 250.2h0M127.3 238.2h0M129.7 256.5h0M126.9 250h0M124 252.2h0M128.4 265.2h0M125.4 248.8h0M127.9 265.5h0M126.3 254.9h0M125.7 254h0M125.1 246.6h0M126.8 263.1h0M127.9 255.6h0M126.5 263.5h0M123.8 240.5h0M124.6 238.2h0M130.9 253.4h0M128.5 238.2h0M125.2 238.2h0M124.3 235.2h0M129.4 262.5h0M124.8 244.1h0M128.1 259.8h0M127.7 256.2h0M129 246.3h0M129.1 263h0M126.1 255.2h0M130.7 264.1h0M124.5 251.9h0M128.1 261.4h0M129.1 251.1h0M124.6 253.6h0M130.4 251.5h0M128.1 240.5h0M130.7 248.8h0M125 251.1h0M126.8 248.6h0M126.7 246h0M128.6 250.2h0M126.3 248.4h0M127.9 263.6h0M126.8 243.7h0M127.1 245.3h0M130.1 255.4h0M130.9 247.3h0M126 264.1h0M126.2 245.8h0M127.6 264.4h0M130 257.9h0M129.5 257.1h0M125.9 256.7h0M130.7 253h0M124 242.6h0M124 248.3h0M127.9 255.9h0M128.4 258.7h0M123.9 249.8h0M126.3 251.8h0M125.5 253.6h0M129.2 253.6h0M125.7 255.7h0M125.5 258.4h0M130.4 261.8h0M124.7 255.1h0M126.5 260.5h0M124.5 258.7h0M125.5 235.2h0M129.4 238.2h0M127.6 261.3h0M129.2 259h0M123.9 261.8h0M129 253.1h0M126.6 256.9h0M130.4 242.6h0M129.5 263.1h0M124.4 252.4h0M130.1 256.3h0M127.9 259.2h0M127.9 255.1h0M124.4 265.3h0M126.1 245.6h0M129.4 254h0M124.6 262.1h0M124.5 255.5h0M124.2 235.2h0M128.7 256.8h0M128.7 235.2h0M125.9 238.2h0M125.3 258h0M124.5 242.6h0M129.5 247.7h0M125.6 262.4h0M129 254h0M124.8 254.8h0M129.3 249.5h0M130.3 246.9h0M128.9 245.8h0M123.9 259.2h0M127.5 250.6h0M128 244h0M128.6 246.7h0M124 260.6h0M130.4 261.6h0M126.7 248h0M129.5 235.2h0M128.8 254.3h0M129.1 258.6h0M128.4 251.8h0M130.1 244.1h0M130.7 260.1h0M130 254.5h0M123.9 253.9h0M125.5 246.7h0M130.5 249.6h0M125.2 251.4h0M123.8 252.9h0M127.8 249.4h0M130.2 244.6h0M125.4 259.6h0M126.1 249.8h0M126.6 240.5h0M130.7 258.9h0M125.2 260.2h0M126.2 264.4h0M125.5 246.2h0M130.5 246.6h0M124.4 254.2h0M128 248.2h0M125.3 265.1h0M129.6 242.6h0M129 244h0M125 256.5h0M127.2 253.1h0M129.8 252.8h0M128.6 249.5h0M130.2 261.4h0M129.2 250.3h0M128.4 256.4h0M130.4 248.6h0M129.7 251.8h0M127.4 256.3h0M124.5 261.3h0M130.2 257.4h0M128.3 248.6h0M130.2 238.2h0M126.9 257.6h0M127.4 246.2h0M124.8 247.3h0M129.1 261.1h0M126.4 261.2h0M127.3 248.5h0M130.8 252.5h0M129.5 255.7h0M124.1 264.3h0M124.2 262.6h0M125.5 248.7h0M130.4 247.8h0M130.8 235.2h0M125.3 261.2h0M130.8 242.6h0M130.6 263h0M130.8 255.8h0M130 240.5h0M129.5 249.8h0M127.2 251.2h0M124.5 247.1h0M126.3 257.8h0M127.5 249.9h0M130.4 254.2h0M124.2 246.8h0M124.1 256.3h0M128.5 245.3h0M127.4 247.2h0M125.5 251h0M126.1 261.4h0M129.5 254.5h0M127.3 258.6h0M126.8 235.2h0M130.3 257.3h0M124.8 245.3h0M126.5 246.9h0M125.9 251.6h0M125.8 251h0M125.6 249.6h0M130.3 255.9h0M129.3 252.7h0M124.3 254.7h0M129 257h0M125.5 256h0M128.9 247.1h0M128.5 264.1h0M123.8 245.2h0M124.7 265.2h0M129 256.5h0M128.8 264.5h0M128 254.6h0M126 244.7h0M129.9 251.6h0M124.3 247.5h0M130.1 264.4h0M128.4 242.6h0M130.9 257.5h0M124.1 265.1h0M130.8 254.3h0M125.2 257.4h0M128 258h0M124.4 250.1h0M126.3 253.6h0M124.3 262.6h0M123.8 247.3h0M125.9 235.2h0M125 263.4h0M130.2 249.6h0M124.5 261.2h0M126 253.3h0M125.5 254.6h0M130.8 262.9h0M127.3 235.2h0M125.1 260.6h0M125.7 244.4h0M124.9 250h0M125.3 261.9h0M124.1 261.2h0M127.8 252.4h0M127 253.6h0M125.9 255.3h0M126.4 254.1h0M130.7 265.3h0M124 249.2h0M126.3 244.6h0M128.3 258h0M123.9 250.7h0M126.6 262.6h0M128.5 247.2h0M129.5 259.9h0M123.7 249.2h0M127.1 260.7h0M125.5 259.1h0M130.9 246.9h0M124.3 244.4h0M125.9 240.5h0M125.5 253h0M126.4 256.7h0M126 260.5h0M127.5 256.8h0M125.4 244.2h0M128.2 260.3h0M125.9 257.4h0M127.5 260.1h0M129 260.2h0M124.2 265.5h0M130.6 258.1h0M126.1 246.5h0M128.6 262.9h0M129.1 245.5h0M126.9 265.3h0M127.3 264h0M129.4 253.2h0M125.6 260.6h0M129.6 246.2h0M130 255.2h0M125.7 263.5h0M124.1 251.7h0M127.8 246.6h0M129.9 262.6h0M123.7 258.1h0M128.2 247.1h0M128.3 245.8h0M125.6 257.6h0M128.8 248.6h0M130.8 250.9h0M129.5 253.3h0M127.5 263.2h0M130.2 245.4h0M127.5 246.7h0M126.9 246.9h0M124 245.9h0M130.7 238.2h0M124.6 240.5h0M125.2 244.5h0M127.3 254.6h0M124.4 243.7h0M128.5 251h0M129.2 255.6h0M125.7 255.2h0M123.7 259h0M126.6 259.7h0M124.9 263.1h0M127.2 256.7h0M128.6 244.7h0M127.9 250.3h0M124.5 249.4h0M124.1 244.6h0M124 254.4h0M129.2 247.7h0M130.3 256.9h0M130.2 246.7h0M128.3 260.9h0M125.7 264.3h0M124.1 259.4h0M127.3 260.5h0M126 259.5h0M123.7 263.1h0M128 263.9h0M126.6 255.5h0M130.9 246.5h0M130.2 259.3h0M125.7 247.5h0M125.9 265.2h0M125.7 251.8h0M127.4 259.3h0M130.8 253.2h0M125.9 243.7h0M126.5 243.8h0M128.7 250.6h0M127 254.6h0M129.4 263.4h0M129.9 254.2h0M128.5 263.4h0M129.2 252.2h0M130.8 259.7h0M126.2 265.5h0M123.9 256.8h0M127.3 244.8h0M127.2 245h0M127.1 259.5h0M124.3 260.4h0M129.4 246.4h0M129 252.6h0M125 254.5h0M124.6 264.3h0M128.1 264.8h0M127.9 262.6h0M129.9 260h0M130.1 260.7h0M125.5 250h0M127.8 238.2h0M126.4 252.6h0M128.4 248h0M128.4 256.2h0M126 259.8h0M124.1 254.8h0M124.9 263.9h0M129.3 249.2h0M129.3 256.2h0M124.6 255.9h0M130.3 245.9h0M128.1 261.9h0M124.2 255.3h0M126.6 246.4h0M130.8 262.1h0M129.9 250.5h0M128.1 245.7h0M126.7 249.2h0M125.6 257.1h0M126.1 258h0M125.4 256.3h0M130.9 249.5h0M123.9 248h0M129.1 248h0M125.8 252.9h0M130.2 264.9h0M124.9 262.6h0M130.9 264.5h0M125.2 248.4h0M126.5 261.9h0M125.3 252.6h0M129.6 243.6h0M126.9 261.2h0M128.1 244.7h0M126.4 252.8h0M129.4 264.6h0M124.7 268.5h0M126.5 267.1h0M127.6 284h0M128.4 272.5h0M127.7 269.6h0M124.9 283.5h0M129.1 317.9h0M127.3 266.5h0M130.2 291.1h0M126.4 290.7h0M129.8 273.4h0M127.8 266.3h0M130 292h0M130.3 280.9h0M126.7 288.5h0M125.4 268.8h0M129.1 271.1h0M126.8 275.6h0M129.4 270.4h0M127.8 277.4h0M128.7 287h0M128.9 266.4h0M126.8 310.1h0M129.2 278.5h0M129.7 272.4h0M125.7 286.6h0M128.3 278.8h0M129.6 268.5h0M129.5 292.1h0M130.3 299.8h0M125.3 281.7h0M129.1 285h0M130.5 301.7h0M128.4 277.3h0M126.1 278h0M128.7 274.8h0M126.7 273h0M130.7 271.6h0M129 268.5h0M125.6 276.1h0M125.2 318.5h0M126.3 273.8h0M128.4 284.9h0M126.4 276.3h0M126.1 268.7h0M124.1 274h0M125.7 298.2h0M127.6 273.7h0M125 289.7h0M123.7 280.7h0M126 291.9h0M126.8 276.7h0M125.2 265.8h0M129.7 294.8h0M128.1 273.2h0M128.3 271.1h0M126.9 273.5h0M125.9 280h0M127.6 284.3h0M128.3 298.5h0M129.4 318.1h0M128.2 284.2h0M126.2 283.5h0M124.1 302h0M126.6 275.7h0M129.4 267.9h0M126.9 282.6h0M126.5 301.1h0M124.9 270.1h0M127.3 283.1h0M126.7 269h0M130 302.4h0M126.1 267.9h0M126.9 285.3h0M130 278h0M125.3 292.7h0M127.5 269h0M126.1 298h0M125.7 281.2h0M124.3 273.4h0M126.7 272.3h0M124 277.2h0M129.1 274.3h0M124.6 287.3h0M126.4 293.8h0M125.8 317.9h0M127.7 283.4h0M124.3 267.2h0M126.8 277.2h0M127.7 302.8h0M127 281.9h0M125.1 265.7h0M127.4 275h0M129.5 286.1h0M125.3 275.1h0M126 288.4h0M129.5 296.8h0M128.7 278.7h0M126 270.4h0M129.6 284.4h0M127.4 272.3h0M125.9 273.8h0M126.7 273.6h0M125.3 266.2h0M127.6 265.9h0M128.1 267.2h0M126.9 274.2h0M129.6 276.9h0M124.7 270.3h0M127.6 292.4h0M128.1 276.3h0M124 271.9h0M124.4 269.9h0M127.7 286.8h0M128.5 286.6h0M126.6 274.9h0M130.5 291h0M125.2 280h0M127.5 278.2h0M125.9 290.8h0M124.3 268.8h0M126 268.8h0M130.4 277.5h0M124.7 288.3h0M124.6 276.2h0M128.1 270.3h0M129.6 273.8h0M127.8 272.2h0M129.6 277.8h0M125.1 269.4h0M125.1 280.7h0M125 266.3h0M126.5 287.5h0M127.7 276.3h0M127.8 298.1h0M126.8 292h0M124.9 294.1h0M125.5 289.8h0M126.4 267.9h0M128.7 269.9h0M125.6 277h0M126.9 287.5h0M129 268h0M127 284.9h0M127 293h0M129.5 282.3h0M130.3 285.7h0M125.8 266.4h0M129.6 293.3h0M129.2 283.7h0M128.9 285.6h0M130.1 270.6h0M126.9 311.7h0M129.4 296.1h0M125.3 293.3h0M127.6 280.8h0M128.3 299.5h0M128.9 278h0M127.2 274.8h0M129.4 267.7h0M129.4 270.8h0M124.5 278.2h0M100.9 276.9h0M98.9 267.9h0M98.5 265.7h0M102.4 283.1h0M106.3 299.1h0M99.9 272.8h0M102.9 286h0M104.4 291.9h0M102.9 284h0M107.1 300.1h0M105.1 293.3h0M102 282.5h0M107.2 300.5h0M98.8 268.5h0M105.5 294.5h0M102.1 283.6h0M105.7 295.9h0M100.8 278.4h0M106.2 298.1h0M103.7 287.7h0M104.8 292.3h0M102.5 284.6h0M99.5 270.9h0M106.2 297.7h0M101.8 282h0M101 275.5h0M99.4 269.6h0M100.5 273.9h0M104.2 290.3h0M104.3 291.7h0M102.4 281.9h0M99.2 270.4h0M98.6 267.2h0M103.5 287.2h0M101.2 279h0M98.9 266.9h0M105.1 293.2h0M99.1 269.8h0M105.1 294.5h0M105.6 296.5h0M104.4 291.1h0M102.3 282.6h0M105.6 297.2h0M100.3 274.8h0M98.6 266.4h0M100.5 273.7h0M103.2 287h0M102.4 284.1h0M151.7 284.8h0M155.1 270.6h0M156.4 266h0M148.9 296.2h0M153.2 277.4h0M151.5 286.4h0M151.4 287.3h0M152.5 281.5h0M147.6 300.6h0M152.2 283.3h0M155.5 267.9h0M151.6 285.3h0M150.5 290.6h0M149.6 292.8h0M151.9 285h0M154.4 273.3h0M148.8 294.9h0M152.4 281.9h0M153.4 278.9h0M150.2 291.4h0M152.8 280.4h0M150.8 288.5h0M154.5 274.5h0M149.9 292.2h0M153.8 277.4h0M151.5 284.4h0M149.5 293.8h0M148.6 297.2h0M152.1 284.4h0M154.1 274.6h0M154.6 273.8h0M156 267.6h0M149.9 293.5h0M149.2 295.5h0M150.4 289.9h0M153.8 278.3h0M148.4 298.4h0M153.6 278h0M148.1 298.6h0M155.9 268.7h0M151.2 287.1h0M149.1 294.7h0M155.5 267.5h0M148.6 296.6h0M152 282.4h0M155.4 270.3h0M153 278.8h0M156 266.1h0M61.9 277h0M76.5 304.4h0M98.7 290.3h0M100.6 313.2h0M100 309.7h0M186.4 281.4h0M171.1 300.9h0M162.2 302.6h0" stroke="#000" stroke-width="1.25" stroke-linecap="round" fill="none"/><path d="M121.4 241.4h0M122.3 242.6h0M107.9 263.5h0M104.5 254.7h0M122.1 259.2h0M122.9 240.2h0M119.4 238.5h0M121.1 262h0M119.7 243.2h0M111.3 237.8h0M122.8 262.2h0M116.7 249.2h0M114.2 251.1h0M99.3 244.8h0M116.3 263.3h0M117.1 251.6h0M122.3 257.1h0M123 246.2h0M122.4 239.6h0M116.6 250.7h0M120.2 264.7h0M122.7 241.2h0M103.5 262.9h0M118.8 250.5h0M117.1 237.9h0M107 258.1h0M121.3 255.9h0M121.5 235h0M117.9 252h0M121.1 243.9h0M114.8 261.8h0M122.6 256.2h0M113 246.7h0M117.3 246.3h0M117.2 255h0M114.2 237h0M111 245.2h0M121.8 263.8h0M119.1 245.9h0M122.7 252.1h0M122 244.1h0M122.4 237h0M118.1 246.7h0M120.2 245.4h0M121.5 236.8h0M120.7 250.5h0M120.9 254.8h0M123.2 243.2h0M119.8 254.3h0M109.9 244.6h0M122.9 264.9h0M123.1 255.7h0M120.2 262.9h0M120.8 239.3h0M115.9 252.1h0M107.8 248.2h0M121.9 247h0M121.9 236.5h0M122.6 247.1h0M121.7 256.7h0M116.4 251.8h0M123 251h0M105.2 237.6h0M122 242.9h0M122.7 257.9h0M123.1 244h0M119 244.2h0M123.2 258.1h0M121.4 263.6h0M120.8 246.1h0M120.1 248.1h0M96.7 238.4h0M117.2 237.1h0M121.5 250.9h0M122.4 262.8h0M111.8 243.5h0M122.2 262h0M114.2 251.9h0M119.6 258.4h0M108.4 236.4h0M121.8 258h0M115.8 256.6h0M122 247.3h0M121.7 253.2h0M123.2 239.2h0M114.8 265h0M122.5 249.6h0M115.8 244.9h0M122.5 244.8h0M122.5 264h0M118.8 239.3h0M122.7 242.2h0M120.8 235.7h0M121.1 250h0M119 256.3h0M120.5 249.8h0M117.5 237.5h0M119 240.4h0M122.1 261.4h0M101.6 252.8h0M118.5 257.8h0M120.7 236.3h0M118.5 246.8h0M112.5 263.2h0M120.1 250.5h0M122.7 259.6h0M114.6 242.9h0M120.8 252.6h0M121.5 240.6h0M120.6 249.5h0M122.2 248.8h0M119.4 249.8h0M114.8 260h0M111.5 251.8h0M118.3 251.5h0M117.7 247.1h0M112.1 241h0M107.3 243.3h0M123.3 242.7h0M120.3 237h0M118.3 249.8h0M119.7 237.5h0M123.2 235.8h0M121.9 242.4h0M97.3 249.6h0M120.6 254.6h0M123.1 262.8h0M117 261.3h0M106.2 254.5h0M116.3 254.2h0M113.6 245.3h0M119.5 240.6h0M122.4 250.3h0M108.8 249.1h0M122.1 240h0M116.5 251.7h0M114.4 239.7h0M111.3 250.4h0M111.5 260.4h0M118.5 236.4h0M123.2 240.7h0M106.7 244h0M122.9 250.4h0M120.5 241.5h0M98.9 264.5h0M115.8 251.2h0M119.8 244.9h0M122.5 247.3h0M122.9 263.9h0M120.5 255.4h0M122.4 246h0M119.7 245h0M122.6 262.4h0M120.2 255.8h0M122.7 251.4h0M122.4 265.3h0M120.7 261.3h0M119.4 248.8h0M117.9 254h0M118.9 259.3h0M114.5 262.7h0M109.6 246h0M120.9 259.4h0M118.1 251.1h0M114.5 247.9h0M122.2 242h0M122.1 250.7h0M121.2 263h0M120.6 247.5h0M121.1 248.8h0M109.2 254.2h0M106.6 265.3h0M118.3 243.6h0M120.9 255.7h0M119.9 254.8h0M116.2 245.4h0M122.2 249.3h0M118 248.5h0M122.6 246.6h0M122.1 241h0M122.2 257h0M116.9 250.7h0M120.9 263.8h0M122.1 246.1h0M122.7 258.8h0M120.2 237.7h0M119.4 244.5h0M109.1 245h0M119.5 254h0M114.9 251.6h0M120.1 251.4h0M118.8 262.8h0M122.9 243.3h0M109.9 237.7h0M123 257.5h0M116 264.4h0M114.9 239.1h0M117.8 242.5h0M117.1 252.9h0M122.4 263.4h0M111 259.7h0M118.2 252.3h0M116.2 253.5h0M120.5 236.1h0M118.8 261.5h0M100.9 250.1h0M121.4 259.5h0M117.4 255.4h0M113.6 263.8h0M122.9 256.1h0M123 258.4h0M121.9 253.7h0M117.9 244.3h0M120.5 264.8h0M122.9 254.5h0M121.7 262.4h0M101.7 261.9h0M106.8 249.3h0M118.3 245.7h0M121.8 254.2h0M118 241.7h0M114.7 256.4h0M122.6 243.3h0M115.3 259.7h0M119.7 261.1h0M108.7 248.8h0M118.2 238.2h0M121.4 245.3h0M123 260.7h0M120.3 235.6h0M109 250h0M122.8 247.5h0M119.3 255.5h0M113.3 250.5h0M118.5 240.8h0M122.5 253.3h0M122.4 240.2h0M122.2 256.4h0M121.9 237.7h0M114.4 253.8h0M114.2 252.4h0M119.6 236.8h0M122.8 248.2h0M108 250.5h0M122.3 239.2h0M121.1 265.4h0M119 237.3h0M118.8 258.2h0M104.7 248.1h0M122.2 255.3h0M123.2 239.6h0M120.3 244.2h0M122.4 255.7h0M115.1 257h0M113.5 262.3h0M121.2 249.6h0M120.9 253.2h0M121.2 256.6h0M123.2 238.5h0M120.4 243.7h0M122.5 243.2h0M122.3 255h0M119.4 251.9h0M117.4 259.3h0M123.1 247.2h0M119.1 241.6h0M112.8 261h0M118.1 239.1h0M114.4 259.3h0M97.2 258.7h0M104.6 248.4h0M116.8 240.5h0M112.2 246.6h0M119.2 235.3h0M121.8 239.5h0M118 265.5h0M119.2 258.6h0M120.7 238.4h0M121.1 239.1h0M121.1 261.6h0M120.2 245.9h0M109.9 238.7h0M117.2 238.8h0M117.5 234.9h0M114.8 248.7h0M116.2 243h0M119.7 262.2h0M120.7 242.8h0M120.7 248.3h0M109.2 260.8h0M121.1 256.9h0M119.1 246.6h0M104.7 261.7h0M120.7 255.1h0M119.2 250.8h0M103.4 243.6h0M121.2 256h0M121.3 246h0M117.7 260.1h0M121.7 260h0M121.9 265h0M121.3 260.8h0M118.7 254.5h0M105.5 243.2h0M117.5 263.5h0M121.4 249.4h0M98 242.9h0M120.6 262h0M117.3 243.3h0M122.6 251h0M120 249h0M119.9 260.7h0M100.9 251.8h0M108.9 252.3h0M122.4 260.1h0M116.7 265.2h0M119.5 252.9h0M122.2 258.5h0M118.6 245.9h0M119.5 240.1h0M113.7 237h0M120.1 240.6h0M123.1 252.7h0M119.9 265h0M117.2 254.1h0M115.3 239.5h0M120.2 262.4h0M114.4 244.7h0M122.5 234.9h0M122.6 241.3h0M123.2 246.5h0M118.8 236.2h0M112.3 244.2h0M123 245.4h0M122 244.3h0M96.1 240.8h0M102.7 259.2h0M123 255h0M114.1 262.3h0M119.9 239.6h0M114.1 265.1h0M119.6 240.8h0M119.1 257.1h0M111.4 256h0M122.8 244.4h0M109.9 246.6h0M120.4 244.8h0M122.2 243.6h0M123.2 237.9h0M108.1 260.9h0M123.2 264.7h0M120.6 247.9h0M117.4 252.7h0M105.3 249.5h0M118.2 263.6h0M113.3 244.1h0M122 257.6h0M112.9 242.6h0M111.7 247.3h0M108.7 237.3h0M123 248.7h0M117.7 234.7h0M118.8 247.4h0M121.3 238.3h0M119.5 263.8h0M116.6 263h0M118.7 248.5h0M120.3 261.1h0M113.2 238.7h0M117.1 244.3h0M98.4 265.6h0M98 263.5h0M97.6 261.4h0M97.1 259.4h0M96.7 257.3h0M96.3 255.3h0M95.9 253.2h0M95.5 251.1h0M95.1 249.1h0M94.8 247h0M94.4 245h0M94 242.9h0M93.6 240.8h0M93.3 238.8h0M92.9 236.7h0M92.5 234.7h0M123 234.7h0M121.3 234.7h0M120.5 234.7h0M119.6 234.7h0M118 234.7h0M117.2 234.7h0M115.5 234.7h0M114.7 234.7h0M113 234.7h0M112.2 234.7h0M111.4 234.7h0M108.1 234.7h0M107.3 234.7h0M105.6 234.7h0M104.8 234.7h0M102.3 234.7h0M101.5 234.7h0M100.7 234.7h0M99.8 234.7h0M97.4 234.7h0M95.7 234.7h0M94.9 234.7h0M94.1 234.7h0M93.2 234.7h0M123.6 230.2h0M123 230.2h0M122.3 230.2h0M121.7 230.2h0M121 230.2h0M120.4 230.2h0M119.8 230.2h0M119.1 230.2h0M118.5 230.2h0M117.9 230.2h0M117.2 230.2h0M116.6 230.2h0M116 230.2h0M115.3 230.2h0M114.7 230.2h0M114.1 230.2h0M113.4 230.2h0M112.8 230.2h0M112.2 230.2h0M111.5 230.2h0M110.9 230.2h0M110.3 230.2h0M109.6 230.2h0M109 230.2h0M108.3 230.2h0M107.7 230.2h0M107.1 230.2h0M106.4 230.2h0M105.8 230.2h0M105.2 230.2h0M104.5 230.2h0M103.9 230.2h0M103.3 230.2h0M102.6 230.2h0M102 230.2h0M101.4 230.2h0M100.7 230.2h0M100.1 230.2h0M99.5 230.2h0M98.8 230.2h0M98.2 230.2h0M97.6 230.2h0M96.9 230.2h0M96.3 230.2h0M95.6 230.2h0M95 230.2h0M94.4 230.2h0M93.7 230.2h0M93.1 230.2h0M92.5 230.2h0M91.8 230.2h0M91.2 230.2h0M90.6 230.2h0M89.9 230.2h0M89.3 230.2h0M88.7 230.2h0M88 230.2h0M87.4 230.2h0M86.8 230.2h0M86.1 230.2h0M85.5 230.2h0M84.9 230.2h0M84.2 230.2h0M83.6 230.2h0M82.9 230.2h0M82.3 230.2h0M81.7 230.2h0M81 230.2h0M80.4 230.2h0M79.8 230.2h0M79.1 230.2h0M78.5 230.2h0M77.9 230.2h0M77.2 230.2h0M76.6 230.2h0M76 230.2h0M75.3 230.2h0M74.7 230.2h0M74.1 230.2h0M73.4 230.2h0M72.8 230.2h0M72.2 230.2h0M71.5 230.2h0M70.9 230.2h0M70.2 230.2h0M69.6 230.2h0M69 230.2h0M68.3 230.2h0M67.7 230.2h0M67.1 230.2h0M66.4 230.2h0M65.8 230.2h0M65.2 230.2h0M64.5 230.2h0M62.6 230.2h0M60.7 230.2h0" stroke="#1cb47c" stroke-width="2.0" stroke-linecap="round" fill="none"/><path d="M138 258.5h0M132 249.3h0M131.7 256.8h0M132.2 238.7h0M135.1 240.7h0M132 255.3h0M135.2 237.1h0M138 249.5h0M131.6 264.2h0M134.3 244h0M132.8 246h0M133.9 236.1h0M136.6 252.3h0M132.3 234.9h0M133.2 261h0M131.9 254.5h0M132 262.1h0M132 245.3h0M131.3 245.5h0M133.3 237.1h0M134.1 244.6h0M138.9 238.5h0M134.8 243.8h0M133.5 262.8h0M132.1 262.5h0M131.8 235.8h0M134.6 238.6h0M132 252h0M134.4 263h0M132.5 256.6h0M131.5 243.9h0M133.9 265.2h0M131.6 246h0M141.4 240.1h0M131.4 242.7h0M138.8 254.4h0M133.3 255.2h0M131.4 263.6h0M141.3 264.2h0M133.2 262.9h0M142.4 245.7h0M131.8 249.9h0M134.2 254h0M132.5 257.8h0M131.8 242h0M133.1 255.1h0M133.1 247.5h0M132.9 256.6h0M131.7 261.3h0M134.9 244.8h0M133.4 240.1h0M133.1 240.3h0M133.9 255.6h0M131.7 255.1h0M134.8 265.4h0M131.5 252.4h0M132.6 242.1h0M132.3 245.4h0M132.9 255.8h0M132.1 260h0M132 253.5h0M135.5 249.7h0M133 242.2h0M137 240.3h0M132.7 252.3h0M132.8 248.6h0M134.4 251.2h0M137.5 250.8h0M132.6 259.4h0M135 256.8h0M133.9 249.4h0M132.1 258.5h0M135.5 244.7h0M135.5 256.6h0M132.3 237.2h0M131.6 241.3h0M132.2 250.4h0M134.6 246.7h0M132.9 244h0M133.5 243.6h0M132.5 244.5h0M131.9 263.5h0M138.6 248.9h0M132.7 242.3h0M132.5 241.7h0M159.7 245.3h0M131.5 248.6h0M134.3 235.6h0M132.3 239.9h0M134.2 241.2h0M132.3 241.2h0M137.7 249.2h0M132.8 253.8h0M132.4 240.5h0M131.7 249.4h0M131.7 256h0M132.5 245h0M134.1 260.3h0M134.5 234.9h0M134.1 241.6h0M133.9 240.3h0M138.3 259.8h0M132.2 248.7h0M136.3 258.3h0M132.5 254.3h0M136.9 251.3h0M132.4 257.7h0M131.5 237.3h0M132.6 263.8h0M132 261h0M135.9 264h0M134.5 263.4h0M133.7 257h0M137 256.5h0M136.8 261h0M131.4 251.8h0M132.4 264.8h0M134.7 264.2h0M136.3 243.4h0M133.2 249.3h0M131.9 243.9h0M132 235h0M132.3 263.4h0M131.9 263.1h0M133 251.7h0M133 250.8h0M136.9 246.8h0M134.3 258.2h0M133 235h0M133.3 256.4h0M132 241.6h0M135.3 248.1h0M147.2 247.8h0M131.7 257.5h0M132.9 239.1h0M131.5 257.8h0M131.6 256.7h0M133.3 257.5h0M135.9 247.2h0M134 246.2h0M149.8 237.6h0M131.6 237.2h0M131.8 246.8h0M131.7 250.1h0M134.3 239h0M135 258.9h0M133.2 239.9h0M141.1 253.3h0M156.5 238.3h0M131.4 262.5h0M132.2 254.1h0M132 246.7h0M137.9 244h0M132 256.8h0M135.3 249.8h0M134.1 263.3h0M134.4 253.2h0M131.4 247.5h0M132.9 246.7h0M137.6 263h0M133.9 236.5h0M133.3 263.4h0M134.7 239.5h0M135.6 235.8h0M135.4 241.4h0M131.8 261.6h0M132.5 251.6h0M137 237.1h0M132.9 257.7h0M135.4 251.3h0M132.9 261.9h0M133.7 250.1h0M135.3 264.9h0M134.8 239.8h0M138.6 238.6h0M131.8 252.3h0M132.8 243.1h0M135 255.8h0M146.3 258.7h0M146.8 241.7h0M133.6 264.9h0M134.3 262.4h0M136.2 263.5h0M132.5 239.7h0M132.9 265.1h0M140.1 250.2h0M139 264.4h0M134.4 238.2h0M134.8 262.7h0M131.8 238.2h0M140.4 258.8h0M133 253h0M131.5 238.9h0M138.9 235.2h0M137.7 261h0M131.5 254.5h0M158 240.7h0M133 244.6h0M149.1 261.5h0M133.5 251.6h0M131.6 251.1h0M133.5 240.5h0M134.7 260.4h0M132 265h0M140 259.9h0M141.5 262.7h0M134 243.3h0M133.3 251.2h0M144.1 250h0M136.1 259.3h0M133.2 255.3h0M139.7 257.5h0M132.9 252.4h0M132.5 254.1h0M135.5 238.1h0M134.1 256.2h0M132.9 236.2h0M134.3 261.9h0M135.6 245.1h0M132 251.2h0M133.7 260.7h0M138 243h0M131.8 255.2h0M134.3 257.7h0M134.1 241.8h0M132.3 245.8h0M133.2 265.4h0M132.8 244.8h0M131.9 253h0M133.5 241.2h0M134.5 264.9h0M132.7 256.8h0M133.6 241.6h0M131.8 248h0M135.2 243.1h0M132 245.1h0M131.7 260.9h0M131.9 259.2h0M134.8 255.3h0M135 260.7h0M134 260.8h0M134.1 255.1h0M135.2 261.7h0M133.7 244h0M134.8 262.9h0M135.3 253.4h0M132.8 259.8h0M132.7 262h0M132.8 238.6h0M131.5 253.7h0M132.5 260h0M143.3 264.5h0M132.6 255.5h0M134 262.2h0M156.2 265.6h0M156.6 263.5h0M157 261.4h0M157.5 259.4h0M157.9 257.3h0M158.3 255.3h0M158.7 253.2h0M159.1 251.1h0M159.5 249.1h0M159.8 247h0M160.2 245h0M160.6 242.9h0M161 240.8h0M161.3 238.8h0M161.7 236.7h0M162.1 234.7h0M131.6 234.7h0M132.5 234.7h0M133.3 234.7h0M134.1 234.7h0M135 234.7h0M138.3 234.7h0M139.1 234.7h0M139.9 234.7h0M142.4 234.7h0M143.2 234.7h0M144.9 234.7h0M145.7 234.7h0M146.5 234.7h0M149 234.7h0M149.8 234.7h0M151.5 234.7h0M153.1 234.7h0M154.8 234.7h0M156.4 234.7h0M157.2 234.7h0M158.1 234.7h0M159.7 234.7h0M160.5 234.7h0M161.4 234.7h0M131 230.2h0M131.6 230.2h0M132.3 230.2h0M132.9 230.2h0M133.6 230.2h0M134.2 230.2h0M134.8 230.2h0M135.5 230.2h0M136.1 230.2h0M136.7 230.2h0M137.4 230.2h0M138 230.2h0M138.6 230.2h0M139.3 230.2h0M139.9 230.2h0M140.5 230.2h0M141.2 230.2h0M141.8 230.2h0M142.4 230.2h0M143.1 230.2h0M143.7 230.2h0M144.3 230.2h0M145 230.2h0M145.6 230.2h0M146.3 230.2h0M146.9 230.2h0M147.5 230.2h0M148.2 230.2h0M148.8 230.2h0M149.4 230.2h0M150.1 230.2h0M150.7 230.2h0M151.3 230.2h0M152 230.2h0M152.6 230.2h0M153.2 230.2h0M153.9 230.2h0M154.5 230.2h0M155.1 230.2h0M155.8 230.2h0M156.4 230.2h0M157 230.2h0M157.7 230.2h0M158.3 230.2h0M159 230.2h0M159.6 230.2h0M160.2 230.2h0M160.9 230.2h0M161.5 230.2h0M162.1 230.2h0M162.8 230.2h0M163.4 230.2h0M164 230.2h0M164.7 230.2h0M165.3 230.2h0M165.9 230.2h0M166.6 230.2h0M167.2 230.2h0M167.8 230.2h0M168.5 230.2h0M169.7 230.2h0M170.4 230.2h0M172.3 230.2h0M175.5 230.2h0M176.1 230.2h0M177.4 230.2h0M178.6 230.2h0M179.9 230.2h0M181.8 230.2h0M184.4 230.2h0M185 230.2h0M185.6 230.2h0M186.3 230.2h0M183.8 244.4h0M181.9 251.4h0M176.2 241.7h0" stroke="#f01818" stroke-width="2.0" stroke-linecap="round" fill="none"/><path d="M123.6 230.2h0M124.3 230.2h0M124.9 230.2h0M125.6 230.2h0M126.3 230.2h0M127 230.2h0M127.6 230.2h0M128.3 230.2h0M129 230.2h0M129.7 230.2h0M130.3 230.2h0M131 230.2h0" stroke="#000" stroke-width="2.0" stroke-linecap="round" fill="none"/><g stroke="#1a1ae0" stroke-width="1.5" stroke-dasharray="5 3" fill="none"><path d="M33 265.6H188"/><path d="M123.6 212.1V247.9" stroke-opacity="0.9"/><path d="M131 212.1V247.9" stroke-opacity="0.9"/></g><g stroke="#333" stroke-width="1.3" fill="none"><path d="M32 212.6V318.5H190.8"/><path d="M32 318.5h-3"/><path d="M32 300.9h-3"/><path d="M32 283.2h-3"/><path d="M32 265.6h-3"/><path d="M32 247.9h-3"/><path d="M32 230.2h-3"/><path d="M32 212.6h-3"/><path d="M32 318.5v3"/><path d="M63.8 318.5v3"/><path d="M95.5 318.5v3"/><path d="M127.3 318.5v3"/><path d="M159.1 318.5v3"/><path d="M190.8 318.5v3"/></g><g style="font-family:'Liberation Sans',sans-serif;font-weight:bold;font-size:8px" fill="#222"><text x="28.2" y="321.6" text-anchor="end" font-size="8.6">0</text><text x="28.2" y="304" text-anchor="end" font-size="8.6">1</text><text x="28.2" y="286.3" text-anchor="end" font-size="8.6">2</text><text x="28.2" y="268.7" text-anchor="end" font-size="8.6">3</text><text x="28.2" y="251" text-anchor="end" font-size="8.6">4</text><text x="28.2" y="233.3" text-anchor="end" font-size="8.6">5</text><text x="28.2" y="215.7" text-anchor="end" font-size="8.6">6</text><text x="32.2" y="330.3" text-anchor="middle" font-size="8.6">-15</text><text x="64" y="330.3" text-anchor="middle" font-size="8.6">-10</text><text x="95.8" y="330.3" text-anchor="middle" font-size="8.6">-5</text><text x="127.3" y="330.3" text-anchor="middle" font-size="8.6">0</text><text x="159.1" y="330.3" text-anchor="middle" font-size="8.6">5</text><text x="190.8" y="330.3" text-anchor="middle" font-size="8.6">10</text></g><text x="111.4" y="355.5" text-anchor="middle" style="font-family:'Liberation Sans',sans-serif;font-weight:bold;font-size:8.5px" fill="#222">Log2(Fold Change)</text><text transform="translate(10.3 266.6) rotate(-90)" text-anchor="middle" style="font-family:'Liberation Sans',sans-serif;font-weight:bold;font-size:8.9px" fill="#222">-Log10(q Value)</text><text x="28.1" y="199.6" style="font-family:'Liberation Sans',sans-serif;font-weight:bold;font-size:12.2px" fill="#111">miR-27a KO <tspan font-style="italic">vs.</tspan> HepG2(Scr)</text><text x="-0.3" y="196.7" style="font-family:'Liberation Sans',sans-serif;font-weight:bold;font-size:16px" fill="#000">B</text>
<text transform="translate(198.6 11.9) scale(0.88 1)" style="font-family:'Liberation Sans',sans-serif;font-weight:bold;font-size:16px" fill="#000">C</text><g fill="none" stroke-width="2"><ellipse cx="253.1" cy="61.85" rx="55.4" ry="51.05" stroke="#1e78c8"/><ellipse cx="322.8" cy="60.8" rx="55.4" ry="51" stroke="#f6b910"/><ellipse cx="287.95" cy="123.65" rx="55.55" ry="51.05" stroke="#1aaa4a"/></g><text x="234.8" y="33.6" text-anchor="middle" style="font-family:'Liberation Sans',sans-serif;font-weight:bold;font-size:6px" fill="#ee1c24">RNA-seq</text><text x="234.6" y="40.9" text-anchor="middle" style="font-family:'Liberation Sans',sans-serif;font-weight:bold;font-size:6px" fill="#111">Fold Change&gt;1.5</text><text x="234.6" y="48.1" text-anchor="middle" style="font-family:'Liberation Sans',sans-serif;font-weight:bold;font-size:6px" fill="#111">q Value&lt;0.0 01</text><text x="234.6" y="55.2" text-anchor="middle" style="font-family:'Liberation Sans',sans-serif;font-weight:bold;font-size:6px" fill="#111">(miR-23a&amp;miR-27a)</text><text x="233.8" y="65.9" text-anchor="middle" style="font-family:'Liberation Sans',sans-serif;font-weight:normal;font-size:6.5px" fill="#4a8fd6">593</text><text x="233.8" y="73.2" text-anchor="middle" style="font-family:'Liberation Sans',sans-serif;font-weight:normal;font-size:6.5px" fill="#4a8fd6">genes</text><text x="233.8" y="79.8" text-anchor="middle" style="font-family:'Liberation Sans',sans-serif;font-weight:normal;font-size:6.5px" fill="#4a8fd6">(22.8%)</text><text x="335.9" y="36.2" text-anchor="middle" style="font-family:'Liberation Sans',sans-serif;font-weight:bold;font-size:6px" fill="#111">Candidate target</text><text x="335.9" y="43.3" text-anchor="middle" style="font-family:'Liberation Sans',sans-serif;font-weight:bold;font-size:6px" fill="#111">genes on Target</text><text x="335.9" y="50.7" text-anchor="middle" style="font-family:'Liberation Sans',sans-serif;font-weight:bold;font-size:6px" fill="#111">Scan Website of</text><text x="335.9" y="57.9" text-anchor="middle" style="font-family:'Liberation Sans',sans-serif;font-weight:bold;font-size:6px" fill="#111">miR-23a-3p</text><text x="333.9" y="69" text-anchor="middle" style="font-family:'Liberation Sans',sans-serif;font-weight:normal;font-size:6.5px" fill="#f6b400">556</text><text x="333.9" y="76.2" text-anchor="middle" style="font-family:'Liberation Sans',sans-serif;font-weight:normal;font-size:6.5px" fill="#f6b400">genes</text><text x="333.9" y="83.7" text-anchor="middle" style="font-family:'Liberation Sans',sans-serif;font-weight:normal;font-size:6.5px" fill="#f6b400">(21.3%)</text><text x="286.8" y="54.5" text-anchor="middle" style="font-family:'Liberation Sans',sans-serif;font-weight:bold;font-size:6px" fill="#111">34 genes</text><text x="286.8" y="61.8" text-anchor="middle" style="font-family:'Liberation Sans',sans-serif;font-weight:bold;font-size:6px" fill="#111">(1.3%)</text><text x="287.9" y="83.4" text-anchor="middle" style="font-family:'Liberation Sans',sans-serif;font-weight:bold;font-size:6px" fill="#111">7 genes</text><text x="287.9" y="90.1" text-anchor="middle" style="font-family:'Liberation Sans',sans-serif;font-weight:bold;font-size:6px" fill="#111">(0.3%)</text><text x="261.2" y="98" text-anchor="middle" style="font-family:'Liberation Sans',sans-serif;font-weight:bold;font-size:6px" fill="#111">85 genes</text><text x="261.3" y="105.3" text-anchor="middle" style="font-family:'Liberation Sans',sans-serif;font-weight:bold;font-size:6px" fill="#111">(3.3%)</text><text x="312" y="91.2" text-anchor="middle" style="font-family:'Liberation Sans',sans-serif;font-weight:bold;font-size:6px" fill="#111">151</text><text x="312" y="99" text-anchor="middle" style="font-family:'Liberation Sans',sans-serif;font-weight:bold;font-size:6px" fill="#111">genes</text><text x="312" y="106.8" text-anchor="middle" style="font-family:'Liberation Sans',sans-serif;font-weight:bold;font-size:6px" fill="#111">(5.8%)</text><text x="288.5" y="122.3" text-anchor="middle" style="font-family:'Liberation Sans',sans-serif;font-weight:bold;font-size:6px" fill="#1aaa4a">1180 genes</text><text x="288.5" y="129.5" text-anchor="middle" style="font-family:'Liberation Sans',sans-serif;font-weight:bold;font-size:6px" fill="#1aaa4a">(45.3%)</text><text x="287" y="142" text-anchor="middle" style="font-family:'Liberation Sans',sans-serif;font-weight:bold;font-size:6px" fill="#111">Candidate target</text><text x="287" y="149.1" text-anchor="middle" style="font-family:'Liberation Sans',sans-serif;font-weight:bold;font-size:6px" fill="#111">genes on Target</text><text x="287" y="156.7" text-anchor="middle" style="font-family:'Liberation Sans',sans-serif;font-weight:bold;font-size:6px" fill="#111">Scan Website of</text><text x="287" y="164.2" text-anchor="middle" style="font-family:'Liberation Sans',sans-serif;font-weight:bold;font-size:6px" fill="#111">miR-27a-3p</text><g stroke="#8a8a8a" stroke-width="1.2"><path d="M236 183.2H341M236 202.5H341M236 288.8H341"/></g><text x="241" y="195.6" style="font-family:'Liberation Sans',sans-serif;font-size:9.4px" fill="#222">Candidate gene name</text><text x="241" y="214" style="font-family:'Liberation Sans',sans-serif;font-size:9.4px" fill="#222">BMPR2</text><text x="241" y="225.4" style="font-family:'Liberation Sans',sans-serif;font-size:9.4px" fill="#222">NAA50</text><text x="241" y="236.9" style="font-family:'Liberation Sans',sans-serif;font-size:9.4px" fill="#222">PURA</text><text x="241" y="248.3" style="font-family:'Liberation Sans',sans-serif;font-size:9.4px" fill="#222">RBM12B</text><text x="241" y="259.8" style="font-family:'Liberation Sans',sans-serif;font-size:9.4px" fill="#222">RYBP</text><text x="241" y="271.2" style="font-family:'Liberation Sans',sans-serif;font-size:9.4px" fill="#222">TARDBP</text><text x="241" y="282.7" style="font-family:'Liberation Sans',sans-serif;font-size:9.4px" fill="#222">VCAN</text>
<text x="378.1" y="11.8" style="font-family:'Liberation Sans',sans-serif;font-weight:bold;font-size:16px" fill="#000">D</text><path d="M395.5 12.5V341.5" stroke="#000" stroke-width="1.4"/><text transform="translate(390.1 172.2) rotate(-90)" text-anchor="middle" style="font-family:'Liberation Sans',sans-serif;font-size:9.1px" fill="#f01c1c">Cell Cycle Regulation</text><g stroke="#ececec" stroke-width="0.5"><path d="M427.1 12.5V55.4"/><path d="M445.3 12.5V55.4"/><path d="M463.4 12.5V55.4"/><path d="M481.5 12.5V55.4"/><path d="M499.7 12.5V55.4"/><path d="M409 53.4H517.8"/><path d="M409 47.1H517.8"/><path d="M409 40.7H517.8"/><path d="M409 34.4H517.8"/><path d="M409 28H517.8"/><path d="M409 21.7H517.8"/><path d="M409 15.4H517.8"/></g><polyline points="409.2,54.5 410.0,50.3 411.4,43.6 413.4,36.9 415.1,35.2 417.6,30.1 420.1,25.1 421.8,22.6 423.5,18.4 426.0,18.1 428.5,17.6 429.9,15.9 431.0,14.7 433.5,15.0 435.2,14.9 436.9,15.4 438.6,15.4 440.3,16.2 441.9,16.7 443.6,17.1 445.3,17.6 447.0,18.5 448.7,19.2 450.3,20.0 452.0,21.0 453.7,21.8 455.4,22.6 457.0,22.8 458.7,23.8 460.4,24.4 462.1,25.9 463.8,26.6 465.4,27.6 467.1,28.9 468.8,29.4 470.5,30.7 472.2,31.8 473.8,33.0 475.5,33.7 477.2,35.3 478.9,36.0 480.5,37.3 482.2,37.8 483.9,38.8 485.6,40.2 487.3,41.3 488.9,42.6 490.6,43.3 492.3,44.4 494.0,45.2 495.7,46.3 497.3,47.0 499.0,48.3 500.7,48.8 502.4,49.6 504.1,50.3 505.7,51.0 507.4,51.6 509.1,52.2 510.8,53.0 512.4,54.0" fill="none" stroke="#2ee82e" stroke-width="1.25" stroke-linejoin="round"/><g stroke="#000" stroke-width="1" shape-rendering="crispEdges"><path d="M409.5 56.4V70.7" stroke-opacity="0.78"/><path d="M410.2 56.4V70.7" stroke-opacity="0.61"/><path d="M410.9 56.4V70.7" stroke-opacity="0.82"/><path d="M411.6 56.4V70.7" stroke-opacity="0.67"/><path d="M413 56.4V70.7" stroke-opacity="0.65"/><path d="M413.7 56.4V70.7" stroke-opacity="0.89"/><path d="M414.4 56.4V70.7" stroke-opacity="0.97"/><path d="M415.1 56.4V70.7" stroke-opacity="0.93"/><path d="M415.8 56.4V70.7" stroke-opacity="0.72"/><path d="M416.5 56.4V70.7" stroke-opacity="0.95"/><path d="M417.2 56.4V70.7" stroke-opacity="0.80"/><path d="M417.9 56.4V70.7" stroke-opacity="0.61"/><path d="M418.6 56.4V70.7" stroke-opacity="0.92"/><path d="M419.3 56.4V70.7" stroke-opacity="0.67"/><path d="M420 56.4V70.7" stroke-opacity="0.88"/><path d="M420.7 56.4V70.7" stroke-opacity="0.75"/><path d="M421.4 56.4V70.7" stroke-opacity="0.80"/><path d="M422.1 56.4V70.7" stroke-opacity="0.81"/><path d="M422.8 56.4V70.7" stroke-opacity="0.80"/><path d="M423.5 56.4V70.7" stroke-opacity="0.62"/><path d="M424.2 56.4V70.7" stroke-opacity="0.99"/><path d="M424.9 56.4V70.7" stroke-opacity="0.76"/><path d="M425.6 56.4V70.7" stroke-opacity="0.80"/><path d="M427 56.4V70.7" stroke-opacity="0.82"/><path d="M427.7 56.4V70.7" stroke-opacity="0.69"/><path d="M428.4 56.4V70.7" stroke-opacity="0.98"/><path d="M429.1 56.4V70.7" stroke-opacity="0.78"/><path d="M429.8 56.4V70.7" stroke-opacity="0.82"/><path d="M431.2 56.4V70.7" stroke-opacity="0.91"/><path d="M431.9 56.4V70.7" stroke-opacity="0.95"/><path d="M432.6 56.4V70.7" stroke-opacity="0.92"/><path d="M433.3 56.4V70.7" stroke-opacity="0.82"/><path d="M434 56.4V70.7" stroke-opacity="0.62"/><path d="M434.7 56.4V70.7" stroke-opacity="0.83"/><path d="M435.4 56.4V70.7" stroke-opacity="0.80"/><path d="M436.1 56.4V70.7" stroke-opacity="0.74"/><path d="M436.8 56.4V70.7" stroke-opacity="0.82"/><path d="M437.5 56.4V70.7" stroke-opacity="0.84"/><path d="M438.2 56.4V70.7" stroke-opacity="0.61"/><path d="M438.9 56.4V70.7" stroke-opacity="0.42"/><path d="M439.6 56.4V70.7" stroke-opacity="0.86"/><path d="M442.4 56.4V70.7" stroke-opacity="0.85"/><path d="M443.8 56.4V70.7" stroke-opacity="0.31"/><path d="M444.5 56.4V70.7" stroke-opacity="0.79"/><path d="M445.2 56.4V70.7" stroke-opacity="0.37"/><path d="M446.6 56.4V70.7" stroke-opacity="0.35"/><path d="M447.3 56.4V70.7" stroke-opacity="0.64"/><path d="M448 56.4V70.7" stroke-opacity="0.48"/><path d="M449.4 56.4V70.7" stroke-opacity="0.51"/><path d="M450.1 56.4V70.7" stroke-opacity="0.32"/><path d="M450.8 56.4V70.7" stroke-opacity="0.57"/><path d="M451.5 56.4V70.7" stroke-opacity="0.37"/><path d="M452.9 56.4V70.7" stroke-opacity="0.44"/><path d="M453.6 56.4V70.7" stroke-opacity="0.83"/><path d="M454.3 56.4V70.7" stroke-opacity="0.31"/><path d="M455 56.4V70.7" stroke-opacity="0.77"/><path d="M455.7 56.4V70.7" stroke-opacity="0.76"/><path d="M457.1 56.4V70.7" stroke-opacity="0.44"/><path d="M459.2 56.4V70.7" stroke-opacity="0.45"/><path d="M460.6 56.4V70.7" stroke-opacity="0.67"/><path d="M461.3 56.4V70.7" stroke-opacity="0.71"/><path d="M462 56.4V70.7" stroke-opacity="0.49"/><path d="M464.1 56.4V70.7" stroke-opacity="0.86"/><path d="M464.8 56.4V70.7" stroke-opacity="0.91"/><path d="M466.9 56.4V70.7" stroke-opacity="0.31"/><path d="M468.3 56.4V70.7" stroke-opacity="0.79"/><path d="M470.4 56.4V70.7" stroke-opacity="0.82"/><path d="M482.3 56.4V70.7" stroke-opacity="0.42"/><path d="M493.5 56.4V70.7" stroke-opacity="0.40"/><path d="M504.7 56.4V70.7" stroke-opacity="0.34"/><path d="M511.7 56.4V70.7" stroke-opacity="0.46"/></g><defs><linearGradient id="cb1" x1="0" x2="1"><stop offset="0" stop-color="#da383e"/><stop offset="0.27" stop-color="#ee4c54"/><stop offset="0.275" stop-color="#ee5c70"/><stop offset="0.46" stop-color="#f08890"/><stop offset="0.47" stop-color="#f8bede"/><stop offset="0.65" stop-color="#f8c4e2"/><stop offset="0.655" stop-color="#d6d6fa"/><stop offset="0.83" stop-color="#c0c0f8"/><stop offset="0.835" stop-color="#7c7cf2"/><stop offset="0.88" stop-color="#7070f0"/><stop offset="0.885" stop-color="#3c3ce8"/><stop offset="0.975" stop-color="#3030e0"/><stop offset="0.98" stop-color="#1010c4"/><stop offset="1" stop-color="#1010c4"/></linearGradient></defs><rect x="409" y="70.7" width="103.4" height="3.6" fill="url(#cb1)"/><rect x="409" y="12.5" width="108.8" height="62.1" fill="none" stroke="#333" stroke-width="0.8"/><path d="M409 55.4H517.8" stroke="#555" stroke-width="0.6"/><g style="font-family:'Liberation Sans',sans-serif;font-size:4.8px" fill="#1a1a1a" text-anchor="end"><text x="406.6" y="54.9">0.0</text><text x="406.6" y="48.6">0.1</text><text x="406.6" y="42.2">0.2</text><text x="406.6" y="35.9">0.3</text><text x="406.6" y="29.5">0.4</text><text x="406.6" y="23.2">0.5</text><text x="406.6" y="16.9">0.6</text></g><g stroke="#333" stroke-width="0.5"><path d="M407.5 53.4H409"/><path d="M407.5 47.1H409"/><path d="M407.5 40.7H409"/><path d="M407.5 34.4H409"/><path d="M407.5 28H409"/><path d="M407.5 21.7H409"/><path d="M407.5 15.4H409"/></g><g style="font-family:'Liberation Sans',sans-serif;font-size:4.7px" fill="#222"><text x="492.8" y="17.5">NES=2.607</text><text x="492.8" y="22.7">P=0.0</text><text x="492.8" y="27.9">FDR=0.0</text></g><text transform="translate(526.3 40.8) rotate(-90)" text-anchor="middle" style="font-family:'Liberation Sans',sans-serif;font-size:6.2px" fill="#000">E2F Target</text><g stroke="#ececec" stroke-width="0.5"><path d="M427.1 78.2V121.3"/><path d="M445.3 78.2V121.3"/><path d="M463.4 78.2V121.3"/><path d="M481.5 78.2V121.3"/><path d="M499.7 78.2V121.3"/><path d="M409 120.2H517.8"/><path d="M409 113.2H517.8"/><path d="M409 106.2H517.8"/><path d="M409 99.2H517.8"/><path d="M409 92.2H517.8"/><path d="M409 85.2H517.8"/><path d="M409 78.2H517.8"/></g><polyline points="409.2,120.5 410.9,109.6 412.6,101.2 414.2,100.3 415.9,96.1 418.4,91.1 420.1,87.9 421.8,84.1 423.5,83.7 425.1,82.7 426.8,81.6 428.5,81.0 430.2,79.9 431.9,79.4 433.5,79.8 435.2,79.7 436.9,80.1 438.6,80.2 440.3,80.9 441.9,81.4 443.6,82.0 445.3,82.9 447.0,83.6 448.7,84.4 450.3,85.1 452.0,85.7 453.7,86.4 455.4,87.5 457.0,88.4 458.7,89.4 460.4,90.6 462.1,91.9 463.8,92.9 465.4,93.6 467.1,94.7 468.8,95.7 470.5,96.6 472.2,97.8 473.8,98.7 475.5,99.8 477.2,101.3 478.9,102.5 480.5,103.5 482.2,104.7 483.9,106.2 485.6,107.1 487.3,107.9 488.9,108.8 490.6,109.4 492.3,110.4 494.0,110.9 495.7,112.0 497.3,112.7 499.0,113.8 500.7,114.6 502.4,115.8 504.1,116.4 505.7,117.1 507.4,117.6 509.1,118.8 510.8,119.5 512.4,120.0" fill="none" stroke="#2ee82e" stroke-width="1.25" stroke-linejoin="round"/><g stroke="#000" stroke-width="1" shape-rendering="crispEdges"><path d="M409.5 122.3V136.7" stroke-opacity="0.96"/><path d="M410.2 122.3V136.7" stroke-opacity="0.92"/><path d="M410.9 122.3V136.7" stroke-opacity="0.99"/><path d="M412.3 122.3V136.7" stroke-opacity="0.90"/><path d="M413 122.3V136.7" stroke-opacity="0.78"/><path d="M413.7 122.3V136.7" stroke-opacity="0.80"/><path d="M415.1 122.3V136.7" stroke-opacity="0.93"/><path d="M415.8 122.3V136.7" stroke-opacity="0.95"/><path d="M417.2 122.3V136.7" stroke-opacity="0.83"/><path d="M418.6 122.3V136.7" stroke-opacity="0.79"/><path d="M419.3 122.3V136.7" stroke-opacity="0.73"/><path d="M420 122.3V136.7" stroke-opacity="0.67"/><path d="M421.4 122.3V136.7" stroke-opacity="0.96"/><path d="M422.1 122.3V136.7" stroke-opacity="0.98"/><path d="M422.8 122.3V136.7" stroke-opacity="0.80"/><path d="M423.5 122.3V136.7" stroke-opacity="0.86"/><path d="M424.2 122.3V136.7" stroke-opacity="0.72"/><path d="M424.9 122.3V136.7" stroke-opacity="0.80"/><path d="M426.3 122.3V136.7" stroke-opacity="0.63"/><path d="M427 122.3V136.7" stroke-opacity="0.89"/><path d="M428.4 122.3V136.7" stroke-opacity="0.90"/><path d="M429.1 122.3V136.7" stroke-opacity="0.86"/><path d="M429.8 122.3V136.7" stroke-opacity="0.69"/><path d="M430.5 122.3V136.7" stroke-opacity="0.64"/><path d="M431.2 122.3V136.7" stroke-opacity="0.94"/><path d="M431.9 122.3V136.7" stroke-opacity="0.68"/><path d="M433.3 122.3V136.7" stroke-opacity="0.77"/><path d="M434 122.3V136.7" stroke-opacity="0.54"/><path d="M434.7 122.3V136.7" stroke-opacity="0.74"/><path d="M435.4 122.3V136.7" stroke-opacity="0.92"/><path d="M436.1 122.3V136.7" stroke-opacity="0.77"/><path d="M436.8 122.3V136.7" stroke-opacity="0.47"/><path d="M438.2 122.3V136.7" stroke-opacity="0.42"/><path d="M439.6 122.3V136.7" stroke-opacity="0.33"/><path d="M441 122.3V136.7" stroke-opacity="0.32"/><path d="M441.7 122.3V136.7" stroke-opacity="0.70"/><path d="M443.1 122.3V136.7" stroke-opacity="0.52"/><path d="M443.8 122.3V136.7" stroke-opacity="0.59"/><path d="M448.7 122.3V136.7" stroke-opacity="0.45"/><path d="M450.1 122.3V136.7" stroke-opacity="0.37"/><path d="M450.8 122.3V136.7" stroke-opacity="0.87"/><path d="M451.5 122.3V136.7" stroke-opacity="0.68"/><path d="M452.2 122.3V136.7" stroke-opacity="0.63"/><path d="M452.9 122.3V136.7" stroke-opacity="0.92"/><path d="M453.6 122.3V136.7" stroke-opacity="0.69"/><path d="M454.3 122.3V136.7" stroke-opacity="0.31"/><path d="M455 122.3V136.7" stroke-opacity="0.39"/><path d="M455.7 122.3V136.7" stroke-opacity="0.32"/><path d="M456.4 122.3V136.7" stroke-opacity="0.36"/><path d="M457.8 122.3V136.7" stroke-opacity="0.94"/><path d="M459.9 122.3V136.7" stroke-opacity="0.59"/><path d="M460.6 122.3V136.7" stroke-opacity="0.68"/><path d="M463.4 122.3V136.7" stroke-opacity="0.57"/><path d="M464.1 122.3V136.7" stroke-opacity="0.30"/><path d="M464.8 122.3V136.7" stroke-opacity="0.57"/><path d="M465.5 122.3V136.7" stroke-opacity="0.77"/><path d="M466.2 122.3V136.7" stroke-opacity="0.36"/><path d="M466.9 122.3V136.7" stroke-opacity="0.45"/><path d="M467.6 122.3V136.7" stroke-opacity="0.64"/><path d="M468.3 122.3V136.7" stroke-opacity="0.50"/><path d="M469.7 122.3V136.7" stroke-opacity="0.89"/><path d="M471.8 122.3V136.7" stroke-opacity="0.63"/><path d="M472.5 122.3V136.7" stroke-opacity="0.33"/><path d="M473.2 122.3V136.7" stroke-opacity="0.64"/><path d="M473.9 122.3V136.7" stroke-opacity="0.36"/><path d="M480.2 122.3V136.7" stroke-opacity="0.54"/><path d="M480.9 122.3V136.7" stroke-opacity="0.35"/><path d="M483 122.3V136.7" stroke-opacity="0.43"/><path d="M485.1 122.3V136.7" stroke-opacity="0.49"/><path d="M485.8 122.3V136.7" stroke-opacity="0.34"/><path d="M487.9 122.3V136.7" stroke-opacity="0.58"/><path d="M488.6 122.3V136.7" stroke-opacity="0.49"/><path d="M492.1 122.3V136.7" stroke-opacity="0.26"/><path d="M492.8 122.3V136.7" stroke-opacity="0.63"/><path d="M495.6 122.3V136.7" stroke-opacity="0.53"/><path d="M511.7 122.3V136.7" stroke-opacity="0.38"/></g><defs><linearGradient id="cb2" x1="0" x2="1"><stop offset="0" stop-color="#da383e"/><stop offset="0.27" stop-color="#ee4c54"/><stop offset="0.275" stop-color="#ee5c70"/><stop offset="0.46" stop-color="#f08890"/><stop offset="0.47" stop-color="#f8bede"/><stop offset="0.65" stop-color="#f8c4e2"/><stop offset="0.655" stop-color="#d6d6fa"/><stop offset="0.83" stop-color="#c0c0f8"/><stop offset="0.835" stop-color="#7c7cf2"/><stop offset="0.88" stop-color="#7070f0"/><stop offset="0.885" stop-color="#3c3ce8"/><stop offset="0.975" stop-color="#3030e0"/><stop offset="0.98" stop-color="#1010c4"/><stop offset="1" stop-color="#1010c4"/></linearGradient></defs><rect x="409" y="136.7" width="103.4" height="3.4" fill="url(#cb2)"/><rect x="409" y="78.2" width="108.8" height="62.2" fill="none" stroke="#333" stroke-width="0.8"/><path d="M409 121.3H517.8" stroke="#555" stroke-width="0.6"/><g style="font-family:'Liberation Sans',sans-serif;font-size:4.8px" fill="#1a1a1a" text-anchor="end"><text x="406.6" y="121.7">0.0</text><text x="406.6" y="114.7">0.1</text><text x="406.6" y="107.7">0.2</text><text x="406.6" y="100.7">0.3</text><text x="406.6" y="93.7">0.4</text><text x="406.6" y="86.7">0.5</text><text x="406.6" y="79.7">0.6</text></g><g stroke="#333" stroke-width="0.5"><path d="M407.5 120.2H409"/><path d="M407.5 113.2H409"/><path d="M407.5 106.2H409"/><path d="M407.5 99.2H409"/><path d="M407.5 92.2H409"/><path d="M407.5 85.2H409"/><path d="M407.5 78.2H409"/></g><g style="font-family:'Liberation Sans',sans-serif;font-size:4.7px" fill="#222"><text x="492.8" y="83.2">NES=2.472</text><text x="492.8" y="88.4">P=0.0</text><text x="492.8" y="93.6">FDR=0.0</text></g><text transform="translate(526.3 108.3) rotate(-90)" text-anchor="middle" style="font-family:'Liberation Sans',sans-serif;font-size:6.2px" fill="#000">G2/M Checkpoint</text><g stroke="#ececec" stroke-width="0.5"><path d="M427.1 143.4V186.8"/><path d="M445.3 143.4V186.8"/><path d="M463.4 143.4V186.8"/><path d="M481.5 143.4V186.8"/><path d="M499.7 143.4V186.8"/><path d="M409 185.3H517.8"/><path d="M409 177.9H517.8"/><path d="M409 170.5H517.8"/><path d="M409 163H517.8"/><path d="M409 155.6H517.8"/><path d="M409 148.2H517.8"/></g><polyline points="409.2,185.5 410.0,181.3 411.7,174.6 413.4,167.9 415.1,162.8 416.8,158.6 418.4,155.3 421.0,154.4 423.5,151.4 425.1,150.9 426.8,150.7 429.3,149.1 431.0,148.4 432.7,147.7 434.4,146.8 436.1,146.0 438.2,145.9 440.3,145.5 442.8,145.2 445.3,146.0 447.0,146.8 448.7,147.4 450.3,147.9 452.0,148.6 453.7,149.7 455.4,150.9 457.0,151.4 458.7,152.4 460.4,153.0 462.1,154.3 463.8,154.8 465.4,156.0 467.1,157.6 468.8,158.6 470.5,159.9 472.2,161.2 473.8,162.2 475.5,163.7 477.2,165.0 478.9,166.4 480.5,167.5 482.2,168.7 483.9,169.7 485.6,170.5 487.3,170.9 488.9,172.1 490.6,173.3 492.3,174.2 494.0,175.1 495.7,176.3 497.3,176.8 499.0,178.2 500.7,178.8 502.4,179.9 504.1,181.2 505.7,182.1 507.4,182.8 509.1,183.0 510.8,184.4 512.4,185.5" fill="none" stroke="#2ee82e" stroke-width="1.25" stroke-linejoin="round"/><g stroke="#000" stroke-width="1" shape-rendering="crispEdges"><path d="M410.2 187.8V203.2" stroke-opacity="0.90"/><path d="M410.9 187.8V203.2" stroke-opacity="0.97"/><path d="M412.3 187.8V203.2" stroke-opacity="0.57"/><path d="M413 187.8V203.2" stroke-opacity="0.98"/><path d="M413.7 187.8V203.2" stroke-opacity="0.81"/><path d="M414.4 187.8V203.2" stroke-opacity="0.75"/><path d="M415.1 187.8V203.2" stroke-opacity="0.68"/><path d="M415.8 187.8V203.2" stroke-opacity="0.79"/><path d="M417.2 187.8V203.2" stroke-opacity="0.96"/><path d="M419.3 187.8V203.2" stroke-opacity="0.58"/><path d="M422.1 187.8V203.2" stroke-opacity="0.86"/><path d="M422.8 187.8V203.2" stroke-opacity="0.92"/><path d="M423.5 187.8V203.2" stroke-opacity="0.64"/><path d="M424.2 187.8V203.2" stroke-opacity="0.93"/><path d="M425.6 187.8V203.2" stroke-opacity="0.90"/><path d="M426.3 187.8V203.2" stroke-opacity="0.58"/><path d="M427 187.8V203.2" stroke-opacity="0.88"/><path d="M428.4 187.8V203.2" stroke-opacity="0.81"/><path d="M429.1 187.8V203.2" stroke-opacity="0.86"/><path d="M429.8 187.8V203.2" stroke-opacity="0.94"/><path d="M431.2 187.8V203.2" stroke-opacity="1.00"/><path d="M431.9 187.8V203.2" stroke-opacity="0.54"/><path d="M432.6 187.8V203.2" stroke-opacity="0.52"/><path d="M433.3 187.8V203.2" stroke-opacity="0.70"/><path d="M434 187.8V203.2" stroke-opacity="0.58"/><path d="M434.7 187.8V203.2" stroke-opacity="0.93"/><path d="M435.4 187.8V203.2" stroke-opacity="0.98"/><path d="M436.8 187.8V203.2" stroke-opacity="0.73"/><path d="M437.5 187.8V203.2" stroke-opacity="0.82"/><path d="M438.2 187.8V203.2" stroke-opacity="0.78"/><path d="M438.9 187.8V203.2" stroke-opacity="0.97"/><path d="M439.6 187.8V203.2" stroke-opacity="0.72"/><path d="M440.3 187.8V203.2" stroke-opacity="0.62"/><path d="M441 187.8V203.2" stroke-opacity="0.99"/><path d="M443.1 187.8V203.2" stroke-opacity="0.55"/><path d="M444.5 187.8V203.2" stroke-opacity="0.67"/><path d="M445.9 187.8V203.2" stroke-opacity="0.68"/><path d="M446.6 187.8V203.2" stroke-opacity="0.71"/><path d="M447.3 187.8V203.2" stroke-opacity="0.72"/><path d="M448.7 187.8V203.2" stroke-opacity="0.34"/><path d="M450.8 187.8V203.2" stroke-opacity="0.57"/><path d="M452.2 187.8V203.2" stroke-opacity="0.52"/><path d="M452.9 187.8V203.2" stroke-opacity="0.52"/><path d="M454.3 187.8V203.2" stroke-opacity="0.53"/><path d="M455.7 187.8V203.2" stroke-opacity="0.64"/><path d="M457.1 187.8V203.2" stroke-opacity="0.43"/><path d="M458.5 187.8V203.2" stroke-opacity="0.41"/><path d="M459.2 187.8V203.2" stroke-opacity="0.72"/><path d="M459.9 187.8V203.2" stroke-opacity="0.49"/><path d="M460.6 187.8V203.2" stroke-opacity="0.80"/><path d="M461.3 187.8V203.2" stroke-opacity="0.81"/><path d="M462 187.8V203.2" stroke-opacity="0.50"/><path d="M464.1 187.8V203.2" stroke-opacity="0.44"/><path d="M464.8 187.8V203.2" stroke-opacity="0.62"/><path d="M465.5 187.8V203.2" stroke-opacity="0.78"/><path d="M466.9 187.8V203.2" stroke-opacity="0.47"/><path d="M469.7 187.8V203.2" stroke-opacity="0.38"/><path d="M470.4 187.8V203.2" stroke-opacity="0.78"/><path d="M471.1 187.8V203.2" stroke-opacity="0.51"/><path d="M471.8 187.8V203.2" stroke-opacity="0.55"/><path d="M472.5 187.8V203.2" stroke-opacity="0.85"/><path d="M473.2 187.8V203.2" stroke-opacity="0.30"/><path d="M476 187.8V203.2" stroke-opacity="0.87"/><path d="M477.4 187.8V203.2" stroke-opacity="0.75"/><path d="M480.2 187.8V203.2" stroke-opacity="0.50"/><path d="M480.9 187.8V203.2" stroke-opacity="0.34"/><path d="M482.3 187.8V203.2" stroke-opacity="0.79"/><path d="M483 187.8V203.2" stroke-opacity="0.84"/><path d="M487.2 187.8V203.2" stroke-opacity="0.75"/><path d="M487.9 187.8V203.2" stroke-opacity="0.48"/><path d="M490 187.8V203.2" stroke-opacity="0.86"/><path d="M497.7 187.8V203.2" stroke-opacity="0.60"/><path d="M500.5 187.8V203.2" stroke-opacity="0.51"/><path d="M501.9 187.8V203.2" stroke-opacity="0.34"/><path d="M506.1 187.8V203.2" stroke-opacity="0.23"/><path d="M506.8 187.8V203.2" stroke-opacity="0.26"/><path d="M507.5 187.8V203.2" stroke-opacity="0.69"/><path d="M508.9 187.8V203.2" stroke-opacity="0.45"/></g><defs><linearGradient id="cb3" x1="0" x2="1"><stop offset="0" stop-color="#da383e"/><stop offset="0.27" stop-color="#ee4c54"/><stop offset="0.275" stop-color="#ee5c70"/><stop offset="0.46" stop-color="#f08890"/><stop offset="0.47" stop-color="#f8bede"/><stop offset="0.65" stop-color="#f8c4e2"/><stop offset="0.655" stop-color="#d6d6fa"/><stop offset="0.83" stop-color="#c0c0f8"/><stop offset="0.835" stop-color="#7c7cf2"/><stop offset="0.88" stop-color="#7070f0"/><stop offset="0.885" stop-color="#3c3ce8"/><stop offset="0.975" stop-color="#3030e0"/><stop offset="0.98" stop-color="#1010c4"/><stop offset="1" stop-color="#1010c4"/></linearGradient></defs><rect x="409" y="203.2" width="103.4" height="3.6" fill="url(#cb3)"/><rect x="409" y="143.4" width="108.8" height="63.7" fill="none" stroke="#333" stroke-width="0.8"/><path d="M409 186.8H517.8" stroke="#555" stroke-width="0.6"/><g style="font-family:'Liberation Sans',sans-serif;font-size:4.8px" fill="#1a1a1a" text-anchor="end"><text x="406.6" y="186.8">0.0</text><text x="406.6" y="179.4">0.1</text><text x="406.6" y="172">0.2</text><text x="406.6" y="164.5">0.3</text><text x="406.6" y="157.1">0.4</text><text x="406.6" y="149.7">0.5</text></g><g stroke="#333" stroke-width="0.5"><path d="M407.5 185.3H409"/><path d="M407.5 177.9H409"/><path d="M407.5 170.5H409"/><path d="M407.5 163H409"/><path d="M407.5 155.6H409"/><path d="M407.5 148.2H409"/></g><g style="font-family:'Liberation Sans',sans-serif;font-size:4.7px" fill="#222"><text x="492.8" y="148.4">NES=2.239</text><text x="492.8" y="153.6">P=0.0</text><text x="492.8" y="158.8">FDR=0.0</text></g><text transform="translate(526.3 175.7) rotate(-90)" text-anchor="middle" style="font-family:'Liberation Sans',sans-serif;font-size:6.2px" fill="#000">MYC Target</text><g stroke="#ececec" stroke-width="0.5"><path d="M427.1 210.5V255.2"/><path d="M445.3 210.5V255.2"/><path d="M463.4 210.5V255.2"/><path d="M481.5 210.5V255.2"/><path d="M499.7 210.5V255.2"/><path d="M409 252.3H517.8"/><path d="M409 247.5H517.8"/><path d="M409 242.8H517.8"/><path d="M409 238H517.8"/><path d="M409 233.3H517.8"/><path d="M409 228.6H517.8"/><path d="M409 223.8H517.8"/><path d="M409 219.1H517.8"/><path d="M409 214.4H517.8"/></g><polyline points="409.2,247.4 411.4,250.0 413.4,244.1 415.1,239.1 417.6,234.9 420.1,229.0 421.8,226.3 423.5,223.9 426.0,220.6 428.1,218.6 430.2,217.2 432.7,214.7 435.2,213.0 436.9,213.0 438.6,213.0 440.3,212.4 441.9,212.2 443.6,212.1 445.3,212.5 447.0,212.7 448.7,213.1 450.3,213.1 452.0,213.0 453.7,214.1 455.4,214.5 457.0,215.6 458.7,216.5 460.4,217.3 462.1,218.4 463.8,219.5 465.4,220.7 467.1,222.3 468.8,223.5 470.5,225.4 472.2,226.5 473.8,228.2 475.5,229.6 477.2,231.1 478.9,232.3 480.5,233.6 482.2,235.1 483.9,236.8 485.6,238.2 487.3,239.6 488.9,241.0 490.6,242.3 492.3,243.3 494.0,244.0 495.7,245.4 497.3,246.5 499.0,247.4 501.1,249.1 503.2,250.8 505.7,250.0 507.4,250.7 509.1,252.0 510.8,253.0 512.4,250.0 513.8,246.9" fill="none" stroke="#2ee82e" stroke-width="1.25" stroke-linejoin="round"/><g stroke="#000" stroke-width="1" shape-rendering="crispEdges"><path d="M409.5 256.2V271.2" stroke-opacity="0.36"/><path d="M411.6 256.2V271.2" stroke-opacity="0.50"/><path d="M413 256.2V271.2" stroke-opacity="0.87"/><path d="M414.4 256.2V271.2" stroke-opacity="0.57"/><path d="M415.1 256.2V271.2" stroke-opacity="0.58"/><path d="M415.8 256.2V271.2" stroke-opacity="0.50"/><path d="M417.2 256.2V271.2" stroke-opacity="0.33"/><path d="M417.9 256.2V271.2" stroke-opacity="0.48"/><path d="M418.6 256.2V271.2" stroke-opacity="0.61"/><path d="M419.3 256.2V271.2" stroke-opacity="0.95"/><path d="M420 256.2V271.2" stroke-opacity="0.57"/><path d="M420.7 256.2V271.2" stroke-opacity="0.71"/><path d="M421.4 256.2V271.2" stroke-opacity="0.53"/><path d="M422.8 256.2V271.2" stroke-opacity="0.66"/><path d="M424.2 256.2V271.2" stroke-opacity="0.34"/><path d="M424.9 256.2V271.2" stroke-opacity="0.80"/><path d="M425.6 256.2V271.2" stroke-opacity="0.45"/><path d="M426.3 256.2V271.2" stroke-opacity="0.42"/><path d="M427 256.2V271.2" stroke-opacity="0.33"/><path d="M427.7 256.2V271.2" stroke-opacity="0.88"/><path d="M430.5 256.2V271.2" stroke-opacity="0.49"/><path d="M432.6 256.2V271.2" stroke-opacity="0.91"/><path d="M433.3 256.2V271.2" stroke-opacity="0.83"/><path d="M434 256.2V271.2" stroke-opacity="0.42"/><path d="M434.7 256.2V271.2" stroke-opacity="0.39"/><path d="M435.4 256.2V271.2" stroke-opacity="0.93"/><path d="M436.1 256.2V271.2" stroke-opacity="0.31"/><path d="M436.8 256.2V271.2" stroke-opacity="0.41"/><path d="M438.2 256.2V271.2" stroke-opacity="0.49"/><path d="M438.9 256.2V271.2" stroke-opacity="0.94"/><path d="M439.6 256.2V271.2" stroke-opacity="0.44"/><path d="M440.3 256.2V271.2" stroke-opacity="0.34"/><path d="M441 256.2V271.2" stroke-opacity="0.74"/><path d="M441.7 256.2V271.2" stroke-opacity="0.33"/><path d="M442.4 256.2V271.2" stroke-opacity="0.46"/><path d="M443.8 256.2V271.2" stroke-opacity="0.64"/><path d="M445.2 256.2V271.2" stroke-opacity="0.94"/><path d="M445.9 256.2V271.2" stroke-opacity="0.46"/><path d="M446.6 256.2V271.2" stroke-opacity="0.32"/><path d="M447.3 256.2V271.2" stroke-opacity="0.46"/><path d="M449.4 256.2V271.2" stroke-opacity="0.32"/><path d="M450.1 256.2V271.2" stroke-opacity="0.46"/><path d="M450.8 256.2V271.2" stroke-opacity="0.45"/><path d="M452.2 256.2V271.2" stroke-opacity="0.33"/><path d="M453.6 256.2V271.2" stroke-opacity="0.94"/><path d="M454.3 256.2V271.2" stroke-opacity="0.89"/><path d="M455 256.2V271.2" stroke-opacity="0.81"/><path d="M456.4 256.2V271.2" stroke-opacity="0.36"/><path d="M457.1 256.2V271.2" stroke-opacity="0.87"/><path d="M459.2 256.2V271.2" stroke-opacity="0.73"/><path d="M460.6 256.2V271.2" stroke-opacity="0.83"/><path d="M463.4 256.2V271.2" stroke-opacity="0.80"/><path d="M464.8 256.2V271.2" stroke-opacity="0.83"/><path d="M466.9 256.2V271.2" stroke-opacity="0.78"/><path d="M467.6 256.2V271.2" stroke-opacity="0.83"/><path d="M469 256.2V271.2" stroke-opacity="0.31"/><path d="M472.5 256.2V271.2" stroke-opacity="0.20"/><path d="M473.9 256.2V271.2" stroke-opacity="0.77"/><path d="M474.6 256.2V271.2" stroke-opacity="0.73"/><path d="M478.1 256.2V271.2" stroke-opacity="0.64"/><path d="M478.8 256.2V271.2" stroke-opacity="0.78"/><path d="M481.6 256.2V271.2" stroke-opacity="0.22"/><path d="M485.1 256.2V271.2" stroke-opacity="0.44"/><path d="M487.2 256.2V271.2" stroke-opacity="0.74"/><path d="M488.6 256.2V271.2" stroke-opacity="0.55"/><path d="M489.3 256.2V271.2" stroke-opacity="0.71"/><path d="M490 256.2V271.2" stroke-opacity="0.35"/><path d="M492.1 256.2V271.2" stroke-opacity="0.27"/><path d="M497 256.2V271.2" stroke-opacity="0.77"/><path d="M497.7 256.2V271.2" stroke-opacity="0.40"/><path d="M500.5 256.2V271.2" stroke-opacity="0.77"/><path d="M501.2 256.2V271.2" stroke-opacity="0.30"/><path d="M502.6 256.2V271.2" stroke-opacity="0.55"/><path d="M504.7 256.2V271.2" stroke-opacity="0.40"/><path d="M508.2 256.2V271.2" stroke-opacity="0.36"/><path d="M509.6 256.2V271.2" stroke-opacity="0.70"/></g><defs><linearGradient id="cb4" x1="0" x2="1"><stop offset="0" stop-color="#da383e"/><stop offset="0.27" stop-color="#ee4c54"/><stop offset="0.275" stop-color="#ee5c70"/><stop offset="0.46" stop-color="#f08890"/><stop offset="0.47" stop-color="#f8bede"/><stop offset="0.65" stop-color="#f8c4e2"/><stop offset="0.655" stop-color="#d6d6fa"/><stop offset="0.83" stop-color="#c0c0f8"/><stop offset="0.835" stop-color="#7c7cf2"/><stop offset="0.88" stop-color="#7070f0"/><stop offset="0.885" stop-color="#3c3ce8"/><stop offset="0.975" stop-color="#3030e0"/><stop offset="0.98" stop-color="#1010c4"/><stop offset="1" stop-color="#1010c4"/></linearGradient></defs><rect x="409" y="271.2" width="103.4" height="3.4" fill="url(#cb4)"/><rect x="409" y="210.5" width="108.8" height="64.4" fill="none" stroke="#333" stroke-width="0.8"/><path d="M409 255.2H517.8" stroke="#555" stroke-width="0.6"/><g style="font-family:'Liberation Sans',sans-serif;font-size:4.0px" fill="#1a1a1a" text-anchor="end"><text x="406.6" y="253.8">-0.05</text><text x="406.6" y="249">0.00</text><text x="406.6" y="244.3">0.05</text><text x="406.6" y="239.5">0.10</text><text x="406.6" y="234.8">0.15</text><text x="406.6" y="230.1">0.20</text><text x="406.6" y="225.3">0.25</text><text x="406.6" y="220.6">0.30</text><text x="406.6" y="215.9">0.35</text></g><g stroke="#333" stroke-width="0.5"><path d="M407.5 252.3H409"/><path d="M407.5 247.5H409"/><path d="M407.5 242.8H409"/><path d="M407.5 238H409"/><path d="M407.5 233.3H409"/><path d="M407.5 228.6H409"/><path d="M407.5 223.8H409"/><path d="M407.5 219.1H409"/><path d="M407.5 214.4H409"/></g><g style="font-family:'Liberation Sans',sans-serif;font-size:4.7px" fill="#222"><text x="492.8" y="215.5">NES=1.625</text><text x="492.8" y="220.7">P=0.0</text><text x="492.8" y="225.9">FDR=0.011</text></g><text transform="translate(526.3 242.8) rotate(-90)" text-anchor="middle" style="font-family:'Liberation Sans',sans-serif;font-size:6.2px" fill="#000">Mitotic Spindle</text><g stroke="#ececec" stroke-width="0.5"><path d="M427.1 277.3V320"/><path d="M445.3 277.3V320"/><path d="M463.4 277.3V320"/><path d="M481.5 277.3V320"/><path d="M499.7 277.3V320"/><path d="M409 318.3H517.8"/><path d="M409 313.3H517.8"/><path d="M409 308.4H517.8"/><path d="M409 303.4H517.8"/><path d="M409 298.4H517.8"/><path d="M409 293.4H517.8"/><path d="M409 288.5H517.8"/><path d="M409 283.5H517.8"/><path d="M409 278.5H517.8"/></g><polyline points="409.2,317.0 410.9,312.8 413.4,308.6 415.1,305.7 416.8,302.7 418.4,299.9 420.1,296.8 421.8,296.6 423.5,296.0 425.1,290.1 426.8,288.7 428.5,286.8 430.2,286.1 431.9,285.1 433.5,284.1 435.2,282.6 436.9,281.8 438.6,281.7 440.3,281.4 441.9,280.6 443.6,279.2 445.3,278.7 447.0,279.0 448.7,279.2 450.3,279.5 452.0,278.9 453.7,279.2 455.4,279.2 457.0,279.9 458.7,280.9 460.4,282.4 462.1,283.9 463.8,284.9 465.4,286.8 467.1,288.0 468.8,289.5 470.5,291.4 472.2,292.6 473.8,294.5 475.5,295.7 477.2,297.9 478.9,299.3 480.5,300.3 482.2,301.9 483.9,302.9 485.6,304.4 487.3,305.5 488.9,307.6 490.6,308.6 492.3,310.3 494.0,310.5 495.7,311.1 497.3,312.3 499.0,313.0 500.7,313.5 502.4,314.4 504.1,316.0 505.7,317.0 508.2,319.0 509.9,318.3 511.1,317.3" fill="none" stroke="#2ee82e" stroke-width="1.25" stroke-linejoin="round"/><g stroke="#000" stroke-width="1" shape-rendering="crispEdges"><path d="M409.5 321V336.8" stroke-opacity="0.71"/><path d="M410.2 321V336.8" stroke-opacity="0.86"/><path d="M413 321V336.8" stroke-opacity="0.52"/><path d="M413.7 321V336.8" stroke-opacity="0.39"/><path d="M414.4 321V336.8" stroke-opacity="0.48"/><path d="M415.1 321V336.8" stroke-opacity="0.30"/><path d="M416.5 321V336.8" stroke-opacity="0.49"/><path d="M417.9 321V336.8" stroke-opacity="0.49"/><path d="M418.6 321V336.8" stroke-opacity="0.72"/><path d="M419.3 321V336.8" stroke-opacity="0.89"/><path d="M420 321V336.8" stroke-opacity="0.75"/><path d="M421.4 321V336.8" stroke-opacity="0.77"/><path d="M422.1 321V336.8" stroke-opacity="0.65"/><path d="M422.8 321V336.8" stroke-opacity="0.33"/><path d="M423.5 321V336.8" stroke-opacity="0.87"/><path d="M424.2 321V336.8" stroke-opacity="0.75"/><path d="M426.3 321V336.8" stroke-opacity="0.51"/><path d="M427 321V336.8" stroke-opacity="0.77"/><path d="M427.7 321V336.8" stroke-opacity="0.75"/><path d="M429.8 321V336.8" stroke-opacity="0.87"/><path d="M430.5 321V336.8" stroke-opacity="0.50"/><path d="M431.2 321V336.8" stroke-opacity="0.85"/><path d="M431.9 321V336.8" stroke-opacity="0.85"/><path d="M432.6 321V336.8" stroke-opacity="0.49"/><path d="M433.3 321V336.8" stroke-opacity="0.41"/><path d="M434 321V336.8" stroke-opacity="0.39"/><path d="M436.1 321V336.8" stroke-opacity="0.33"/><path d="M437.5 321V336.8" stroke-opacity="0.54"/><path d="M438.2 321V336.8" stroke-opacity="0.66"/><path d="M439.6 321V336.8" stroke-opacity="0.55"/><path d="M440.3 321V336.8" stroke-opacity="0.85"/><path d="M441 321V336.8" stroke-opacity="0.60"/><path d="M442.4 321V336.8" stroke-opacity="0.74"/><path d="M443.8 321V336.8" stroke-opacity="0.77"/><path d="M444.5 321V336.8" stroke-opacity="0.56"/><path d="M445.2 321V336.8" stroke-opacity="0.81"/><path d="M445.9 321V336.8" stroke-opacity="0.57"/><path d="M448.7 321V336.8" stroke-opacity="0.59"/><path d="M450.1 321V336.8" stroke-opacity="0.47"/><path d="M450.8 321V336.8" stroke-opacity="0.39"/><path d="M451.5 321V336.8" stroke-opacity="0.89"/><path d="M452.9 321V336.8" stroke-opacity="0.60"/><path d="M453.6 321V336.8" stroke-opacity="0.35"/><path d="M454.3 321V336.8" stroke-opacity="0.77"/><path d="M455.7 321V336.8" stroke-opacity="0.77"/><path d="M459.2 321V336.8" stroke-opacity="0.72"/><path d="M459.9 321V336.8" stroke-opacity="0.59"/><path d="M462 321V336.8" stroke-opacity="0.77"/><path d="M464.1 321V336.8" stroke-opacity="0.53"/><path d="M464.8 321V336.8" stroke-opacity="0.60"/><path d="M468.3 321V336.8" stroke-opacity="0.59"/><path d="M470.4 321V336.8" stroke-opacity="0.71"/><path d="M475.3 321V336.8" stroke-opacity="0.70"/><path d="M479.5 321V336.8" stroke-opacity="0.67"/><path d="M485.1 321V336.8" stroke-opacity="0.30"/><path d="M487.2 321V336.8" stroke-opacity="0.61"/><path d="M488.6 321V336.8" stroke-opacity="0.48"/><path d="M489.3 321V336.8" stroke-opacity="0.23"/><path d="M490 321V336.8" stroke-opacity="0.39"/><path d="M490.7 321V336.8" stroke-opacity="0.32"/><path d="M491.4 321V336.8" stroke-opacity="0.48"/><path d="M492.1 321V336.8" stroke-opacity="0.57"/><path d="M493.5 321V336.8" stroke-opacity="0.74"/><path d="M494.2 321V336.8" stroke-opacity="0.44"/><path d="M494.9 321V336.8" stroke-opacity="0.45"/><path d="M495.6 321V336.8" stroke-opacity="0.70"/><path d="M496.3 321V336.8" stroke-opacity="0.22"/><path d="M497.7 321V336.8" stroke-opacity="0.53"/><path d="M498.4 321V336.8" stroke-opacity="0.55"/><path d="M502.6 321V336.8" stroke-opacity="0.29"/><path d="M506.8 321V336.8" stroke-opacity="0.74"/><path d="M507.5 321V336.8" stroke-opacity="0.26"/><path d="M509.6 321V336.8" stroke-opacity="0.58"/><path d="M511 321V336.8" stroke-opacity="0.46"/><path d="M511.7 321V336.8" stroke-opacity="0.37"/></g><defs><linearGradient id="cb5" x1="0" x2="1"><stop offset="0" stop-color="#da383e"/><stop offset="0.27" stop-color="#ee4c54"/><stop offset="0.275" stop-color="#ee5c70"/><stop offset="0.46" stop-color="#f08890"/><stop offset="0.47" stop-color="#f8bede"/><stop offset="0.65" stop-color="#f8c4e2"/><stop offset="0.655" stop-color="#d6d6fa"/><stop offset="0.83" stop-color="#c0c0f8"/><stop offset="0.835" stop-color="#7c7cf2"/><stop offset="0.88" stop-color="#7070f0"/><stop offset="0.885" stop-color="#3c3ce8"/><stop offset="0.975" stop-color="#3030e0"/><stop offset="0.98" stop-color="#1010c4"/><stop offset="1" stop-color="#1010c4"/></linearGradient></defs><rect x="409" y="336.8" width="103.4" height="3.9" fill="url(#cb5)"/><rect x="409" y="277.3" width="108.8" height="63.7" fill="none" stroke="#333" stroke-width="0.8"/><path d="M409 320H517.8" stroke="#555" stroke-width="0.6"/><g style="font-family:'Liberation Sans',sans-serif;font-size:4.0px" fill="#1a1a1a" text-anchor="end"><text x="406.6" y="319.8">0.00</text><text x="406.6" y="314.8">0.05</text><text x="406.6" y="309.9">0.10</text><text x="406.6" y="304.9">0.15</text><text x="406.6" y="299.9">0.20</text><text x="406.6" y="294.9">0.25</text><text x="406.6" y="290">0.30</text><text x="406.6" y="285">0.35</text><text x="406.6" y="280">0.40</text></g><g stroke="#333" stroke-width="0.5"><path d="M407.5 318.3H409"/><path d="M407.5 313.3H409"/><path d="M407.5 308.4H409"/><path d="M407.5 303.4H409"/><path d="M407.5 298.4H409"/><path d="M407.5 293.4H409"/><path d="M407.5 288.5H409"/><path d="M407.5 283.5H409"/><path d="M407.5 278.5H409"/></g><g style="font-family:'Liberation Sans',sans-serif;font-size:4.7px" fill="#222"><text x="492.8" y="282.3">NES=1.611</text><text x="492.8" y="287.5">P=0.001</text><text x="492.8" y="292.7">FDR=0.006</text></g><text transform="translate(526.3 308.4) rotate(-90)" text-anchor="middle" style="font-family:'Liberation Sans',sans-serif;font-size:6.2px" fill="#000">DNA Repair</text>
<text transform="translate(537.2 11.9) scale(0.8 1)" style="font-family:'Liberation Sans',sans-serif;font-weight:bold;font-size:16px" fill="#000">E</text><defs><linearGradient id="hg11" x1="0" y1="0" x2="0" y2="1"><stop offset="0" stop-color="#ee1010"/><stop offset="0.25" stop-color="#f27070"/><stop offset="0.5" stop-color="#ffffff"/><stop offset="0.7" stop-color="#8c8cf4"/><stop offset="1" stop-color="#0c0cf0"/></linearGradient></defs><rect x="550.8" y="28.5" width="2.8" height="43.5" fill="url(#hg11)"/><g style="font-family:'Liberation Sans',sans-serif;font-size:3.6px" fill="#444" text-anchor="end"><text x="549.2" y="43.4">100</text><text x="549.2" y="58.5">50</text></g><g shape-rendering="crispEdges"><rect x="555.9" y="28.5" width="3.3" height="14.7" fill="#dcdcfa"/><rect x="555.9" y="43" width="3.3" height="14.7" fill="#dcdcfa"/><rect x="555.9" y="57.5" width="3.3" height="14.7" fill="#6a70f2"/><rect x="559" y="28.5" width="6.2" height="14.7" fill="#1c1cf0"/><rect x="559" y="43" width="6.2" height="14.7" fill="#1c1cf0"/><rect x="559" y="57.5" width="6.2" height="14.7" fill="#1c1cf0"/><rect x="565" y="28.5" width="3.1" height="14.7" fill="#ee2020"/><rect x="565" y="43" width="3.1" height="14.7" fill="#ee2020"/><rect x="565" y="57.5" width="3.1" height="14.7" fill="#f8c4c0"/><rect x="568" y="28.5" width="6" height="14.7" fill="#1c1cf0"/><rect x="568" y="43" width="6" height="14.7" fill="#1c1cf0"/><rect x="568" y="57.5" width="6" height="14.7" fill="#1c1cf0"/><rect x="573.9" y="28.5" width="3" height="14.7" fill="#a4a8f6"/><rect x="573.9" y="43" width="3" height="14.7" fill="#a4a8f6"/><rect x="573.9" y="57.5" width="3" height="14.7" fill="#6a70f2"/><rect x="576.7" y="28.5" width="3.2" height="14.7" fill="#ffffff"/><rect x="576.7" y="43" width="3.2" height="14.7" fill="#fbe6e0"/><rect x="576.7" y="57.5" width="3.2" height="14.7" fill="#a4a8f6"/><rect x="579.8" y="28.5" width="1.3" height="14.7" fill="#1c1cf0"/><rect x="579.8" y="43" width="1.3" height="14.7" fill="#1c1cf0"/><rect x="579.8" y="57.5" width="1.3" height="14.7" fill="#1c1cf0"/><rect x="580.9" y="28.5" width="3" height="14.7" fill="#1c1cf0"/><rect x="580.9" y="43" width="3" height="14.7" fill="#1c1cf0"/><rect x="580.9" y="57.5" width="3" height="14.7" fill="#ffffff"/><rect x="583.7" y="28.5" width="2.8" height="14.7" fill="#f29090"/><rect x="583.7" y="43" width="2.8" height="14.7" fill="#ee2020"/><rect x="583.7" y="57.5" width="2.8" height="14.7" fill="#ffffff"/><rect x="586.4" y="28.5" width="3.3" height="14.7" fill="#1c1cf0"/><rect x="586.4" y="43" width="3.3" height="14.7" fill="#1c1cf0"/><rect x="586.4" y="57.5" width="3.3" height="14.7" fill="#ffffff"/><rect x="589.5" y="28.5" width="3.6" height="14.7" fill="#1c1cf0"/><rect x="589.5" y="43" width="3.6" height="14.7" fill="#1c1cf0"/><rect x="589.5" y="57.5" width="3.6" height="14.7" fill="#1c1cf0"/><rect x="593" y="28.5" width="5.8" height="14.7" fill="#a4a8f6"/><rect x="593" y="43" width="5.8" height="14.7" fill="#a4a8f6"/><rect x="593" y="57.5" width="5.8" height="14.7" fill="#6a70f2"/><rect x="598.6" y="28.5" width="12.3" height="14.7" fill="#1c1cf0"/><rect x="598.6" y="43" width="12.3" height="14.7" fill="#1c1cf0"/><rect x="598.6" y="57.5" width="12.3" height="14.7" fill="#4a50f2"/><rect x="610.8" y="28.5" width="3.4" height="14.7" fill="#4a50f2"/><rect x="610.8" y="43" width="3.4" height="14.7" fill="#4a50f2"/><rect x="610.8" y="57.5" width="3.4" height="14.7" fill="#4a50f2"/><rect x="614" y="28.5" width="16.1" height="14.7" fill="#1c1cf0"/><rect x="614" y="43" width="16.1" height="14.7" fill="#1c1cf0"/><rect x="614" y="57.5" width="16.1" height="14.7" fill="#1c1cf0"/><rect x="630" y="28.5" width="2.9" height="14.7" fill="#dcdcfa"/><rect x="630" y="43" width="2.9" height="14.7" fill="#dcdcfa"/><rect x="630" y="57.5" width="2.9" height="14.7" fill="#6a70f2"/><rect x="632.7" y="28.5" width="6.3" height="14.7" fill="#6a70f2"/><rect x="632.7" y="43" width="6.3" height="14.7" fill="#a4a8f6"/><rect x="632.7" y="57.5" width="6.3" height="14.7" fill="#6a70f2"/><rect x="638.9" y="28.5" width="2.8" height="14.7" fill="#f8c4c0"/><rect x="638.9" y="43" width="2.8" height="14.7" fill="#dcdcfa"/><rect x="638.9" y="57.5" width="2.8" height="14.7" fill="#a4a8f6"/><rect x="641.5" y="28.5" width="6.3" height="14.7" fill="#1c1cf0"/><rect x="641.5" y="43" width="6.3" height="14.7" fill="#1c1cf0"/><rect x="641.5" y="57.5" width="6.3" height="14.7" fill="#1c1cf0"/></g><text x="650.5" y="38.6" style="font-family:'Liberation Sans',sans-serif;font-size:6px" fill="#111">HepG2 (Scr)</text><text x="650.5" y="54" style="font-family:'Liberation Sans',sans-serif;font-size:6px" fill="#111">miR-23a KO</text><text x="650.5" y="68.6" style="font-family:'Liberation Sans',sans-serif;font-size:6px" fill="#111">miR-27a KO</text><g stroke="#8c8c8c" stroke-width="1.25" fill="none"><path d="M557.3 27.2v-10.5" stroke-dasharray="2.0 0.5 1.3 0.6 1.3 0.5"/><path d="M560.2 27.2v-10.5" stroke-dasharray="1.9 0.3 1.2 0.3 2.2 0.4"/><path d="M563.1 27.2v-7.5" stroke-dasharray="1.4 0.4 1.7 0.5 1.9 0.5"/><path d="M565.9 27.2v-10.5" stroke-dasharray="1.1 0.4 0.8 0.4 1.7 0.5"/><path d="M568.8 27.2v-11" stroke-dasharray="1.2 0.3 0.9 0.5 1.6 0.4"/><path d="M571.7 27.2v-11" stroke-dasharray="1.2 0.5 1.4 0.3 1.8 0.3"/><path d="M574.5 27.2v-7.5" stroke-dasharray="1.3 0.6 1.8 0.3 1.3 0.5"/><path d="M577.4 27.2v-10.5" stroke-dasharray="1.8 0.4 1.5 0.4 2.0 0.4"/><path d="M580.3 27.2v-9.5" stroke-dasharray="2.1 0.5 0.9 0.4 1.2 0.3"/><path d="M583.1 27.2v-8" stroke-dasharray="1.8 0.4 1.4 0.6 2.2 0.4"/><path d="M586 27.2v-10.5" stroke-dasharray="1.4 0.4 1.1 0.6 2.2 0.4"/><path d="M588.9 27.2v-7.5" stroke-dasharray="1.4 0.6 1.6 0.3 2.5 0.3"/><path d="M591.7 27.2v-12.5" stroke-dasharray="1.7 0.5 1.3 0.3 1.3 0.4"/><path d="M594.6 27.2v-7.5" stroke-dasharray="1.3 0.4 2.0 0.4 1.9 0.5"/><path d="M597.5 27.2v-8.5" stroke-dasharray="1.2 0.4 1.5 0.5 1.2 0.4"/><path d="M600.3 27.2v-11" stroke-dasharray="2.1 0.6 1.5 0.4 1.2 0.3"/><path d="M603.2 27.2v-9.5" stroke-dasharray="1.8 0.4 1.8 0.5 1.4 0.3"/><path d="M606 27.2v-9" stroke-dasharray="1.0 0.4 1.6 0.5 1.1 0.3"/><path d="M608.9 27.2v-8.5" stroke-dasharray="0.9 0.4 1.1 0.3 1.4 0.4"/><path d="M611.8 27.2v-11.5" stroke-dasharray="1.0 0.4 1.2 0.5 1.8 0.5"/><path d="M614.6 27.2v-14" stroke-dasharray="0.8 0.6 1.6 0.6 1.0 0.4"/><path d="M617.5 27.2v-13.5" stroke-dasharray="1.2 0.3 0.9 0.4 1.6 0.3"/><path d="M620.4 27.2v-9" stroke-dasharray="1.0 0.6 1.2 0.3 1.7 0.3"/><path d="M623.2 27.2v-8" stroke-dasharray="1.9 0.6 1.5 0.5 1.6 0.4"/><path d="M626.1 27.2v-14" stroke-dasharray="0.9 0.3 1.1 0.4 1.5 0.5"/><path d="M629 27.2v-9" stroke-dasharray="1.4 0.6 0.9 0.5 1.0 0.4"/><path d="M631.8 27.2v-13.5" stroke-dasharray="2.1 0.3 1.7 0.5 1.7 0.5"/><path d="M634.7 27.2v-9.5" stroke-dasharray="1.7 0.4 1.0 0.6 2.0 0.4"/><path d="M637.6 27.2v-8.5" stroke-dasharray="1.7 0.4 1.3 0.5 2.4 0.5"/><path d="M640.4 27.2v-10.5" stroke-dasharray="2.1 0.4 1.0 0.4 2.3 0.3"/><path d="M643.3 27.2v-7.5" stroke-dasharray="1.2 0.4 1.3 0.4 1.3 0.4"/><path d="M646.2 27.2v-9" stroke-dasharray="1.7 0.5 1.8 0.5 1.5 0.5"/></g><defs><linearGradient id="hg12" x1="0" y1="0" x2="0" y2="1"><stop offset="0" stop-color="#ee1010"/><stop offset="0.25" stop-color="#f27070"/><stop offset="0.5" stop-color="#ffffff"/><stop offset="0.7" stop-color="#8c8cf4"/><stop offset="1" stop-color="#0c0cf0"/></linearGradient></defs><rect x="551.2" y="93.7" width="2.8" height="45.1" fill="url(#hg12)"/><g style="font-family:'Liberation Sans',sans-serif;font-size:3.6px" fill="#444" text-anchor="end"><text x="549.6" y="100.9">200</text><text x="549.6" y="110.5">150</text><text x="549.6" y="120.7">100</text><text x="549.6" y="130.7">50</text></g><g shape-rendering="crispEdges"><rect x="559.7" y="93.7" width="2.1" height="15.2" fill="#4a50f2"/><rect x="559.7" y="108.7" width="2.1" height="15.2" fill="#4a50f2"/><rect x="559.7" y="123.8" width="2.1" height="15.2" fill="#4a50f2"/><rect x="561.7" y="93.7" width="6.8" height="15.2" fill="#1c1cf0"/><rect x="561.7" y="108.7" width="6.8" height="15.2" fill="#1c1cf0"/><rect x="561.7" y="123.8" width="6.8" height="15.2" fill="#1c1cf0"/><rect x="568.4" y="93.7" width="3.5" height="15.2" fill="#4a50f2"/><rect x="568.4" y="108.7" width="3.5" height="15.2" fill="#6a70f2"/><rect x="568.4" y="123.8" width="3.5" height="15.2" fill="#4a50f2"/><rect x="571.8" y="93.7" width="3.1" height="15.2" fill="#1c1cf0"/><rect x="571.8" y="108.7" width="3.1" height="15.2" fill="#1c1cf0"/><rect x="571.8" y="123.8" width="3.1" height="15.2" fill="#1c1cf0"/><rect x="574.8" y="93.7" width="3" height="15.2" fill="#a4a8f6"/><rect x="574.8" y="108.7" width="3" height="15.2" fill="#ffffff"/><rect x="574.8" y="123.8" width="3" height="15.2" fill="#a4a8f6"/><rect x="577.6" y="93.7" width="3.5" height="15.2" fill="#1c1cf0"/><rect x="577.6" y="108.7" width="3.5" height="15.2" fill="#1c1cf0"/><rect x="577.6" y="123.8" width="3.5" height="15.2" fill="#ffffff"/><rect x="581" y="93.7" width="5.9" height="15.2" fill="#6a70f2"/><rect x="581" y="108.7" width="5.9" height="15.2" fill="#6a70f2"/><rect x="581" y="123.8" width="5.9" height="15.2" fill="#4a50f2"/><rect x="586.8" y="93.7" width="9.4" height="15.2" fill="#1c1cf0"/><rect x="586.8" y="108.7" width="9.4" height="15.2" fill="#1c1cf0"/><rect x="586.8" y="123.8" width="9.4" height="15.2" fill="#1c1cf0"/><rect x="596" y="93.7" width="5.9" height="15.2" fill="#1c1cf0"/><rect x="596" y="108.7" width="5.9" height="15.2" fill="#1c1cf0"/><rect x="596" y="123.8" width="5.9" height="15.2" fill="#4a50f2"/><rect x="601.8" y="93.7" width="3.3" height="15.2" fill="#ee2020"/><rect x="601.8" y="108.7" width="3.3" height="15.2" fill="#ee2020"/><rect x="601.8" y="123.8" width="3.3" height="15.2" fill="#ffffff"/><rect x="604.9" y="93.7" width="12.2" height="15.2" fill="#1c1cf0"/><rect x="604.9" y="108.7" width="12.2" height="15.2" fill="#1c1cf0"/><rect x="604.9" y="123.8" width="12.2" height="15.2" fill="#1c1cf0"/><rect x="616.9" y="93.7" width="3.5" height="15.2" fill="#4a50f2"/><rect x="616.9" y="108.7" width="3.5" height="15.2" fill="#6a70f2"/><rect x="616.9" y="123.8" width="3.5" height="15.2" fill="#4a50f2"/><rect x="620.2" y="93.7" width="6" height="15.2" fill="#1c1cf0"/><rect x="620.2" y="108.7" width="6" height="15.2" fill="#1c1cf0"/><rect x="620.2" y="123.8" width="6" height="15.2" fill="#1c1cf0"/><rect x="626.1" y="93.7" width="3.4" height="15.2" fill="#4a50f2"/><rect x="626.1" y="108.7" width="3.4" height="15.2" fill="#4a50f2"/><rect x="626.1" y="123.8" width="3.4" height="15.2" fill="#4a50f2"/><rect x="629.4" y="93.7" width="2.8" height="15.2" fill="#1c1cf0"/><rect x="629.4" y="108.7" width="2.8" height="15.2" fill="#1c1cf0"/><rect x="629.4" y="123.8" width="2.8" height="15.2" fill="#1c1cf0"/><rect x="632" y="93.7" width="3.4" height="15.2" fill="#4a50f2"/><rect x="632" y="108.7" width="3.4" height="15.2" fill="#6a70f2"/><rect x="632" y="123.8" width="3.4" height="15.2" fill="#4a50f2"/><rect x="635.3" y="93.7" width="10.2" height="15.2" fill="#1c1cf0"/><rect x="635.3" y="108.7" width="10.2" height="15.2" fill="#1c1cf0"/><rect x="635.3" y="123.8" width="10.2" height="15.2" fill="#1c1cf0"/><rect x="645.3" y="93.7" width="2.3" height="15.2" fill="#4a50f2"/><rect x="645.3" y="108.7" width="2.3" height="15.2" fill="#4a50f2"/><rect x="645.3" y="123.8" width="2.3" height="15.2" fill="#4a50f2"/></g><text x="650.5" y="103.8" style="font-family:'Liberation Sans',sans-serif;font-size:6px" fill="#111">HepG2 (Scr)</text><text x="650.5" y="118.9" style="font-family:'Liberation Sans',sans-serif;font-size:6px" fill="#111">miR-23a KO</text><text x="650.5" y="133.8" style="font-family:'Liberation Sans',sans-serif;font-size:6px" fill="#111">miR-27a KO</text><g stroke="#8c8c8c" stroke-width="1.25" fill="none"><path d="M561.2 92.4v-10.5" stroke-dasharray="1.5 0.4 1.3 0.6 1.7 0.4"/><path d="M564.1 92.4v-10.5" stroke-dasharray="1.6 0.5 1.6 0.3 1.7 0.3"/><path d="M567 92.4v-11.5" stroke-dasharray="1.9 0.3 1.6 0.4 1.6 0.5"/><path d="M569.9 92.4v-7.5" stroke-dasharray="1.9 0.5 1.1 0.6 1.6 0.4"/><path d="M572.9 92.4v-9" stroke-dasharray="1.0 0.4 1.5 0.3 2.0 0.3"/><path d="M575.8 92.4v-8.5" stroke-dasharray="0.9 0.5 1.6 0.4 1.9 0.4"/><path d="M578.7 92.4v-9" stroke-dasharray="2.2 0.6 1.6 0.4 1.5 0.4"/><path d="M581.6 92.4v-9" stroke-dasharray="1.2 0.4 1.2 0.5 2.1 0.3"/><path d="M584.5 92.4v-10.5" stroke-dasharray="1.4 0.5 1.1 0.4 1.6 0.5"/><path d="M587.5 92.4v-7.5" stroke-dasharray="1.1 0.3 1.1 0.4 1.7 0.4"/><path d="M590.4 92.4v-12" stroke-dasharray="1.4 0.4 1.1 0.4 2.4 0.4"/><path d="M593.3 92.4v-8.5" stroke-dasharray="1.6 0.4 1.7 0.4 1.9 0.5"/><path d="M596.2 92.4v-8" stroke-dasharray="1.1 0.5 1.4 0.4 1.2 0.4"/><path d="M599.2 92.4v-11" stroke-dasharray="0.8 0.4 1.7 0.5 2.0 0.3"/><path d="M602.1 92.4v-11" stroke-dasharray="1.5 0.4 1.6 0.4 2.1 0.4"/><path d="M605 92.4v-11" stroke-dasharray="1.2 0.6 1.4 0.5 2.1 0.3"/><path d="M607.9 92.4v-9.5" stroke-dasharray="0.8 0.3 0.8 0.5 1.4 0.3"/><path d="M610.9 92.4v-8.5" stroke-dasharray="2.2 0.5 1.5 0.6 2.4 0.5"/><path d="M613.8 92.4v-10.5" stroke-dasharray="0.9 0.4 1.0 0.5 2.5 0.4"/><path d="M616.7 92.4v-10.5" stroke-dasharray="0.8 0.5 1.9 0.5 2.3 0.5"/><path d="M619.6 92.4v-11" stroke-dasharray="2.1 0.5 1.7 0.4 1.4 0.5"/><path d="M622.6 92.4v-9" stroke-dasharray="1.7 0.3 1.4 0.5 1.6 0.3"/><path d="M625.5 92.4v-10.5" stroke-dasharray="0.9 0.4 1.6 0.5 1.5 0.3"/><path d="M628.4 92.4v-9" stroke-dasharray="2.1 0.4 0.8 0.4 1.7 0.3"/><path d="M631.3 92.4v-9" stroke-dasharray="1.4 0.6 0.9 0.4 2.4 0.4"/><path d="M634.2 92.4v-8" stroke-dasharray="1.4 0.4 1.9 0.5 2.0 0.3"/><path d="M637.2 92.4v-10.5" stroke-dasharray="1.5 0.5 1.4 0.5 1.1 0.5"/><path d="M640.1 92.4v-10.5" stroke-dasharray="1.9 0.4 1.6 0.5 2.5 0.4"/><path d="M643 92.4v-9" stroke-dasharray="1.9 0.3 1.7 0.6 1.9 0.3"/><path d="M645.9 92.4v-10.5" stroke-dasharray="1.6 0.4 0.9 0.5 1.4 0.5"/></g><defs><linearGradient id="hg13" x1="0" y1="0" x2="0" y2="1"><stop offset="0" stop-color="#ee1010"/><stop offset="0.25" stop-color="#f27070"/><stop offset="0.5" stop-color="#ffffff"/><stop offset="0.7" stop-color="#8c8cf4"/><stop offset="1" stop-color="#0c0cf0"/></linearGradient></defs><rect x="550.9" y="160" width="2.8" height="45.8" fill="url(#hg13)"/><g style="font-family:'Liberation Sans',sans-serif;font-size:3.6px" fill="#444" text-anchor="end"><text x="549.3" y="173.9">100</text><text x="549.3" y="190.7">50</text></g><g shape-rendering="crispEdges"><rect x="555.9" y="160" width="3" height="15.4" fill="#dcdcfa"/><rect x="555.9" y="175.3" width="3" height="15.4" fill="#a4a8f6"/><rect x="555.9" y="190.5" width="3" height="15.4" fill="#6a70f2"/><rect x="558.7" y="160" width="6.5" height="15.4" fill="#1c1cf0"/><rect x="558.7" y="175.3" width="6.5" height="15.4" fill="#1c1cf0"/><rect x="558.7" y="190.5" width="6.5" height="15.4" fill="#1c1cf0"/><rect x="565.1" y="160" width="2.9" height="15.4" fill="#4a50f2"/><rect x="565.1" y="175.3" width="2.9" height="15.4" fill="#a4a8f6"/><rect x="565.1" y="190.5" width="2.9" height="15.4" fill="#4a50f2"/><rect x="567.9" y="160" width="3.1" height="15.4" fill="#ffffff"/><rect x="567.9" y="175.3" width="3.1" height="15.4" fill="#fbe6e0"/><rect x="567.9" y="190.5" width="3.1" height="15.4" fill="#4a50f2"/><rect x="570.9" y="160" width="3.5" height="15.4" fill="#f29090"/><rect x="570.9" y="175.3" width="3.5" height="15.4" fill="#f29090"/><rect x="570.9" y="190.5" width="3.5" height="15.4" fill="#ffffff"/><rect x="574.3" y="160" width="6" height="15.4" fill="#1c1cf0"/><rect x="574.3" y="175.3" width="6" height="15.4" fill="#1c1cf0"/><rect x="574.3" y="190.5" width="6" height="15.4" fill="#1c1cf0"/><rect x="580.1" y="160" width="2.6" height="15.4" fill="#6a70f2"/><rect x="580.1" y="175.3" width="2.6" height="15.4" fill="#a4a8f6"/><rect x="580.1" y="190.5" width="2.6" height="15.4" fill="#4a50f2"/><rect x="582.6" y="160" width="4.3" height="15.4" fill="#dcdcfa"/><rect x="582.6" y="175.3" width="4.3" height="15.4" fill="#a4a8f6"/><rect x="582.6" y="190.5" width="4.3" height="15.4" fill="#6a70f2"/><rect x="586.8" y="160" width="6.9" height="15.4" fill="#1c1cf0"/><rect x="586.8" y="175.3" width="6.9" height="15.4" fill="#1c1cf0"/><rect x="586.8" y="190.5" width="6.9" height="15.4" fill="#1c1cf0"/><rect x="593.5" y="160" width="2.6" height="15.4" fill="#4a50f2"/><rect x="593.5" y="175.3" width="2.6" height="15.4" fill="#4a50f2"/><rect x="593.5" y="190.5" width="2.6" height="15.4" fill="#4a50f2"/><rect x="596" y="160" width="3.4" height="15.4" fill="#ffffff"/><rect x="596" y="175.3" width="3.4" height="15.4" fill="#fbe6e0"/><rect x="596" y="190.5" width="3.4" height="15.4" fill="#6a70f2"/><rect x="599.3" y="160" width="3.1" height="15.4" fill="#a4a8f6"/><rect x="599.3" y="175.3" width="3.1" height="15.4" fill="#a4a8f6"/><rect x="599.3" y="190.5" width="3.1" height="15.4" fill="#4a50f2"/><rect x="602.2" y="160" width="3.1" height="15.4" fill="#1c1cf0"/><rect x="602.2" y="175.3" width="3.1" height="15.4" fill="#1c1cf0"/><rect x="602.2" y="190.5" width="3.1" height="15.4" fill="#1c1cf0"/><rect x="605.2" y="160" width="5.9" height="15.4" fill="#4a50f2"/><rect x="605.2" y="175.3" width="5.9" height="15.4" fill="#a4a8f6"/><rect x="605.2" y="190.5" width="5.9" height="15.4" fill="#4a50f2"/><rect x="611" y="160" width="3" height="15.4" fill="#ee2020"/><rect x="611" y="175.3" width="3" height="15.4" fill="#ee2020"/><rect x="611" y="190.5" width="3" height="15.4" fill="#fbe6e0"/><rect x="613.9" y="160" width="3.1" height="15.4" fill="#a4a8f6"/><rect x="613.9" y="175.3" width="3.1" height="15.4" fill="#dcdcfa"/><rect x="613.9" y="190.5" width="3.1" height="15.4" fill="#6a70f2"/><rect x="616.9" y="160" width="6.9" height="15.4" fill="#6a70f2"/><rect x="616.9" y="175.3" width="6.9" height="15.4" fill="#dcdcfa"/><rect x="616.9" y="190.5" width="6.9" height="15.4" fill="#6a70f2"/><rect x="623.6" y="160" width="3.4" height="15.4" fill="#4a50f2"/><rect x="623.6" y="175.3" width="3.4" height="15.4" fill="#a4a8f6"/><rect x="623.6" y="190.5" width="3.4" height="15.4" fill="#4a50f2"/><rect x="626.9" y="160" width="9.4" height="15.4" fill="#1c1cf0"/><rect x="626.9" y="175.3" width="9.4" height="15.4" fill="#1c1cf0"/><rect x="626.9" y="190.5" width="9.4" height="15.4" fill="#1c1cf0"/><rect x="636.1" y="160" width="2.6" height="15.4" fill="#dcdcfa"/><rect x="636.1" y="175.3" width="2.6" height="15.4" fill="#dcdcfa"/><rect x="636.1" y="190.5" width="2.6" height="15.4" fill="#6a70f2"/><rect x="638.6" y="160" width="3.5" height="15.4" fill="#1c1cf0"/><rect x="638.6" y="175.3" width="3.5" height="15.4" fill="#1c1cf0"/><rect x="638.6" y="190.5" width="3.5" height="15.4" fill="#1c1cf0"/><rect x="642" y="160" width="5.9" height="15.4" fill="#a4a8f6"/><rect x="642" y="175.3" width="5.9" height="15.4" fill="#dcdcfa"/><rect x="642" y="190.5" width="5.9" height="15.4" fill="#6a70f2"/></g><text x="650.5" y="170.2" style="font-family:'Liberation Sans',sans-serif;font-size:6px" fill="#111">HepG2 (Scr)</text><text x="650.5" y="185.5" style="font-family:'Liberation Sans',sans-serif;font-size:6px" fill="#111">miR-23a KO</text><text x="650.5" y="200.7" style="font-family:'Liberation Sans',sans-serif;font-size:6px" fill="#111">miR-27a KO</text><g stroke="#8c8c8c" stroke-width="1.25" fill="none"><path d="M557.3 158.7v-9.5" stroke-dasharray="2.1 0.5 1.9 0.5 2.0 0.5"/><path d="M560.2 158.7v-9" stroke-dasharray="1.0 0.5 1.1 0.4 1.6 0.5"/><path d="M563.1 158.7v-11" stroke-dasharray="2.2 0.6 0.9 0.5 2.3 0.4"/><path d="M566 158.7v-10.5" stroke-dasharray="2.1 0.5 1.1 0.6 1.7 0.5"/><path d="M568.8 158.7v-11" stroke-dasharray="1.7 0.6 1.6 0.5 1.5 0.4"/><path d="M571.7 158.7v-9" stroke-dasharray="1.8 0.5 1.7 0.3 2.0 0.4"/><path d="M574.6 158.7v-8.5" stroke-dasharray="1.1 0.4 1.2 0.4 1.4 0.5"/><path d="M577.4 158.7v-11" stroke-dasharray="1.1 0.4 1.0 0.4 1.1 0.4"/><path d="M580.3 158.7v-10.5" stroke-dasharray="1.8 0.6 0.9 0.3 2.2 0.5"/><path d="M583.2 158.7v-9" stroke-dasharray="1.8 0.5 1.1 0.5 1.5 0.4"/><path d="M586.1 158.7v-9" stroke-dasharray="1.8 0.3 2.0 0.5 2.1 0.3"/><path d="M588.9 158.7v-14" stroke-dasharray="1.8 0.3 1.5 0.5 1.3 0.3"/><path d="M591.8 158.7v-8" stroke-dasharray="1.0 0.4 0.9 0.5 1.8 0.4"/><path d="M594.7 158.7v-7.5" stroke-dasharray="2.0 0.5 1.4 0.3 1.5 0.4"/><path d="M597.5 158.7v-9.5" stroke-dasharray="1.8 0.6 1.4 0.6 1.1 0.4"/><path d="M600.4 158.7v-8.5" stroke-dasharray="2.2 0.5 1.4 0.5 1.4 0.3"/><path d="M603.3 158.7v-11" stroke-dasharray="1.0 0.3 1.3 0.5 1.3 0.4"/><path d="M606.2 158.7v-8.5" stroke-dasharray="1.1 0.4 1.0 0.4 1.1 0.4"/><path d="M609 158.7v-10.5" stroke-dasharray="0.9 0.6 1.6 0.4 1.7 0.5"/><path d="M611.9 158.7v-10.5" stroke-dasharray="1.2 0.4 1.0 0.6 1.2 0.5"/><path d="M614.8 158.7v-8.5" stroke-dasharray="1.6 0.4 1.2 0.3 1.7 0.4"/><path d="M617.6 158.7v-11" stroke-dasharray="0.9 0.5 1.0 0.5 1.5 0.5"/><path d="M620.5 158.7v-11" stroke-dasharray="2.1 0.6 1.9 0.5 1.1 0.5"/><path d="M623.4 158.7v-7.5" stroke-dasharray="1.9 0.4 1.7 0.5 2.4 0.4"/><path d="M626.3 158.7v-8" stroke-dasharray="1.6 0.5 1.8 0.6 1.2 0.3"/><path d="M629.1 158.7v-11" stroke-dasharray="1.3 0.4 1.0 0.5 1.4 0.4"/><path d="M632 158.7v-7.5" stroke-dasharray="0.8 0.5 1.1 0.3 1.5 0.4"/><path d="M634.9 158.7v-8.5" stroke-dasharray="2.0 0.5 1.1 0.5 1.2 0.4"/><path d="M637.7 158.7v-10.5" stroke-dasharray="1.2 0.5 1.3 0.3 1.0 0.4"/><path d="M640.6 158.7v-9.5" stroke-dasharray="2.2 0.6 1.9 0.4 1.2 0.5"/><path d="M643.5 158.7v-8" stroke-dasharray="1.2 0.4 1.9 0.5 1.3 0.4"/><path d="M646.4 158.7v-10.5" stroke-dasharray="0.8 0.6 1.4 0.5 1.2 0.3"/></g><defs><linearGradient id="hg14" x1="0" y1="0" x2="0" y2="1"><stop offset="0" stop-color="#ee1010"/><stop offset="0.25" stop-color="#f27070"/><stop offset="0.5" stop-color="#ffffff"/><stop offset="0.7" stop-color="#8c8cf4"/><stop offset="1" stop-color="#0c0cf0"/></linearGradient></defs><rect x="549.2" y="228.2" width="2.8" height="44.3" fill="url(#hg14)"/><g style="font-family:'Liberation Sans',sans-serif;font-size:3.6px" fill="#444" text-anchor="end"><text x="547.6" y="232.2">80</text><text x="547.6" y="242.5">60</text><text x="547.6" y="253.5">40</text><text x="547.6" y="264">20</text></g><g shape-rendering="crispEdges"><rect x="554.2" y="228.2" width="2.9" height="14.9" fill="#6a70f2"/><rect x="554.2" y="243" width="2.9" height="14.9" fill="#1c1cf0"/><rect x="554.2" y="257.7" width="2.9" height="14.9" fill="#1c1cf0"/><rect x="557" y="228.2" width="3.5" height="14.9" fill="#1c1cf0"/><rect x="557" y="243" width="3.5" height="14.9" fill="#1c1cf0"/><rect x="557" y="257.7" width="3.5" height="14.9" fill="#1c1cf0"/><rect x="560.4" y="228.2" width="3.1" height="14.9" fill="#ffffff"/><rect x="560.4" y="243" width="3.1" height="14.9" fill="#1c1cf0"/><rect x="560.4" y="257.7" width="3.1" height="14.9" fill="#ffffff"/><rect x="563.4" y="228.2" width="3.5" height="14.9" fill="#1c1cf0"/><rect x="563.4" y="243" width="3.5" height="14.9" fill="#1c1cf0"/><rect x="563.4" y="257.7" width="3.5" height="14.9" fill="#1c1cf0"/><rect x="566.7" y="228.2" width="3.1" height="14.9" fill="#a4a8f6"/><rect x="566.7" y="243" width="3.1" height="14.9" fill="#ffffff"/><rect x="566.7" y="257.7" width="3.1" height="14.9" fill="#6a70f2"/><rect x="569.7" y="228.2" width="3" height="14.9" fill="#1c1cf0"/><rect x="569.7" y="243" width="3" height="14.9" fill="#1c1cf0"/><rect x="569.7" y="257.7" width="3" height="14.9" fill="#1c1cf0"/><rect x="572.6" y="228.2" width="3.4" height="14.9" fill="#4a50f2"/><rect x="572.6" y="243" width="3.4" height="14.9" fill="#1c1cf0"/><rect x="572.6" y="257.7" width="3.4" height="14.9" fill="#4a50f2"/><rect x="575.9" y="228.2" width="3.5" height="14.9" fill="#1c1cf0"/><rect x="575.9" y="243" width="3.5" height="14.9" fill="#1c1cf0"/><rect x="575.9" y="257.7" width="3.5" height="14.9" fill="#1c1cf0"/><rect x="579.3" y="228.2" width="3.5" height="14.9" fill="#4a50f2"/><rect x="579.3" y="243" width="3.5" height="14.9" fill="#1c1cf0"/><rect x="579.3" y="257.7" width="3.5" height="14.9" fill="#1c1cf0"/><rect x="582.6" y="228.2" width="3" height="14.9" fill="#1c1cf0"/><rect x="582.6" y="243" width="3" height="14.9" fill="#1c1cf0"/><rect x="582.6" y="257.7" width="3" height="14.9" fill="#ffffff"/><rect x="585.5" y="228.2" width="3.4" height="14.9" fill="#1c1cf0"/><rect x="585.5" y="243" width="3.4" height="14.9" fill="#1c1cf0"/><rect x="585.5" y="257.7" width="3.4" height="14.9" fill="#1c1cf0"/><rect x="588.8" y="228.2" width="3.1" height="14.9" fill="#6a70f2"/><rect x="588.8" y="243" width="3.1" height="14.9" fill="#4a50f2"/><rect x="588.8" y="257.7" width="3.1" height="14.9" fill="#1c1cf0"/><rect x="591.8" y="228.2" width="9.4" height="14.9" fill="#1c1cf0"/><rect x="591.8" y="243" width="9.4" height="14.9" fill="#1c1cf0"/><rect x="591.8" y="257.7" width="9.4" height="14.9" fill="#1c1cf0"/><rect x="601" y="228.2" width="3" height="14.9" fill="#4a50f2"/><rect x="601" y="243" width="3" height="14.9" fill="#1c1cf0"/><rect x="601" y="257.7" width="3" height="14.9" fill="#1c1cf0"/><rect x="603.9" y="228.2" width="3.5" height="14.9" fill="#ffffff"/><rect x="603.9" y="243" width="3.5" height="14.9" fill="#ffffff"/><rect x="603.9" y="257.7" width="3.5" height="14.9" fill="#ffffff"/><rect x="607.2" y="228.2" width="3.4" height="14.9" fill="#a4a8f6"/><rect x="607.2" y="243" width="3.4" height="14.9" fill="#dcdcfa"/><rect x="607.2" y="257.7" width="3.4" height="14.9" fill="#a4a8f6"/><rect x="610.5" y="228.2" width="18.5" height="14.9" fill="#1c1cf0"/><rect x="610.5" y="243" width="18.5" height="14.9" fill="#1c1cf0"/><rect x="610.5" y="257.7" width="18.5" height="14.9" fill="#1c1cf0"/><rect x="628.9" y="228.2" width="6.9" height="14.9" fill="#ee2020"/><rect x="628.9" y="243" width="6.9" height="14.9" fill="#ee2020"/><rect x="628.9" y="257.7" width="6.9" height="14.9" fill="#f8c4c0"/><rect x="635.6" y="228.2" width="4" height="14.9" fill="#1c1cf0"/><rect x="635.6" y="243" width="4" height="14.9" fill="#1c1cf0"/><rect x="635.6" y="257.7" width="4" height="14.9" fill="#1c1cf0"/><rect x="639.5" y="228.2" width="2.6" height="14.9" fill="#4a50f2"/><rect x="639.5" y="243" width="2.6" height="14.9" fill="#4a50f2"/><rect x="639.5" y="257.7" width="2.6" height="14.9" fill="#1c1cf0"/><rect x="642" y="228.2" width="3.1" height="14.9" fill="#f8c4c0"/><rect x="642" y="243" width="3.1" height="14.9" fill="#f29090"/><rect x="642" y="257.7" width="3.1" height="14.9" fill="#fbe6e0"/><rect x="645" y="228.2" width="2.9" height="14.9" fill="#1c1cf0"/><rect x="645" y="243" width="2.9" height="14.9" fill="#ffffff"/><rect x="645" y="257.7" width="2.9" height="14.9" fill="#ffffff"/></g><text x="650.5" y="238.5" style="font-family:'Liberation Sans',sans-serif;font-size:6px" fill="#111">HepG2 (Scr)</text><text x="650.5" y="254.3" style="font-family:'Liberation Sans',sans-serif;font-size:6px" fill="#111">miR-23a KO</text><text x="650.5" y="269.1" style="font-family:'Liberation Sans',sans-serif;font-size:6px" fill="#111">miR-27a KO</text><g stroke="#8c8c8c" stroke-width="1.25" fill="none"><path d="M555.7 226.9v-7.5" stroke-dasharray="1.9 0.5 1.1 0.5 1.4 0.3"/><path d="M558.6 226.9v-10.5" stroke-dasharray="1.8 0.4 1.7 0.3 1.3 0.5"/><path d="M561.5 226.9v-9.5" stroke-dasharray="1.3 0.5 1.4 0.3 2.0 0.4"/><path d="M564.4 226.9v-7.5" stroke-dasharray="1.0 0.4 0.9 0.4 2.5 0.4"/><path d="M567.4 226.9v-10.5" stroke-dasharray="0.9 0.5 1.9 0.5 2.0 0.4"/><path d="M570.3 226.9v-11" stroke-dasharray="2.0 0.5 1.0 0.4 1.3 0.5"/><path d="M573.2 226.9v-11" stroke-dasharray="1.0 0.6 1.1 0.3 1.2 0.4"/><path d="M576.1 226.9v-9" stroke-dasharray="0.9 0.4 1.6 0.5 1.7 0.4"/><path d="M579.1 226.9v-10.5" stroke-dasharray="2.0 0.4 1.3 0.4 1.9 0.4"/><path d="M582 226.9v-11" stroke-dasharray="1.8 0.5 0.8 0.5 2.4 0.4"/><path d="M584.9 226.9v-9.5" stroke-dasharray="1.3 0.4 1.2 0.5 1.1 0.4"/><path d="M587.8 226.9v-8" stroke-dasharray="1.3 0.3 1.2 0.6 1.9 0.4"/><path d="M590.8 226.9v-8" stroke-dasharray="1.2 0.3 1.0 0.4 1.3 0.5"/><path d="M593.7 226.9v-9.5" stroke-dasharray="1.1 0.5 1.2 0.5 2.3 0.3"/><path d="M596.6 226.9v-11" stroke-dasharray="1.9 0.3 1.6 0.4 1.7 0.3"/><path d="M599.5 226.9v-10.5" stroke-dasharray="1.9 0.4 1.9 0.5 1.4 0.5"/><path d="M602.5 226.9v-10.5" stroke-dasharray="0.9 0.5 1.0 0.3 2.4 0.3"/><path d="M605.4 226.9v-10.5" stroke-dasharray="1.6 0.4 1.7 0.4 1.6 0.4"/><path d="M608.3 226.9v-8.5" stroke-dasharray="0.9 0.5 1.0 0.3 2.4 0.5"/><path d="M611.2 226.9v-8" stroke-dasharray="1.3 0.6 1.6 0.5 1.1 0.4"/><path d="M614.2 226.9v-9.5" stroke-dasharray="1.3 0.3 1.2 0.6 2.0 0.4"/><path d="M617.1 226.9v-11" stroke-dasharray="2.0 0.4 2.0 0.6 2.2 0.5"/><path d="M620 226.9v-10.5" stroke-dasharray="1.7 0.3 2.0 0.6 1.2 0.5"/><path d="M622.9 226.9v-10.5" stroke-dasharray="1.5 0.5 1.2 0.6 1.4 0.4"/><path d="M625.9 226.9v-9" stroke-dasharray="1.6 0.5 1.7 0.3 1.5 0.3"/><path d="M628.8 226.9v-7.5" stroke-dasharray="1.4 0.4 1.9 0.3 1.2 0.5"/><path d="M631.7 226.9v-8" stroke-dasharray="1.2 0.4 1.5 0.6 1.0 0.4"/><path d="M634.6 226.9v-10.5" stroke-dasharray="1.3 0.5 1.1 0.5 2.5 0.5"/><path d="M637.6 226.9v-11" stroke-dasharray="2.0 0.4 1.3 0.5 1.2 0.3"/><path d="M640.5 226.9v-8.5" stroke-dasharray="2.0 0.3 1.7 0.4 2.0 0.3"/><path d="M643.4 226.9v-8.5" stroke-dasharray="1.8 0.5 1.7 0.4 1.3 0.4"/><path d="M646.3 226.9v-12" stroke-dasharray="1.8 0.5 1.4 0.4 1.2 0.4"/></g><defs><linearGradient id="hg15" x1="0" y1="0" x2="0" y2="1"><stop offset="0" stop-color="#ee1010"/><stop offset="0.25" stop-color="#f27070"/><stop offset="0.5" stop-color="#ffffff"/><stop offset="0.7" stop-color="#8c8cf4"/><stop offset="1" stop-color="#0c0cf0"/></linearGradient></defs><rect x="550.9" y="292.5" width="2.8" height="46.3" fill="url(#hg15)"/><g style="font-family:'Liberation Sans',sans-serif;font-size:3.6px" fill="#444" text-anchor="end"><text x="549.3" y="305.9">100</text><text x="549.3" y="322.5">50</text></g><g shape-rendering="crispEdges"><rect x="555.9" y="292.5" width="6" height="15.6" fill="#1c1cf0"/><rect x="555.9" y="307.9" width="6" height="15.6" fill="#1c1cf0"/><rect x="555.9" y="323.4" width="6" height="15.6" fill="#1c1cf0"/><rect x="561.7" y="292.5" width="3.5" height="15.6" fill="#1c1cf0"/><rect x="561.7" y="307.9" width="3.5" height="15.6" fill="#4a50f2"/><rect x="561.7" y="323.4" width="3.5" height="15.6" fill="#1c1cf0"/><rect x="565.1" y="292.5" width="3.4" height="15.6" fill="#1c1cf0"/><rect x="565.1" y="307.9" width="3.4" height="15.6" fill="#4a50f2"/><rect x="565.1" y="323.4" width="3.4" height="15.6" fill="#4a50f2"/><rect x="568.4" y="292.5" width="6" height="15.6" fill="#1c1cf0"/><rect x="568.4" y="307.9" width="6" height="15.6" fill="#1c1cf0"/><rect x="568.4" y="323.4" width="6" height="15.6" fill="#1c1cf0"/><rect x="574.3" y="292.5" width="3.1" height="15.6" fill="#dcdcfa"/><rect x="574.3" y="307.9" width="3.1" height="15.6" fill="#ffffff"/><rect x="574.3" y="323.4" width="3.1" height="15.6" fill="#f29090"/><rect x="577.3" y="292.5" width="9.7" height="15.6" fill="#6a70f2"/><rect x="577.3" y="307.9" width="9.7" height="15.6" fill="#8488f4"/><rect x="577.3" y="323.4" width="9.7" height="15.6" fill="#8488f4"/><rect x="586.8" y="292.5" width="3.5" height="15.6" fill="#1c1cf0"/><rect x="586.8" y="307.9" width="3.5" height="15.6" fill="#1c1cf0"/><rect x="586.8" y="323.4" width="3.5" height="15.6" fill="#1c1cf0"/><rect x="590.1" y="292.5" width="2.8" height="15.6" fill="#4a50f2"/><rect x="590.1" y="307.9" width="2.8" height="15.6" fill="#8488f4"/><rect x="590.1" y="323.4" width="2.8" height="15.6" fill="#4a50f2"/><rect x="592.7" y="292.5" width="3.4" height="15.6" fill="#1c1cf0"/><rect x="592.7" y="307.9" width="3.4" height="15.6" fill="#1c1cf0"/><rect x="592.7" y="323.4" width="3.4" height="15.6" fill="#1c1cf0"/><rect x="596" y="292.5" width="2.9" height="15.6" fill="#4a50f2"/><rect x="596" y="307.9" width="2.9" height="15.6" fill="#8488f4"/><rect x="596" y="323.4" width="2.9" height="15.6" fill="#4a50f2"/><rect x="598.8" y="292.5" width="3.1" height="15.6" fill="#1c1cf0"/><rect x="598.8" y="307.9" width="3.1" height="15.6" fill="#1c1cf0"/><rect x="598.8" y="323.4" width="3.1" height="15.6" fill="#1c1cf0"/><rect x="601.8" y="292.5" width="3.6" height="15.6" fill="#4a50f2"/><rect x="601.8" y="307.9" width="3.6" height="15.6" fill="#8488f4"/><rect x="601.8" y="323.4" width="3.6" height="15.6" fill="#8488f4"/><rect x="605.2" y="292.5" width="5.9" height="15.6" fill="#1c1cf0"/><rect x="605.2" y="307.9" width="5.9" height="15.6" fill="#1c1cf0"/><rect x="605.2" y="323.4" width="5.9" height="15.6" fill="#1c1cf0"/><rect x="611" y="292.5" width="12.8" height="15.6" fill="#1c1cf0"/><rect x="611" y="307.9" width="12.8" height="15.6" fill="#4a50f2"/><rect x="611" y="323.4" width="12.8" height="15.6" fill="#4a50f2"/><rect x="623.6" y="292.5" width="3.4" height="15.6" fill="#a4a8f6"/><rect x="623.6" y="307.9" width="3.4" height="15.6" fill="#a4a8f6"/><rect x="623.6" y="323.4" width="3.4" height="15.6" fill="#a4a8f6"/><rect x="626.9" y="292.5" width="3.1" height="15.6" fill="#1c1cf0"/><rect x="626.9" y="307.9" width="3.1" height="15.6" fill="#1c1cf0"/><rect x="626.9" y="323.4" width="3.1" height="15.6" fill="#1c1cf0"/><rect x="629.9" y="292.5" width="3.4" height="15.6" fill="#ffffff"/><rect x="629.9" y="307.9" width="3.4" height="15.6" fill="#ffffff"/><rect x="629.9" y="323.4" width="3.4" height="15.6" fill="#ee2020"/><rect x="633.1" y="292.5" width="9" height="15.6" fill="#1c1cf0"/><rect x="633.1" y="307.9" width="9" height="15.6" fill="#1c1cf0"/><rect x="633.1" y="323.4" width="9" height="15.6" fill="#1c1cf0"/><rect x="642" y="292.5" width="3.1" height="15.6" fill="#ffffff"/><rect x="642" y="307.9" width="3.1" height="15.6" fill="#f8c4c0"/><rect x="642" y="323.4" width="3.1" height="15.6" fill="#ffffff"/><rect x="645" y="292.5" width="2.9" height="15.6" fill="#4a50f2"/><rect x="645" y="307.9" width="2.9" height="15.6" fill="#4a50f2"/><rect x="645" y="323.4" width="2.9" height="15.6" fill="#4a50f2"/></g><text x="650.5" y="302.8" style="font-family:'Liberation Sans',sans-serif;font-size:6px" fill="#111">HepG2 (Scr)</text><text x="650.5" y="318.2" style="font-family:'Liberation Sans',sans-serif;font-size:6px" fill="#111">miR-23a KO</text><text x="650.5" y="333.6" style="font-family:'Liberation Sans',sans-serif;font-size:6px" fill="#111">miR-27a KO</text><g stroke="#8c8c8c" stroke-width="1.25" fill="none"><path d="M557.3 291.2v-11.5" stroke-dasharray="1.8 0.3 2.0 0.3 2.3 0.4"/><path d="M560.2 291.2v-8" stroke-dasharray="1.3 0.3 1.4 0.4 1.6 0.4"/><path d="M563.1 291.2v-8" stroke-dasharray="1.3 0.4 1.2 0.5 1.6 0.4"/><path d="M566 291.2v-8" stroke-dasharray="0.9 0.5 1.2 0.5 2.4 0.4"/><path d="M568.8 291.2v-10.5" stroke-dasharray="1.9 0.3 2.0 0.6 1.3 0.4"/><path d="M571.7 291.2v-11" stroke-dasharray="1.8 0.5 1.1 0.4 2.3 0.3"/><path d="M574.6 291.2v-7.5" stroke-dasharray="0.9 0.5 1.9 0.4 2.4 0.3"/><path d="M577.4 291.2v-11" stroke-dasharray="1.3 0.4 1.2 0.5 1.5 0.5"/><path d="M580.3 291.2v-9.5" stroke-dasharray="1.9 0.5 1.8 0.4 1.2 0.4"/><path d="M583.2 291.2v-10.5" stroke-dasharray="2.0 0.6 1.7 0.4 1.1 0.5"/><path d="M586.1 291.2v-9.5" stroke-dasharray="1.5 0.4 2.0 0.3 1.1 0.5"/><path d="M588.9 291.2v-11" stroke-dasharray="1.1 0.5 1.3 0.5 2.0 0.4"/><path d="M591.8 291.2v-7.5" stroke-dasharray="1.7 0.4 1.2 0.5 2.1 0.4"/><path d="M594.7 291.2v-9.5" stroke-dasharray="0.8 0.4 1.8 0.4 2.3 0.5"/><path d="M597.5 291.2v-11" stroke-dasharray="1.5 0.3 1.1 0.6 1.5 0.5"/><path d="M600.4 291.2v-9" stroke-dasharray="1.5 0.3 1.2 0.4 2.4 0.5"/><path d="M603.3 291.2v-9" stroke-dasharray="1.8 0.3 1.8 0.5 1.5 0.5"/><path d="M606.2 291.2v-8.5" stroke-dasharray="1.2 0.4 1.5 0.5 1.9 0.3"/><path d="M609 291.2v-8" stroke-dasharray="0.9 0.6 1.7 0.4 1.2 0.3"/><path d="M611.9 291.2v-11" stroke-dasharray="1.9 0.4 1.1 0.5 1.8 0.3"/><path d="M614.8 291.2v-11" stroke-dasharray="1.6 0.5 1.6 0.6 1.7 0.4"/><path d="M617.6 291.2v-11" stroke-dasharray="1.4 0.4 1.0 0.4 2.5 0.3"/><path d="M620.5 291.2v-9" stroke-dasharray="1.1 0.3 1.1 0.5 1.1 0.5"/><path d="M623.4 291.2v-10.5" stroke-dasharray="2.0 0.4 1.0 0.6 1.1 0.4"/><path d="M626.3 291.2v-10.5" stroke-dasharray="1.0 0.5 1.0 0.4 2.5 0.5"/><path d="M629.1 291.2v-10.5" stroke-dasharray="1.4 0.4 1.9 0.6 1.4 0.5"/><path d="M632 291.2v-7.5" stroke-dasharray="1.4 0.5 0.8 0.5 1.0 0.4"/><path d="M634.9 291.2v-13.5" stroke-dasharray="1.4 0.4 1.7 0.4 2.2 0.4"/><path d="M637.7 291.2v-9" stroke-dasharray="1.0 0.5 1.2 0.6 1.5 0.4"/><path d="M640.6 291.2v-10.5" stroke-dasharray="1.1 0.4 1.7 0.5 2.0 0.4"/><path d="M643.5 291.2v-9" stroke-dasharray="2.1 0.6 1.1 0.6 1.4 0.4"/><path d="M646.4 291.2v-9.5" stroke-dasharray="1.8 0.4 1.5 0.6 1.2 0.4"/></g>
</svg>
</body></html>
